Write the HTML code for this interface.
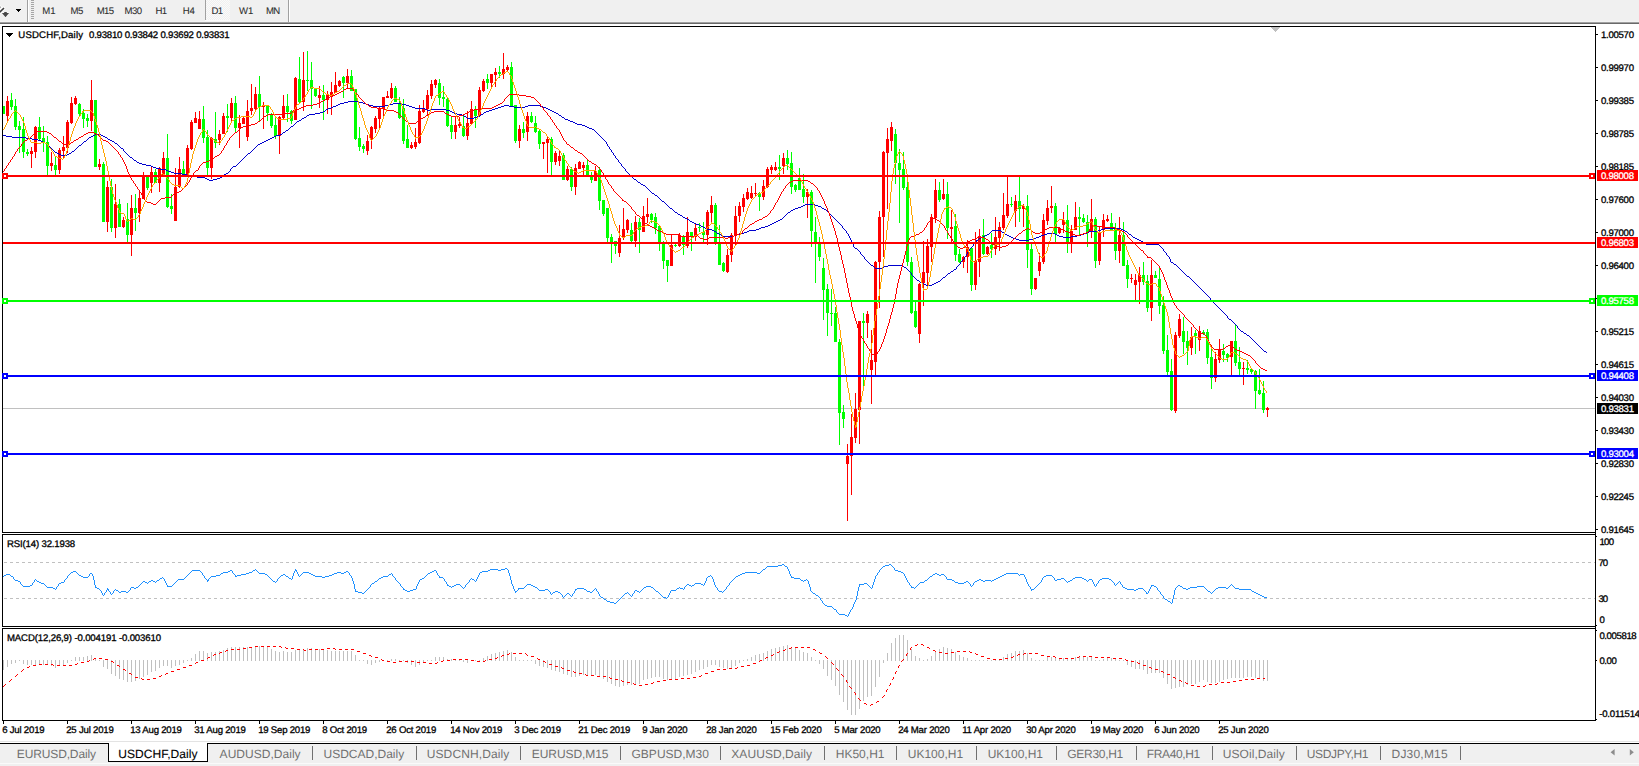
<!DOCTYPE html>
<html lang="en"><head><meta charset="utf-8"><title>USDCHF,Daily</title>
<style>
html,body{margin:0;padding:0;background:#fff;overflow:hidden}
body{width:1639px;height:766px;font-family:"Liberation Sans", sans-serif}
svg{display:block;position:absolute;left:0;top:0;font-family:"Liberation Sans", sans-serif;shape-rendering:crispEdges}
svg text{white-space:pre;stroke:currentColor;stroke-width:0.3px;text-rendering:geometricPrecision}
svg .aa{shape-rendering:geometricPrecision}
</style></head>
<body>
<svg width="1639" height="766" viewBox="0 0 1639 766">
<rect x="0" y="0" width="1639" height="24" fill="#f0f0f0"/>
<rect x="0" y="21" width="1640" height="1" fill="#f3f3f3"/>
<rect x="0" y="22" width="1640" height="1" fill="#a0a0a0"/>
<rect x="0" y="23" width="1640" height="1" fill="#696969"/>
<rect x="0" y="24" width="1639" height="2" fill="#ffffff"/>
<g class="aa"><path d="M-1 13 L3.6 8.3" stroke="#fff" stroke-width="3.2" fill="none" stroke-linecap="round"/><path d="M-1 5.5 L1.6 7.2 L-1 8 Z" fill="#fff" stroke="#fff" stroke-width="1.5"/><path d="M1.2 12.6 L9.8 12.6 L5.5 18 Z" fill="#fff"/><path d="M-1 12.9 L3.5 8.5" stroke="#3c3c3c" stroke-width="1.7" fill="none" stroke-linecap="round"/><path d="M-1 6 L1.4 7.2 L-1 7.6 Z" fill="#404040"/><path d="M1.9 12.9 L9.1 12.9 L5.5 17.3 Z" fill="#484848"/><path d="M4.2 12 h2.6 v1.4 h-2.6z" fill="#484848"/></g>
<rect x="16" y="9" width="5" height="1" fill="#000"/>
<rect x="17" y="10" width="3" height="1" fill="#000"/>
<rect x="18" y="11" width="1" height="1" fill="#000"/>
<rect x="27" y="0" width="1" height="22" fill="#a0a0a0"/>
<rect x="28" y="0" width="1" height="22" fill="#ffffff"/>
<rect x="31" y="0" width="3" height="1" fill="#a6a6a6"/>
<rect x="31" y="2" width="3" height="1" fill="#a6a6a6"/>
<rect x="31" y="4" width="3" height="1" fill="#a6a6a6"/>
<rect x="31" y="6" width="3" height="1" fill="#a6a6a6"/>
<rect x="31" y="8" width="3" height="1" fill="#a6a6a6"/>
<rect x="31" y="10" width="3" height="1" fill="#a6a6a6"/>
<rect x="31" y="12" width="3" height="1" fill="#a6a6a6"/>
<rect x="31" y="14" width="3" height="1" fill="#a6a6a6"/>
<rect x="31" y="16" width="3" height="1" fill="#a6a6a6"/>
<rect x="31" y="18" width="3" height="1" fill="#a6a6a6"/>
<defs><pattern id="chk" width="2" height="2" patternUnits="userSpaceOnUse"><rect width="2" height="2" fill="#f0f0f0"/><rect width="1" height="1" fill="#fafafa"/><rect x="1" y="1" width="1" height="1" fill="#fafafa"/></pattern></defs>
<rect x="206" y="0" width="24" height="20" fill="url(#chk)"/>
<rect x="205" y="0" width="1" height="20" fill="#a0a0a0"/>
<rect x="205" y="20" width="26" height="1" fill="#fbfbfb"/>
<rect x="288" y="0" width="1" height="22" fill="#a0a0a0"/>
<rect x="289" y="0" width="1" height="22" fill="#ffffff"/>
<text x="42.3" y="14" font-size="9.6" fill="#2e2e2e" color="#2e2e2e" textLength="13.2" lengthAdjust="spacing" style="stroke-width:0.08px">M1</text>
<text x="70.5" y="14" font-size="9.6" fill="#2e2e2e" color="#2e2e2e" textLength="12.8" lengthAdjust="spacing" style="stroke-width:0.08px">M5</text>
<text x="96.8" y="14" font-size="9.6" fill="#2e2e2e" color="#2e2e2e" textLength="17.3" lengthAdjust="spacing" style="stroke-width:0.08px">M15</text>
<text x="124.5" y="14" font-size="9.6" fill="#2e2e2e" color="#2e2e2e" textLength="17.7" lengthAdjust="spacing" style="stroke-width:0.08px">M30</text>
<text x="155.6" y="14" font-size="9.6" fill="#2e2e2e" color="#2e2e2e" textLength="11.6" lengthAdjust="spacing" style="stroke-width:0.08px">H1</text>
<text x="182.7" y="14" font-size="9.6" fill="#2e2e2e" color="#2e2e2e" textLength="12.2" lengthAdjust="spacing" style="stroke-width:0.08px">H4</text>
<text x="211.6" y="14" font-size="9.6" fill="#2e2e2e" color="#2e2e2e" textLength="11.6" lengthAdjust="spacing" style="stroke-width:0.08px">D1</text>
<text x="239" y="14" font-size="9.6" fill="#2e2e2e" color="#2e2e2e" textLength="14.3" lengthAdjust="spacing" style="stroke-width:0.08px">W1</text>
<text x="265.9" y="14" font-size="9.6" fill="#2e2e2e" color="#2e2e2e" textLength="14.4" lengthAdjust="spacing" style="stroke-width:0.08px">MN</text>
<rect x="2" y="26" width="1594" height="1" fill="#000"/>
<rect x="2" y="532" width="1594" height="1" fill="#000"/>
<rect x="2" y="534" width="1594" height="1" fill="#000"/>
<rect x="2" y="626" width="1594" height="1" fill="#000"/>
<rect x="2" y="628" width="1594" height="1" fill="#000"/>
<rect x="2" y="720" width="1594" height="1" fill="#000"/>
<rect x="2" y="26" width="1" height="507" fill="#000"/>
<rect x="2" y="534" width="1" height="93" fill="#000"/>
<rect x="2" y="628" width="1" height="93" fill="#000"/>
<rect x="1595" y="26" width="1" height="695" fill="#000"/>
<rect x="1271" y="27" width="9" height="1" fill="#c0c0c0"/>
<rect x="1272" y="28" width="7" height="1" fill="#c0c0c0"/>
<rect x="1273" y="29" width="5" height="1" fill="#c0c0c0"/>
<rect x="1274" y="30" width="3" height="1" fill="#c0c0c0"/>
<rect x="1275" y="31" width="1" height="1" fill="#c0c0c0"/>
<clipPath id="cm"><rect x="3" y="27" width="1592" height="505"/></clipPath>
<g clip-path="url(#cm)">
<rect x="3" y="408" width="1592" height="1" fill="#c0c0c0"/>
<rect x="3" y="106" width="1" height="8" fill="#00ff00"/>
<rect x="2" y="106" width="3" height="8" fill="#00ff00"/>
<rect x="7" y="96" width="1" height="26" fill="#ff0000"/>
<rect x="6" y="101" width="3" height="15" fill="#ff0000"/>
<rect x="11" y="93" width="1" height="17" fill="#00ff00"/>
<rect x="10" y="100" width="3" height="7" fill="#00ff00"/>
<rect x="15" y="99" width="1" height="31" fill="#00ff00"/>
<rect x="14" y="106" width="3" height="21" fill="#00ff00"/>
<rect x="19" y="121" width="1" height="32" fill="#00ff00"/>
<rect x="18" y="126" width="3" height="4" fill="#00ff00"/>
<rect x="23" y="117" width="1" height="41" fill="#00ff00"/>
<rect x="22" y="129" width="3" height="23" fill="#00ff00"/>
<rect x="27" y="149" width="1" height="7" fill="#00ff00"/>
<rect x="26" y="152" width="3" height="2" fill="#00ff00"/>
<rect x="31" y="147" width="1" height="21" fill="#ff0000"/>
<rect x="30" y="151" width="3" height="3" fill="#ff0000"/>
<rect x="35" y="126" width="1" height="32" fill="#ff0000"/>
<rect x="34" y="127" width="3" height="25" fill="#ff0000"/>
<rect x="39" y="117" width="1" height="24" fill="#00ff00"/>
<rect x="38" y="127" width="3" height="12" fill="#00ff00"/>
<rect x="43" y="126" width="1" height="26" fill="#00ff00"/>
<rect x="42" y="138" width="3" height="4" fill="#00ff00"/>
<rect x="47" y="136" width="1" height="40" fill="#00ff00"/>
<rect x="46" y="142" width="3" height="24" fill="#00ff00"/>
<rect x="51" y="152" width="1" height="19" fill="#ff0000"/>
<rect x="50" y="163" width="3" height="3" fill="#ff0000"/>
<rect x="55" y="156" width="1" height="19" fill="#00ff00"/>
<rect x="54" y="165" width="3" height="5" fill="#00ff00"/>
<rect x="59" y="148" width="1" height="26" fill="#ff0000"/>
<rect x="58" y="150" width="3" height="20" fill="#ff0000"/>
<rect x="63" y="136" width="1" height="22" fill="#ff0000"/>
<rect x="62" y="147" width="3" height="4" fill="#ff0000"/>
<rect x="67" y="120" width="1" height="33" fill="#ff0000"/>
<rect x="66" y="122" width="3" height="26" fill="#ff0000"/>
<rect x="71" y="97" width="1" height="27" fill="#ff0000"/>
<rect x="70" y="103" width="3" height="20" fill="#ff0000"/>
<rect x="75" y="96" width="1" height="9" fill="#ff0000"/>
<rect x="74" y="98" width="3" height="6" fill="#ff0000"/>
<rect x="79" y="103" width="1" height="14" fill="#00ff00"/>
<rect x="78" y="104" width="3" height="10" fill="#00ff00"/>
<rect x="83" y="109" width="1" height="19" fill="#00ff00"/>
<rect x="82" y="113" width="3" height="6" fill="#00ff00"/>
<rect x="87" y="114" width="1" height="13" fill="#00ff00"/>
<rect x="86" y="118" width="3" height="3" fill="#00ff00"/>
<rect x="91" y="80" width="1" height="51" fill="#ff0000"/>
<rect x="90" y="100" width="3" height="21" fill="#ff0000"/>
<rect x="95" y="100" width="1" height="67" fill="#00ff00"/>
<rect x="94" y="100" width="3" height="67" fill="#00ff00"/>
<rect x="99" y="159" width="1" height="11" fill="#ff0000"/>
<rect x="98" y="164" width="3" height="3" fill="#ff0000"/>
<rect x="103" y="162" width="1" height="60" fill="#00ff00"/>
<rect x="102" y="164" width="3" height="58" fill="#00ff00"/>
<rect x="107" y="181" width="1" height="51" fill="#ff0000"/>
<rect x="106" y="187" width="3" height="35" fill="#ff0000"/>
<rect x="111" y="179" width="1" height="53" fill="#00ff00"/>
<rect x="110" y="187" width="3" height="41" fill="#00ff00"/>
<rect x="115" y="184" width="1" height="54" fill="#ff0000"/>
<rect x="114" y="204" width="3" height="24" fill="#ff0000"/>
<rect x="119" y="199" width="1" height="28" fill="#00ff00"/>
<rect x="118" y="204" width="3" height="23" fill="#00ff00"/>
<rect x="123" y="217" width="1" height="11" fill="#ff0000"/>
<rect x="122" y="220" width="3" height="7" fill="#ff0000"/>
<rect x="127" y="203" width="1" height="39" fill="#00ff00"/>
<rect x="126" y="219" width="3" height="16" fill="#00ff00"/>
<rect x="131" y="195" width="1" height="61" fill="#ff0000"/>
<rect x="130" y="208" width="3" height="27" fill="#ff0000"/>
<rect x="135" y="194" width="1" height="37" fill="#00ff00"/>
<rect x="134" y="208" width="3" height="5" fill="#00ff00"/>
<rect x="139" y="191" width="1" height="31" fill="#ff0000"/>
<rect x="138" y="198" width="3" height="15" fill="#ff0000"/>
<rect x="143" y="172" width="1" height="27" fill="#ff0000"/>
<rect x="142" y="176" width="3" height="23" fill="#ff0000"/>
<rect x="147" y="175" width="1" height="15" fill="#00ff00"/>
<rect x="146" y="176" width="3" height="12" fill="#00ff00"/>
<rect x="151" y="166" width="1" height="27" fill="#ff0000"/>
<rect x="150" y="172" width="3" height="11" fill="#ff0000"/>
<rect x="155" y="169" width="1" height="14" fill="#00ff00"/>
<rect x="154" y="172" width="3" height="11" fill="#00ff00"/>
<rect x="159" y="167" width="1" height="25" fill="#ff0000"/>
<rect x="158" y="168" width="3" height="15" fill="#ff0000"/>
<rect x="163" y="152" width="1" height="24" fill="#ff0000"/>
<rect x="162" y="158" width="3" height="17" fill="#ff0000"/>
<rect x="167" y="134" width="1" height="74" fill="#00ff00"/>
<rect x="166" y="158" width="3" height="49" fill="#00ff00"/>
<rect x="171" y="194" width="1" height="20" fill="#00ff00"/>
<rect x="170" y="206" width="3" height="3" fill="#00ff00"/>
<rect x="175" y="168" width="1" height="53" fill="#ff0000"/>
<rect x="174" y="187" width="3" height="34" fill="#ff0000"/>
<rect x="179" y="157" width="1" height="31" fill="#ff0000"/>
<rect x="178" y="169" width="3" height="18" fill="#ff0000"/>
<rect x="183" y="161" width="1" height="15" fill="#00ff00"/>
<rect x="182" y="169" width="3" height="6" fill="#00ff00"/>
<rect x="187" y="145" width="1" height="31" fill="#ff0000"/>
<rect x="186" y="148" width="3" height="27" fill="#ff0000"/>
<rect x="191" y="120" width="1" height="30" fill="#ff0000"/>
<rect x="190" y="122" width="3" height="27" fill="#ff0000"/>
<rect x="195" y="112" width="1" height="11" fill="#ff0000"/>
<rect x="194" y="118" width="3" height="5" fill="#ff0000"/>
<rect x="199" y="111" width="1" height="18" fill="#ff0000"/>
<rect x="198" y="119" width="3" height="10" fill="#ff0000"/>
<rect x="203" y="106" width="1" height="37" fill="#00ff00"/>
<rect x="202" y="119" width="3" height="19" fill="#00ff00"/>
<rect x="207" y="130" width="1" height="45" fill="#00ff00"/>
<rect x="206" y="137" width="3" height="31" fill="#00ff00"/>
<rect x="211" y="137" width="1" height="42" fill="#ff0000"/>
<rect x="210" y="138" width="3" height="30" fill="#ff0000"/>
<rect x="215" y="112" width="1" height="36" fill="#00ff00"/>
<rect x="214" y="139" width="3" height="4" fill="#00ff00"/>
<rect x="219" y="130" width="1" height="15" fill="#ff0000"/>
<rect x="218" y="134" width="3" height="6" fill="#ff0000"/>
<rect x="223" y="113" width="1" height="21" fill="#ff0000"/>
<rect x="222" y="116" width="3" height="18" fill="#ff0000"/>
<rect x="227" y="104" width="1" height="28" fill="#00ff00"/>
<rect x="226" y="116" width="3" height="2" fill="#00ff00"/>
<rect x="231" y="98" width="1" height="23" fill="#ff0000"/>
<rect x="230" y="103" width="3" height="15" fill="#ff0000"/>
<rect x="235" y="96" width="1" height="36" fill="#00ff00"/>
<rect x="234" y="103" width="3" height="25" fill="#00ff00"/>
<rect x="239" y="115" width="1" height="33" fill="#ff0000"/>
<rect x="238" y="123" width="3" height="5" fill="#ff0000"/>
<rect x="243" y="116" width="1" height="8" fill="#ff0000"/>
<rect x="242" y="118" width="3" height="6" fill="#ff0000"/>
<rect x="247" y="100" width="1" height="41" fill="#ff0000"/>
<rect x="246" y="111" width="3" height="26" fill="#ff0000"/>
<rect x="251" y="84" width="1" height="31" fill="#ff0000"/>
<rect x="250" y="108" width="3" height="3" fill="#ff0000"/>
<rect x="255" y="87" width="1" height="23" fill="#ff0000"/>
<rect x="254" y="94" width="3" height="15" fill="#ff0000"/>
<rect x="259" y="76" width="1" height="45" fill="#00ff00"/>
<rect x="258" y="94" width="3" height="13" fill="#00ff00"/>
<rect x="263" y="102" width="1" height="27" fill="#ff0000"/>
<rect x="262" y="105" width="3" height="2" fill="#ff0000"/>
<rect x="267" y="105" width="1" height="16" fill="#00ff00"/>
<rect x="266" y="105" width="3" height="8" fill="#00ff00"/>
<rect x="271" y="113" width="1" height="15" fill="#00ff00"/>
<rect x="270" y="114" width="3" height="12" fill="#00ff00"/>
<rect x="275" y="118" width="1" height="21" fill="#00ff00"/>
<rect x="274" y="125" width="3" height="11" fill="#00ff00"/>
<rect x="279" y="116" width="1" height="38" fill="#ff0000"/>
<rect x="278" y="117" width="3" height="19" fill="#ff0000"/>
<rect x="283" y="95" width="1" height="24" fill="#ff0000"/>
<rect x="282" y="106" width="3" height="12" fill="#ff0000"/>
<rect x="287" y="94" width="1" height="28" fill="#00ff00"/>
<rect x="286" y="106" width="3" height="6" fill="#00ff00"/>
<rect x="291" y="110" width="1" height="14" fill="#00ff00"/>
<rect x="290" y="111" width="3" height="10" fill="#00ff00"/>
<rect x="295" y="77" width="1" height="43" fill="#ff0000"/>
<rect x="294" y="78" width="3" height="42" fill="#ff0000"/>
<rect x="299" y="57" width="1" height="46" fill="#00ff00"/>
<rect x="298" y="79" width="3" height="23" fill="#00ff00"/>
<rect x="303" y="52" width="1" height="59" fill="#ff0000"/>
<rect x="302" y="80" width="3" height="22" fill="#ff0000"/>
<rect x="307" y="51" width="1" height="40" fill="#00ff00"/>
<rect x="306" y="80" width="3" height="1" fill="#00ff00"/>
<rect x="311" y="62" width="1" height="47" fill="#00ff00"/>
<rect x="310" y="80" width="3" height="9" fill="#00ff00"/>
<rect x="315" y="88" width="1" height="9" fill="#00ff00"/>
<rect x="314" y="89" width="3" height="7" fill="#00ff00"/>
<rect x="319" y="86" width="1" height="22" fill="#ff0000"/>
<rect x="318" y="95" width="3" height="3" fill="#ff0000"/>
<rect x="323" y="85" width="1" height="35" fill="#00ff00"/>
<rect x="322" y="95" width="3" height="5" fill="#00ff00"/>
<rect x="327" y="91" width="1" height="23" fill="#ff0000"/>
<rect x="326" y="95" width="3" height="5" fill="#ff0000"/>
<rect x="331" y="82" width="1" height="33" fill="#ff0000"/>
<rect x="330" y="92" width="3" height="4" fill="#ff0000"/>
<rect x="335" y="72" width="1" height="21" fill="#ff0000"/>
<rect x="334" y="85" width="3" height="8" fill="#ff0000"/>
<rect x="339" y="80" width="1" height="7" fill="#ff0000"/>
<rect x="338" y="81" width="3" height="5" fill="#ff0000"/>
<rect x="343" y="76" width="1" height="22" fill="#00ff00"/>
<rect x="342" y="77" width="3" height="6" fill="#00ff00"/>
<rect x="347" y="69" width="1" height="19" fill="#ff0000"/>
<rect x="346" y="76" width="3" height="7" fill="#ff0000"/>
<rect x="351" y="70" width="1" height="21" fill="#00ff00"/>
<rect x="350" y="76" width="3" height="15" fill="#00ff00"/>
<rect x="355" y="89" width="1" height="51" fill="#00ff00"/>
<rect x="354" y="89" width="3" height="50" fill="#00ff00"/>
<rect x="359" y="127" width="1" height="24" fill="#00ff00"/>
<rect x="358" y="138" width="3" height="9" fill="#00ff00"/>
<rect x="363" y="144" width="1" height="9" fill="#00ff00"/>
<rect x="362" y="146" width="3" height="3" fill="#00ff00"/>
<rect x="367" y="135" width="1" height="20" fill="#ff0000"/>
<rect x="366" y="141" width="3" height="10" fill="#ff0000"/>
<rect x="371" y="126" width="1" height="23" fill="#ff0000"/>
<rect x="370" y="127" width="3" height="13" fill="#ff0000"/>
<rect x="375" y="116" width="1" height="17" fill="#ff0000"/>
<rect x="374" y="118" width="3" height="11" fill="#ff0000"/>
<rect x="379" y="107" width="1" height="22" fill="#ff0000"/>
<rect x="378" y="109" width="3" height="10" fill="#ff0000"/>
<rect x="383" y="97" width="1" height="19" fill="#ff0000"/>
<rect x="382" y="97" width="3" height="12" fill="#ff0000"/>
<rect x="387" y="91" width="1" height="7" fill="#ff0000"/>
<rect x="386" y="96" width="3" height="2" fill="#ff0000"/>
<rect x="391" y="83" width="1" height="16" fill="#ff0000"/>
<rect x="390" y="88" width="3" height="10" fill="#ff0000"/>
<rect x="395" y="86" width="1" height="16" fill="#00ff00"/>
<rect x="394" y="88" width="3" height="14" fill="#00ff00"/>
<rect x="399" y="97" width="1" height="22" fill="#00ff00"/>
<rect x="398" y="103" width="3" height="15" fill="#00ff00"/>
<rect x="403" y="99" width="1" height="45" fill="#00ff00"/>
<rect x="402" y="108" width="3" height="33" fill="#00ff00"/>
<rect x="407" y="125" width="1" height="23" fill="#00ff00"/>
<rect x="406" y="139" width="3" height="9" fill="#00ff00"/>
<rect x="411" y="142" width="1" height="7" fill="#ff0000"/>
<rect x="410" y="145" width="3" height="3" fill="#ff0000"/>
<rect x="415" y="128" width="1" height="21" fill="#ff0000"/>
<rect x="414" y="142" width="3" height="5" fill="#ff0000"/>
<rect x="419" y="105" width="1" height="39" fill="#ff0000"/>
<rect x="418" y="111" width="3" height="32" fill="#ff0000"/>
<rect x="423" y="100" width="1" height="13" fill="#ff0000"/>
<rect x="422" y="109" width="3" height="3" fill="#ff0000"/>
<rect x="427" y="90" width="1" height="26" fill="#ff0000"/>
<rect x="426" y="95" width="3" height="14" fill="#ff0000"/>
<rect x="431" y="80" width="1" height="19" fill="#ff0000"/>
<rect x="430" y="84" width="3" height="12" fill="#ff0000"/>
<rect x="435" y="79" width="1" height="9" fill="#ff0000"/>
<rect x="434" y="80" width="3" height="5" fill="#ff0000"/>
<rect x="439" y="79" width="1" height="26" fill="#00ff00"/>
<rect x="438" y="83" width="3" height="15" fill="#00ff00"/>
<rect x="443" y="86" width="1" height="21" fill="#00ff00"/>
<rect x="442" y="97" width="3" height="2" fill="#00ff00"/>
<rect x="447" y="98" width="1" height="29" fill="#00ff00"/>
<rect x="446" y="99" width="3" height="27" fill="#00ff00"/>
<rect x="451" y="117" width="1" height="22" fill="#00ff00"/>
<rect x="450" y="125" width="3" height="7" fill="#00ff00"/>
<rect x="455" y="116" width="1" height="23" fill="#ff0000"/>
<rect x="454" y="125" width="3" height="7" fill="#ff0000"/>
<rect x="459" y="117" width="1" height="11" fill="#ff0000"/>
<rect x="458" y="124" width="3" height="2" fill="#ff0000"/>
<rect x="463" y="115" width="1" height="22" fill="#00ff00"/>
<rect x="462" y="126" width="3" height="10" fill="#00ff00"/>
<rect x="467" y="111" width="1" height="29" fill="#ff0000"/>
<rect x="466" y="123" width="3" height="13" fill="#ff0000"/>
<rect x="471" y="101" width="1" height="23" fill="#ff0000"/>
<rect x="470" y="109" width="3" height="15" fill="#ff0000"/>
<rect x="475" y="106" width="1" height="22" fill="#00ff00"/>
<rect x="474" y="109" width="3" height="7" fill="#00ff00"/>
<rect x="479" y="87" width="1" height="29" fill="#ff0000"/>
<rect x="478" y="90" width="3" height="26" fill="#ff0000"/>
<rect x="483" y="79" width="1" height="13" fill="#ff0000"/>
<rect x="482" y="81" width="3" height="10" fill="#ff0000"/>
<rect x="487" y="74" width="1" height="15" fill="#00ff00"/>
<rect x="486" y="79" width="3" height="4" fill="#00ff00"/>
<rect x="491" y="74" width="1" height="13" fill="#ff0000"/>
<rect x="490" y="74" width="3" height="9" fill="#ff0000"/>
<rect x="495" y="68" width="1" height="19" fill="#ff0000"/>
<rect x="494" y="72" width="3" height="3" fill="#ff0000"/>
<rect x="499" y="66" width="1" height="12" fill="#00ff00"/>
<rect x="498" y="72" width="3" height="2" fill="#00ff00"/>
<rect x="503" y="53" width="1" height="26" fill="#ff0000"/>
<rect x="502" y="69" width="3" height="5" fill="#ff0000"/>
<rect x="507" y="65" width="1" height="6" fill="#ff0000"/>
<rect x="506" y="67" width="3" height="3" fill="#ff0000"/>
<rect x="511" y="62" width="1" height="44" fill="#00ff00"/>
<rect x="510" y="67" width="3" height="39" fill="#00ff00"/>
<rect x="515" y="105" width="1" height="38" fill="#00ff00"/>
<rect x="514" y="105" width="3" height="36" fill="#00ff00"/>
<rect x="519" y="125" width="1" height="23" fill="#ff0000"/>
<rect x="518" y="129" width="3" height="12" fill="#ff0000"/>
<rect x="523" y="122" width="1" height="16" fill="#00ff00"/>
<rect x="522" y="129" width="3" height="4" fill="#00ff00"/>
<rect x="527" y="112" width="1" height="29" fill="#ff0000"/>
<rect x="526" y="116" width="3" height="16" fill="#ff0000"/>
<rect x="531" y="112" width="1" height="11" fill="#00ff00"/>
<rect x="530" y="116" width="3" height="6" fill="#00ff00"/>
<rect x="535" y="116" width="1" height="17" fill="#00ff00"/>
<rect x="534" y="123" width="3" height="9" fill="#00ff00"/>
<rect x="539" y="130" width="1" height="19" fill="#00ff00"/>
<rect x="538" y="131" width="3" height="13" fill="#00ff00"/>
<rect x="543" y="142" width="1" height="17" fill="#ff0000"/>
<rect x="542" y="142" width="3" height="2" fill="#ff0000"/>
<rect x="547" y="137" width="1" height="36" fill="#ff0000"/>
<rect x="546" y="139" width="3" height="4" fill="#ff0000"/>
<rect x="551" y="137" width="1" height="38" fill="#00ff00"/>
<rect x="550" y="139" width="3" height="23" fill="#00ff00"/>
<rect x="555" y="151" width="1" height="14" fill="#ff0000"/>
<rect x="554" y="153" width="3" height="9" fill="#ff0000"/>
<rect x="559" y="151" width="1" height="15" fill="#ff0000"/>
<rect x="558" y="156" width="3" height="5" fill="#ff0000"/>
<rect x="563" y="153" width="1" height="27" fill="#00ff00"/>
<rect x="562" y="155" width="3" height="25" fill="#00ff00"/>
<rect x="567" y="166" width="1" height="15" fill="#ff0000"/>
<rect x="566" y="169" width="3" height="11" fill="#ff0000"/>
<rect x="571" y="167" width="1" height="24" fill="#00ff00"/>
<rect x="570" y="169" width="3" height="18" fill="#00ff00"/>
<rect x="575" y="164" width="1" height="31" fill="#ff0000"/>
<rect x="574" y="168" width="3" height="19" fill="#ff0000"/>
<rect x="579" y="161" width="1" height="8" fill="#ff0000"/>
<rect x="578" y="162" width="3" height="7" fill="#ff0000"/>
<rect x="583" y="162" width="1" height="13" fill="#ff0000"/>
<rect x="582" y="165" width="3" height="3" fill="#ff0000"/>
<rect x="587" y="160" width="1" height="17" fill="#00ff00"/>
<rect x="586" y="165" width="3" height="10" fill="#00ff00"/>
<rect x="591" y="172" width="1" height="11" fill="#00ff00"/>
<rect x="590" y="177" width="3" height="3" fill="#00ff00"/>
<rect x="595" y="166" width="1" height="15" fill="#ff0000"/>
<rect x="594" y="171" width="3" height="10" fill="#ff0000"/>
<rect x="599" y="167" width="1" height="43" fill="#00ff00"/>
<rect x="598" y="170" width="3" height="31" fill="#00ff00"/>
<rect x="603" y="200" width="1" height="16" fill="#00ff00"/>
<rect x="602" y="200" width="3" height="14" fill="#00ff00"/>
<rect x="607" y="208" width="1" height="34" fill="#00ff00"/>
<rect x="606" y="208" width="3" height="30" fill="#00ff00"/>
<rect x="611" y="234" width="1" height="29" fill="#00ff00"/>
<rect x="610" y="237" width="3" height="5" fill="#00ff00"/>
<rect x="615" y="241" width="1" height="13" fill="#00ff00"/>
<rect x="614" y="241" width="3" height="5" fill="#00ff00"/>
<rect x="619" y="225" width="1" height="32" fill="#ff0000"/>
<rect x="618" y="238" width="3" height="15" fill="#ff0000"/>
<rect x="623" y="208" width="1" height="32" fill="#ff0000"/>
<rect x="622" y="229" width="3" height="8" fill="#ff0000"/>
<rect x="627" y="219" width="1" height="14" fill="#ff0000"/>
<rect x="626" y="220" width="3" height="10" fill="#ff0000"/>
<rect x="631" y="223" width="1" height="19" fill="#00ff00"/>
<rect x="630" y="230" width="3" height="11" fill="#00ff00"/>
<rect x="635" y="216" width="1" height="31" fill="#ff0000"/>
<rect x="634" y="222" width="3" height="19" fill="#ff0000"/>
<rect x="639" y="218" width="1" height="35" fill="#00ff00"/>
<rect x="638" y="222" width="3" height="8" fill="#00ff00"/>
<rect x="643" y="206" width="1" height="26" fill="#ff0000"/>
<rect x="642" y="216" width="3" height="16" fill="#ff0000"/>
<rect x="647" y="198" width="1" height="25" fill="#ff0000"/>
<rect x="646" y="214" width="3" height="3" fill="#ff0000"/>
<rect x="651" y="213" width="1" height="10" fill="#00ff00"/>
<rect x="650" y="214" width="3" height="6" fill="#00ff00"/>
<rect x="655" y="213" width="1" height="21" fill="#00ff00"/>
<rect x="654" y="217" width="3" height="11" fill="#00ff00"/>
<rect x="659" y="225" width="1" height="26" fill="#00ff00"/>
<rect x="658" y="226" width="3" height="16" fill="#00ff00"/>
<rect x="663" y="241" width="1" height="28" fill="#00ff00"/>
<rect x="662" y="244" width="3" height="17" fill="#00ff00"/>
<rect x="667" y="260" width="1" height="22" fill="#00ff00"/>
<rect x="666" y="260" width="3" height="6" fill="#00ff00"/>
<rect x="671" y="235" width="1" height="31" fill="#ff0000"/>
<rect x="670" y="245" width="3" height="21" fill="#ff0000"/>
<rect x="675" y="244" width="1" height="3" fill="#00ff00"/>
<rect x="674" y="245" width="3" height="1" fill="#00ff00"/>
<rect x="679" y="233" width="1" height="14" fill="#ff0000"/>
<rect x="678" y="235" width="3" height="11" fill="#ff0000"/>
<rect x="683" y="235" width="1" height="20" fill="#00ff00"/>
<rect x="682" y="237" width="3" height="8" fill="#00ff00"/>
<rect x="687" y="217" width="1" height="31" fill="#ff0000"/>
<rect x="686" y="232" width="3" height="14" fill="#ff0000"/>
<rect x="691" y="232" width="1" height="19" fill="#00ff00"/>
<rect x="690" y="232" width="3" height="5" fill="#00ff00"/>
<rect x="695" y="223" width="1" height="18" fill="#ff0000"/>
<rect x="694" y="228" width="3" height="9" fill="#ff0000"/>
<rect x="699" y="223" width="1" height="9" fill="#00ff00"/>
<rect x="698" y="227" width="3" height="1" fill="#00ff00"/>
<rect x="703" y="222" width="1" height="20" fill="#00ff00"/>
<rect x="702" y="232" width="3" height="3" fill="#00ff00"/>
<rect x="707" y="210" width="1" height="35" fill="#ff0000"/>
<rect x="706" y="212" width="3" height="23" fill="#ff0000"/>
<rect x="711" y="196" width="1" height="26" fill="#ff0000"/>
<rect x="710" y="205" width="3" height="8" fill="#ff0000"/>
<rect x="715" y="203" width="1" height="42" fill="#00ff00"/>
<rect x="714" y="205" width="3" height="37" fill="#00ff00"/>
<rect x="719" y="225" width="1" height="40" fill="#00ff00"/>
<rect x="718" y="242" width="3" height="23" fill="#00ff00"/>
<rect x="723" y="262" width="1" height="10" fill="#00ff00"/>
<rect x="722" y="263" width="3" height="8" fill="#00ff00"/>
<rect x="727" y="249" width="1" height="24" fill="#ff0000"/>
<rect x="726" y="255" width="3" height="17" fill="#ff0000"/>
<rect x="731" y="233" width="1" height="29" fill="#ff0000"/>
<rect x="730" y="235" width="3" height="20" fill="#ff0000"/>
<rect x="735" y="206" width="1" height="40" fill="#ff0000"/>
<rect x="734" y="216" width="3" height="19" fill="#ff0000"/>
<rect x="739" y="202" width="1" height="20" fill="#ff0000"/>
<rect x="738" y="206" width="3" height="10" fill="#ff0000"/>
<rect x="743" y="194" width="1" height="18" fill="#ff0000"/>
<rect x="742" y="198" width="3" height="9" fill="#ff0000"/>
<rect x="747" y="188" width="1" height="12" fill="#ff0000"/>
<rect x="746" y="192" width="3" height="7" fill="#ff0000"/>
<rect x="751" y="186" width="1" height="13" fill="#ff0000"/>
<rect x="750" y="193" width="3" height="5" fill="#ff0000"/>
<rect x="755" y="183" width="1" height="13" fill="#ff0000"/>
<rect x="754" y="193" width="3" height="1" fill="#ff0000"/>
<rect x="759" y="192" width="1" height="19" fill="#00ff00"/>
<rect x="758" y="193" width="3" height="4" fill="#00ff00"/>
<rect x="763" y="180" width="1" height="20" fill="#ff0000"/>
<rect x="762" y="186" width="3" height="11" fill="#ff0000"/>
<rect x="767" y="167" width="1" height="21" fill="#ff0000"/>
<rect x="766" y="169" width="3" height="18" fill="#ff0000"/>
<rect x="771" y="165" width="1" height="9" fill="#ff0000"/>
<rect x="770" y="167" width="3" height="3" fill="#ff0000"/>
<rect x="775" y="162" width="1" height="9" fill="#ff0000"/>
<rect x="774" y="167" width="3" height="3" fill="#ff0000"/>
<rect x="779" y="155" width="1" height="25" fill="#00ff00"/>
<rect x="778" y="167" width="3" height="2" fill="#00ff00"/>
<rect x="783" y="153" width="1" height="21" fill="#ff0000"/>
<rect x="782" y="158" width="3" height="8" fill="#ff0000"/>
<rect x="787" y="150" width="1" height="20" fill="#00ff00"/>
<rect x="786" y="158" width="3" height="6" fill="#00ff00"/>
<rect x="791" y="152" width="1" height="42" fill="#00ff00"/>
<rect x="790" y="163" width="3" height="24" fill="#00ff00"/>
<rect x="795" y="184" width="1" height="8" fill="#00ff00"/>
<rect x="794" y="185" width="3" height="5" fill="#00ff00"/>
<rect x="799" y="168" width="1" height="22" fill="#00ff00"/>
<rect x="798" y="178" width="3" height="12" fill="#00ff00"/>
<rect x="803" y="174" width="1" height="29" fill="#00ff00"/>
<rect x="802" y="189" width="3" height="8" fill="#00ff00"/>
<rect x="807" y="189" width="1" height="29" fill="#ff0000"/>
<rect x="806" y="192" width="3" height="5" fill="#ff0000"/>
<rect x="811" y="190" width="1" height="57" fill="#00ff00"/>
<rect x="810" y="192" width="3" height="39" fill="#00ff00"/>
<rect x="815" y="217" width="1" height="66" fill="#00ff00"/>
<rect x="814" y="232" width="3" height="10" fill="#00ff00"/>
<rect x="819" y="237" width="1" height="24" fill="#00ff00"/>
<rect x="818" y="243" width="3" height="14" fill="#00ff00"/>
<rect x="823" y="258" width="1" height="62" fill="#00ff00"/>
<rect x="822" y="268" width="3" height="22" fill="#00ff00"/>
<rect x="827" y="284" width="1" height="52" fill="#00ff00"/>
<rect x="826" y="289" width="3" height="24" fill="#00ff00"/>
<rect x="831" y="289" width="1" height="37" fill="#00ff00"/>
<rect x="830" y="313" width="3" height="1" fill="#00ff00"/>
<rect x="835" y="307" width="1" height="35" fill="#00ff00"/>
<rect x="834" y="313" width="3" height="29" fill="#00ff00"/>
<rect x="839" y="339" width="1" height="106" fill="#00ff00"/>
<rect x="838" y="342" width="3" height="71" fill="#00ff00"/>
<rect x="843" y="405" width="1" height="23" fill="#00ff00"/>
<rect x="842" y="412" width="3" height="7" fill="#00ff00"/>
<rect x="847" y="444" width="1" height="77" fill="#ff0000"/>
<rect x="846" y="456" width="3" height="8" fill="#ff0000"/>
<rect x="851" y="414" width="1" height="81" fill="#ff0000"/>
<rect x="850" y="437" width="3" height="19" fill="#ff0000"/>
<rect x="855" y="393" width="1" height="50" fill="#ff0000"/>
<rect x="854" y="409" width="3" height="29" fill="#ff0000"/>
<rect x="859" y="321" width="1" height="123" fill="#ff0000"/>
<rect x="858" y="321" width="3" height="89" fill="#ff0000"/>
<rect x="863" y="313" width="1" height="73" fill="#00ff00"/>
<rect x="862" y="321" width="3" height="2" fill="#00ff00"/>
<rect x="867" y="311" width="1" height="27" fill="#ff0000"/>
<rect x="866" y="314" width="3" height="9" fill="#ff0000"/>
<rect x="871" y="330" width="1" height="74" fill="#ff0000"/>
<rect x="870" y="360" width="3" height="10" fill="#ff0000"/>
<rect x="875" y="261" width="1" height="114" fill="#ff0000"/>
<rect x="874" y="262" width="3" height="100" fill="#ff0000"/>
<rect x="879" y="211" width="1" height="97" fill="#ff0000"/>
<rect x="878" y="217" width="3" height="45" fill="#ff0000"/>
<rect x="883" y="151" width="1" height="106" fill="#ff0000"/>
<rect x="882" y="152" width="3" height="65" fill="#ff0000"/>
<rect x="887" y="128" width="1" height="81" fill="#ff0000"/>
<rect x="886" y="139" width="3" height="14" fill="#ff0000"/>
<rect x="891" y="122" width="1" height="29" fill="#ff0000"/>
<rect x="890" y="127" width="3" height="14" fill="#ff0000"/>
<rect x="895" y="129" width="1" height="55" fill="#00ff00"/>
<rect x="894" y="134" width="3" height="29" fill="#00ff00"/>
<rect x="899" y="149" width="1" height="74" fill="#00ff00"/>
<rect x="898" y="163" width="3" height="7" fill="#00ff00"/>
<rect x="903" y="152" width="1" height="38" fill="#00ff00"/>
<rect x="902" y="169" width="3" height="19" fill="#00ff00"/>
<rect x="907" y="176" width="1" height="90" fill="#00ff00"/>
<rect x="906" y="187" width="3" height="75" fill="#00ff00"/>
<rect x="911" y="257" width="1" height="57" fill="#00ff00"/>
<rect x="910" y="262" width="3" height="51" fill="#00ff00"/>
<rect x="915" y="301" width="1" height="27" fill="#00ff00"/>
<rect x="914" y="311" width="3" height="16" fill="#00ff00"/>
<rect x="919" y="283" width="1" height="60" fill="#ff0000"/>
<rect x="918" y="284" width="3" height="50" fill="#ff0000"/>
<rect x="923" y="241" width="1" height="65" fill="#ff0000"/>
<rect x="922" y="272" width="3" height="11" fill="#ff0000"/>
<rect x="927" y="239" width="1" height="47" fill="#ff0000"/>
<rect x="926" y="246" width="3" height="27" fill="#ff0000"/>
<rect x="931" y="214" width="1" height="48" fill="#ff0000"/>
<rect x="930" y="217" width="3" height="30" fill="#ff0000"/>
<rect x="935" y="179" width="1" height="44" fill="#ff0000"/>
<rect x="934" y="190" width="3" height="28" fill="#ff0000"/>
<rect x="939" y="182" width="1" height="20" fill="#00ff00"/>
<rect x="938" y="190" width="3" height="10" fill="#00ff00"/>
<rect x="943" y="179" width="1" height="21" fill="#ff0000"/>
<rect x="942" y="194" width="3" height="5" fill="#ff0000"/>
<rect x="947" y="182" width="1" height="57" fill="#00ff00"/>
<rect x="946" y="194" width="3" height="34" fill="#00ff00"/>
<rect x="951" y="210" width="1" height="32" fill="#ff0000"/>
<rect x="950" y="227" width="3" height="2" fill="#ff0000"/>
<rect x="955" y="214" width="1" height="47" fill="#00ff00"/>
<rect x="954" y="226" width="3" height="29" fill="#00ff00"/>
<rect x="959" y="249" width="1" height="14" fill="#00ff00"/>
<rect x="958" y="254" width="3" height="8" fill="#00ff00"/>
<rect x="963" y="256" width="1" height="12" fill="#ff0000"/>
<rect x="962" y="257" width="3" height="5" fill="#ff0000"/>
<rect x="967" y="240" width="1" height="33" fill="#ff0000"/>
<rect x="966" y="247" width="3" height="10" fill="#ff0000"/>
<rect x="971" y="247" width="1" height="44" fill="#00ff00"/>
<rect x="970" y="248" width="3" height="37" fill="#00ff00"/>
<rect x="975" y="232" width="1" height="58" fill="#ff0000"/>
<rect x="974" y="261" width="3" height="24" fill="#ff0000"/>
<rect x="979" y="229" width="1" height="48" fill="#ff0000"/>
<rect x="978" y="236" width="3" height="26" fill="#ff0000"/>
<rect x="983" y="219" width="1" height="36" fill="#00ff00"/>
<rect x="982" y="235" width="3" height="19" fill="#00ff00"/>
<rect x="987" y="246" width="1" height="9" fill="#ff0000"/>
<rect x="986" y="247" width="3" height="7" fill="#ff0000"/>
<rect x="991" y="233" width="1" height="25" fill="#00ff00"/>
<rect x="990" y="245" width="3" height="4" fill="#00ff00"/>
<rect x="995" y="217" width="1" height="38" fill="#ff0000"/>
<rect x="994" y="237" width="3" height="12" fill="#ff0000"/>
<rect x="999" y="222" width="1" height="29" fill="#ff0000"/>
<rect x="998" y="227" width="3" height="11" fill="#ff0000"/>
<rect x="1003" y="193" width="1" height="37" fill="#ff0000"/>
<rect x="1002" y="215" width="3" height="13" fill="#ff0000"/>
<rect x="1007" y="177" width="1" height="41" fill="#ff0000"/>
<rect x="1006" y="204" width="3" height="12" fill="#ff0000"/>
<rect x="1011" y="197" width="1" height="10" fill="#00ff00"/>
<rect x="1010" y="204" width="3" height="1" fill="#00ff00"/>
<rect x="1015" y="195" width="1" height="32" fill="#ff0000"/>
<rect x="1014" y="201" width="3" height="10" fill="#ff0000"/>
<rect x="1019" y="177" width="1" height="45" fill="#00ff00"/>
<rect x="1018" y="201" width="3" height="8" fill="#00ff00"/>
<rect x="1023" y="204" width="1" height="23" fill="#ff0000"/>
<rect x="1022" y="206" width="3" height="3" fill="#ff0000"/>
<rect x="1027" y="195" width="1" height="73" fill="#00ff00"/>
<rect x="1026" y="206" width="3" height="44" fill="#00ff00"/>
<rect x="1031" y="244" width="1" height="51" fill="#00ff00"/>
<rect x="1030" y="249" width="3" height="40" fill="#00ff00"/>
<rect x="1035" y="278" width="1" height="12" fill="#ff0000"/>
<rect x="1034" y="278" width="3" height="11" fill="#ff0000"/>
<rect x="1039" y="253" width="1" height="23" fill="#ff0000"/>
<rect x="1038" y="262" width="3" height="9" fill="#ff0000"/>
<rect x="1043" y="214" width="1" height="50" fill="#ff0000"/>
<rect x="1042" y="220" width="3" height="42" fill="#ff0000"/>
<rect x="1047" y="200" width="1" height="25" fill="#ff0000"/>
<rect x="1046" y="208" width="3" height="13" fill="#ff0000"/>
<rect x="1051" y="186" width="1" height="27" fill="#ff0000"/>
<rect x="1050" y="206" width="3" height="2" fill="#ff0000"/>
<rect x="1055" y="203" width="1" height="39" fill="#00ff00"/>
<rect x="1054" y="206" width="3" height="28" fill="#00ff00"/>
<rect x="1059" y="227" width="1" height="7" fill="#ff0000"/>
<rect x="1058" y="228" width="3" height="5" fill="#ff0000"/>
<rect x="1063" y="212" width="1" height="21" fill="#ff0000"/>
<rect x="1062" y="220" width="3" height="5" fill="#ff0000"/>
<rect x="1067" y="205" width="1" height="48" fill="#00ff00"/>
<rect x="1066" y="220" width="3" height="22" fill="#00ff00"/>
<rect x="1071" y="225" width="1" height="28" fill="#ff0000"/>
<rect x="1070" y="231" width="3" height="11" fill="#ff0000"/>
<rect x="1075" y="202" width="1" height="28" fill="#ff0000"/>
<rect x="1074" y="217" width="3" height="13" fill="#ff0000"/>
<rect x="1079" y="207" width="1" height="29" fill="#00ff00"/>
<rect x="1078" y="217" width="3" height="2" fill="#00ff00"/>
<rect x="1083" y="214" width="1" height="9" fill="#00ff00"/>
<rect x="1082" y="218" width="3" height="4" fill="#00ff00"/>
<rect x="1087" y="215" width="1" height="32" fill="#00ff00"/>
<rect x="1086" y="222" width="3" height="10" fill="#00ff00"/>
<rect x="1091" y="199" width="1" height="39" fill="#ff0000"/>
<rect x="1090" y="219" width="3" height="13" fill="#ff0000"/>
<rect x="1095" y="217" width="1" height="51" fill="#00ff00"/>
<rect x="1094" y="219" width="3" height="42" fill="#00ff00"/>
<rect x="1099" y="226" width="1" height="39" fill="#ff0000"/>
<rect x="1098" y="232" width="3" height="29" fill="#ff0000"/>
<rect x="1103" y="214" width="1" height="23" fill="#ff0000"/>
<rect x="1102" y="220" width="3" height="10" fill="#ff0000"/>
<rect x="1107" y="215" width="1" height="7" fill="#ff0000"/>
<rect x="1106" y="219" width="3" height="2" fill="#ff0000"/>
<rect x="1111" y="213" width="1" height="18" fill="#00ff00"/>
<rect x="1110" y="223" width="3" height="7" fill="#00ff00"/>
<rect x="1115" y="223" width="1" height="37" fill="#00ff00"/>
<rect x="1114" y="228" width="3" height="23" fill="#00ff00"/>
<rect x="1119" y="217" width="1" height="46" fill="#ff0000"/>
<rect x="1118" y="235" width="3" height="16" fill="#ff0000"/>
<rect x="1123" y="222" width="1" height="44" fill="#00ff00"/>
<rect x="1122" y="235" width="3" height="31" fill="#00ff00"/>
<rect x="1127" y="260" width="1" height="28" fill="#00ff00"/>
<rect x="1126" y="265" width="3" height="14" fill="#00ff00"/>
<rect x="1131" y="274" width="1" height="9" fill="#ff0000"/>
<rect x="1130" y="278" width="3" height="1" fill="#ff0000"/>
<rect x="1135" y="274" width="1" height="26" fill="#ff0000"/>
<rect x="1134" y="280" width="3" height="5" fill="#ff0000"/>
<rect x="1139" y="267" width="1" height="37" fill="#ff0000"/>
<rect x="1138" y="275" width="3" height="7" fill="#ff0000"/>
<rect x="1143" y="262" width="1" height="23" fill="#00ff00"/>
<rect x="1142" y="275" width="3" height="7" fill="#00ff00"/>
<rect x="1147" y="275" width="1" height="37" fill="#00ff00"/>
<rect x="1146" y="281" width="3" height="27" fill="#00ff00"/>
<rect x="1151" y="260" width="1" height="61" fill="#ff0000"/>
<rect x="1150" y="275" width="3" height="33" fill="#ff0000"/>
<rect x="1155" y="271" width="1" height="7" fill="#00ff00"/>
<rect x="1154" y="275" width="3" height="3" fill="#00ff00"/>
<rect x="1159" y="266" width="1" height="48" fill="#00ff00"/>
<rect x="1158" y="279" width="3" height="27" fill="#00ff00"/>
<rect x="1163" y="296" width="1" height="58" fill="#00ff00"/>
<rect x="1162" y="305" width="3" height="46" fill="#00ff00"/>
<rect x="1167" y="335" width="1" height="40" fill="#00ff00"/>
<rect x="1166" y="350" width="3" height="22" fill="#00ff00"/>
<rect x="1171" y="359" width="1" height="52" fill="#00ff00"/>
<rect x="1170" y="371" width="3" height="39" fill="#00ff00"/>
<rect x="1175" y="332" width="1" height="81" fill="#ff0000"/>
<rect x="1174" y="335" width="3" height="76" fill="#ff0000"/>
<rect x="1179" y="314" width="1" height="24" fill="#ff0000"/>
<rect x="1178" y="319" width="3" height="17" fill="#ff0000"/>
<rect x="1183" y="317" width="1" height="37" fill="#00ff00"/>
<rect x="1182" y="331" width="3" height="11" fill="#00ff00"/>
<rect x="1187" y="331" width="1" height="34" fill="#00ff00"/>
<rect x="1186" y="341" width="3" height="7" fill="#00ff00"/>
<rect x="1191" y="327" width="1" height="28" fill="#ff0000"/>
<rect x="1190" y="337" width="3" height="11" fill="#ff0000"/>
<rect x="1195" y="330" width="1" height="24" fill="#00ff00"/>
<rect x="1194" y="333" width="3" height="3" fill="#00ff00"/>
<rect x="1199" y="326" width="1" height="25" fill="#ff0000"/>
<rect x="1198" y="331" width="3" height="9" fill="#ff0000"/>
<rect x="1203" y="330" width="1" height="5" fill="#00ff00"/>
<rect x="1202" y="332" width="3" height="2" fill="#00ff00"/>
<rect x="1207" y="329" width="1" height="35" fill="#00ff00"/>
<rect x="1206" y="332" width="3" height="26" fill="#00ff00"/>
<rect x="1211" y="348" width="1" height="41" fill="#00ff00"/>
<rect x="1210" y="357" width="3" height="21" fill="#00ff00"/>
<rect x="1215" y="352" width="1" height="30" fill="#ff0000"/>
<rect x="1214" y="359" width="3" height="19" fill="#ff0000"/>
<rect x="1219" y="339" width="1" height="24" fill="#ff0000"/>
<rect x="1218" y="350" width="3" height="10" fill="#ff0000"/>
<rect x="1223" y="344" width="1" height="18" fill="#00ff00"/>
<rect x="1222" y="351" width="3" height="4" fill="#00ff00"/>
<rect x="1227" y="353" width="1" height="9" fill="#00ff00"/>
<rect x="1226" y="354" width="3" height="4" fill="#00ff00"/>
<rect x="1231" y="341" width="1" height="34" fill="#ff0000"/>
<rect x="1230" y="341" width="3" height="16" fill="#ff0000"/>
<rect x="1235" y="325" width="1" height="41" fill="#00ff00"/>
<rect x="1234" y="341" width="3" height="22" fill="#00ff00"/>
<rect x="1239" y="347" width="1" height="28" fill="#00ff00"/>
<rect x="1238" y="362" width="3" height="7" fill="#00ff00"/>
<rect x="1243" y="362" width="1" height="23" fill="#ff0000"/>
<rect x="1242" y="368" width="3" height="1" fill="#ff0000"/>
<rect x="1247" y="360" width="1" height="14" fill="#00ff00"/>
<rect x="1246" y="368" width="3" height="2" fill="#00ff00"/>
<rect x="1251" y="368" width="1" height="6" fill="#00ff00"/>
<rect x="1250" y="369" width="3" height="3" fill="#00ff00"/>
<rect x="1255" y="370" width="1" height="39" fill="#00ff00"/>
<rect x="1254" y="371" width="3" height="20" fill="#00ff00"/>
<rect x="1259" y="369" width="1" height="26" fill="#00ff00"/>
<rect x="1258" y="390" width="3" height="4" fill="#00ff00"/>
<rect x="1263" y="381" width="1" height="32" fill="#00ff00"/>
<rect x="1262" y="393" width="3" height="17" fill="#00ff00"/>
<rect x="1267" y="407" width="1" height="10" fill="#ff0000"/>
<rect x="1266" y="408" width="3" height="2" fill="#ff0000"/>
<path d="M2 135h4v1h-4zM6 136h6v1h-6zM12 137h14v1h-14zM26 138h6v1h-6zM32 139h6v1h-6zM38 140h3v1h-3zM41 141h2v1h-2zM43 142h2v1h-2zM45 143h2v1h-2zM47 144h1v1h-1zM48 145h1v1h-1zM49 146h1v1h-1zM50 147h1v1h-1zM51 148h1v1h-1zM52 149h1v1h-1zM53 150h1v1h-1zM54 151h1v1h-1zM55 152h2v1h-2zM57 153h2v1h-2zM59 154h2v1h-2zM61 155h6v1h-6zM67 154h2v1h-2zM69 153h2v1h-2zM71 152h1v1h-1zM72 151h2v1h-2zM74 150h1v1h-1zM75 149h1v1h-1zM76 148h1v1h-1zM77 147h1v1h-1zM78 146h1v1h-1zM79 145h2v1h-2zM81 144h1v1h-1zM82 143h1v1h-1zM83 142h1v1h-1zM84 141h2v1h-2zM86 140h1v1h-1zM87 139h1v1h-1zM88 138h1v1h-1zM89 137h2v1h-2zM91 136h2v1h-2zM93 135h2v1h-2zM95 134h6v1h-6zM101 135h2v1h-2zM103 136h2v1h-2zM105 137h2v1h-2zM107 138h1v1h-1zM108 139h2v1h-2zM110 140h2v1h-2zM112 141h2v1h-2zM114 142h1v1h-1zM115 143h2v1h-2zM117 144h1v1h-1zM118 145h1v1h-1zM119 146h1v1h-1zM120 147h1v1h-1zM121 148h2v1h-2zM123 149h1v2h-1zM124 151h1v1h-1zM125 152h1v1h-1zM126 153h1v1h-1zM127 154h1v1h-1zM128 155h1v1h-1zM129 156h1v1h-1zM130 157h2v1h-2zM132 158h1v1h-1zM133 159h1v1h-1zM134 160h2v1h-2zM136 161h1v1h-1zM137 162h2v1h-2zM139 163h3v1h-3zM142 164h4v1h-4zM146 165h5v1h-5zM151 166h2v1h-2zM153 167h3v1h-3zM156 168h4v1h-4zM160 169h6v1h-6zM166 170h2v1h-2zM168 171h3v1h-3zM171 172h3v1h-3zM174 173h8v1h-8zM182 174h5v1h-5zM187 175h5v1h-5zM192 176h5v1h-5zM197 177h8v1h-8zM205 178h2v1h-2zM207 179h2v1h-2zM209 180h4v1h-4zM213 179h4v1h-4zM217 178h3v1h-3zM220 177h2v1h-2zM222 176h1v1h-1zM223 175h1v1h-1zM224 174h2v1h-2zM226 173h2v1h-2zM228 172h1v1h-1zM229 171h1v1h-1zM230 169h1v2h-1zM231 168h1v1h-1zM232 167h1v1h-1zM233 166h3v1h-3zM236 165h1v1h-1zM237 164h1v1h-1zM238 163h1v1h-1zM239 162h1v1h-1zM240 161h1v1h-1zM241 160h1v1h-1zM242 159h1v1h-1zM243 158h1v1h-1zM244 157h1v1h-1zM245 156h1v1h-1zM246 155h1v1h-1zM247 154h1v1h-1zM248 153h2v1h-2zM250 152h1v1h-1zM251 151h1v1h-1zM252 150h1v1h-1zM253 149h1v1h-1zM254 148h1v1h-1zM255 147h1v1h-1zM256 146h1v1h-1zM257 145h1v1h-1zM258 144h2v1h-2zM260 143h2v1h-2zM262 142h2v1h-2zM264 141h2v1h-2zM266 140h2v1h-2zM268 139h2v1h-2zM270 138h2v1h-2zM272 137h2v1h-2zM274 136h2v1h-2zM276 135h4v1h-4zM280 134h2v1h-2zM282 133h1v1h-1zM283 132h2v1h-2zM285 131h1v1h-1zM286 130h2v1h-2zM288 129h1v1h-1zM289 128h1v1h-1zM290 127h1v1h-1zM291 126h2v1h-2zM293 125h1v1h-1zM294 124h1v1h-1zM295 123h1v1h-1zM296 122h1v1h-1zM297 121h2v1h-2zM299 120h2v1h-2zM301 119h1v1h-1zM302 118h2v1h-2zM304 117h2v1h-2zM306 116h1v1h-1zM307 115h2v1h-2zM309 114h6v1h-6zM315 113h5v1h-5zM320 112h3v1h-3zM323 111h2v1h-2zM325 110h1v1h-1zM326 109h2v1h-2zM328 108h3v1h-3zM331 107h2v1h-2zM333 106h3v1h-3zM336 105h2v1h-2zM338 104h2v1h-2zM340 103h4v1h-4zM344 102h4v1h-4zM348 101h11v1h-11zM359 102h4v1h-4zM363 103h3v1h-3zM366 104h3v1h-3zM369 105h4v1h-4zM373 106h12v1h-12zM385 105h4v1h-4zM389 104h4v1h-4zM393 103h9v1h-9zM402 104h4v1h-4zM406 105h3v1h-3zM409 106h3v1h-3zM412 107h3v1h-3zM415 108h10v1h-10zM425 109h2v1h-2zM427 110h3v1h-3zM430 109h16v1h-16zM446 110h4v1h-4zM450 111h2v1h-2zM452 112h2v1h-2zM454 113h3v1h-3zM457 114h5v1h-5zM462 115h2v1h-2zM464 116h2v1h-2zM466 117h1v1h-1zM467 118h7v1h-7zM474 117h3v1h-3zM477 116h3v1h-3zM480 115h1v1h-1zM481 114h2v1h-2zM483 113h1v1h-1zM484 112h2v1h-2zM486 111h3v1h-3zM489 110h3v1h-3zM492 109h3v1h-3zM495 108h3v1h-3zM498 107h3v1h-3zM501 106h3v1h-3zM504 105h5v1h-5zM509 106h5v1h-5zM514 107h11v1h-11zM525 106h3v1h-3zM528 105h12v1h-12zM540 106h3v1h-3zM543 107h3v1h-3zM546 108h2v1h-2zM548 109h2v1h-2zM550 110h2v1h-2zM552 111h2v1h-2zM554 112h2v1h-2zM556 113h2v1h-2zM558 114h1v1h-1zM559 115h2v1h-2zM561 116h1v1h-1zM562 117h2v1h-2zM564 118h1v1h-1zM565 119h3v1h-3zM568 120h2v1h-2zM570 121h3v1h-3zM573 122h2v1h-2zM575 123h2v1h-2zM577 124h5v1h-5zM582 125h3v1h-3zM585 126h2v1h-2zM587 127h2v1h-2zM589 128h3v1h-3zM592 129h2v1h-2zM594 130h1v1h-1zM595 131h1v1h-1zM596 132h1v1h-1zM597 133h1v1h-1zM598 134h1v1h-1zM599 135h1v1h-1zM600 136h1v1h-1zM601 137h1v1h-1zM602 138h1v1h-1zM603 139h1v1h-1zM604 140h1v1h-1zM605 141h1v1h-1zM606 142h1v2h-1zM607 144h1v2h-1zM608 146h1v1h-1zM609 147h1v2h-1zM610 149h1v1h-1zM611 150h1v2h-1zM612 152h1v1h-1zM613 153h1v2h-1zM614 155h1v1h-1zM615 156h1v2h-1zM616 158h1v1h-1zM617 159h1v1h-1zM618 160h1v2h-1zM619 162h1v1h-1zM620 163h1v1h-1zM621 164h1v2h-1zM622 166h1v1h-1zM623 167h1v1h-1zM624 168h1v1h-1zM625 169h1v2h-1zM626 171h1v1h-1zM627 172h1v1h-1zM628 173h1v1h-1zM629 174h1v1h-1zM630 175h1v1h-1zM631 176h1v1h-1zM632 177h1v1h-1zM633 178h1v1h-1zM634 179h2v1h-2zM636 180h1v1h-1zM637 181h1v1h-1zM638 182h2v1h-2zM640 183h1v1h-1zM641 184h2v1h-2zM643 185h2v1h-2zM645 186h1v1h-1zM646 187h1v1h-1zM647 188h1v1h-1zM648 189h1v1h-1zM649 190h1v1h-1zM650 191h1v1h-1zM651 192h1v1h-1zM652 193h2v1h-2zM654 194h1v1h-1zM655 195h2v1h-2zM657 196h1v1h-1zM658 197h1v1h-1zM659 198h1v1h-1zM660 199h1v1h-1zM661 200h1v1h-1zM662 201h2v1h-2zM664 202h1v1h-1zM665 203h1v1h-1zM666 204h1v1h-1zM667 205h1v1h-1zM668 206h1v1h-1zM669 207h1v1h-1zM670 208h2v1h-2zM672 209h1v1h-1zM673 210h1v1h-1zM674 211h1v1h-1zM675 212h2v1h-2zM677 213h1v1h-1zM678 214h2v1h-2zM680 215h2v1h-2zM682 216h1v1h-1zM683 217h2v1h-2zM685 218h2v1h-2zM687 219h2v1h-2zM689 220h1v1h-1zM690 221h2v1h-2zM692 222h2v1h-2zM694 223h2v1h-2zM696 224h3v1h-3zM699 225h2v1h-2zM701 226h2v1h-2zM703 227h2v1h-2zM705 228h2v1h-2zM707 229h5v1h-5zM712 230h2v1h-2zM714 231h2v1h-2zM716 232h1v1h-1zM717 233h2v1h-2zM719 234h2v1h-2zM721 235h2v1h-2zM723 236h11v1h-11zM734 235h3v1h-3zM737 234h3v1h-3zM740 233h4v1h-4zM744 232h3v1h-3zM747 231h2v1h-2zM749 230h7v1h-7zM756 229h3v1h-3zM759 228h2v1h-2zM761 227h4v1h-4zM765 226h3v1h-3zM768 225h2v1h-2zM770 224h2v1h-2zM772 223h2v1h-2zM774 222h2v1h-2zM776 221h2v1h-2zM778 220h2v1h-2zM780 219h2v1h-2zM782 218h1v1h-1zM783 217h1v1h-1zM784 216h1v1h-1zM785 215h1v1h-1zM786 214h1v1h-1zM787 213h1v1h-1zM788 212h2v1h-2zM790 211h1v1h-1zM791 210h2v1h-2zM793 209h2v1h-2zM795 208h3v1h-3zM798 207h3v1h-3zM801 206h2v1h-2zM803 205h2v1h-2zM805 204h10v1h-10zM815 205h3v1h-3zM818 206h3v1h-3zM821 207h1v1h-1zM822 208h2v1h-2zM824 209h2v1h-2zM826 210h1v1h-1zM827 211h1v1h-1zM828 212h1v1h-1zM829 213h1v1h-1zM830 214h1v1h-1zM831 215h1v1h-1zM832 216h1v1h-1zM833 217h1v1h-1zM834 218h1v1h-1zM835 219h1v1h-1zM836 220h1v1h-1zM837 221h1v1h-1zM838 222h1v1h-1zM839 223h1v1h-1zM840 224h1v1h-1zM841 225h1v1h-1zM842 226h1v2h-1zM843 228h1v1h-1zM844 229h1v1h-1zM845 230h1v1h-1zM846 231h1v2h-1zM847 233h1v1h-1zM848 234h1v2h-1zM849 236h1v2h-1zM850 238h1v2h-1zM851 240h1v2h-1zM852 242h1v2h-1zM853 244h1v3h-1zM854 247h1v1h-1zM855 248h2v1h-2zM857 249h1v1h-1zM858 250h1v1h-1zM859 251h1v1h-1zM860 252h1v2h-1zM861 254h1v1h-1zM862 255h1v1h-1zM863 256h1v1h-1zM864 257h1v2h-1zM865 259h1v1h-1zM866 260h1v1h-1zM867 261h1v1h-1zM868 262h1v1h-1zM869 263h1v1h-1zM870 264h1v1h-1zM871 265h2v1h-2zM873 266h1v1h-1zM874 267h1v1h-1zM875 268h7v1h-7zM882 267h2v1h-2zM884 266h4v1h-4zM888 265h14v1h-14zM902 266h2v1h-2zM904 267h2v1h-2zM906 268h1v1h-1zM907 269h1v1h-1zM908 270h1v1h-1zM909 271h1v1h-1zM910 272h1v1h-1zM911 273h1v2h-1zM912 275h1v1h-1zM913 276h1v1h-1zM914 277h1v1h-1zM915 278h1v1h-1zM916 279h1v1h-1zM917 280h2v1h-2zM919 281h1v1h-1zM920 282h2v1h-2zM922 283h2v1h-2zM924 284h2v1h-2zM926 285h6v1h-6zM932 284h2v1h-2zM934 283h2v1h-2zM936 282h2v1h-2zM938 281h2v1h-2zM940 280h1v1h-1zM941 279h1v1h-1zM942 278h1v1h-1zM943 277h2v1h-2zM945 276h1v1h-1zM946 275h1v1h-1zM947 274h1v1h-1zM948 273h2v1h-2zM950 272h1v1h-1zM951 271h2v1h-2zM953 270h1v1h-1zM954 269h2v1h-2zM956 267h1v2h-1zM957 266h1v1h-1zM958 265h1v1h-1zM959 264h1v1h-1zM960 262h1v2h-1zM961 261h1v1h-1zM962 260h1v1h-1zM963 259h1v1h-1zM964 257h1v2h-1zM965 256h1v1h-1zM966 254h1v2h-1zM967 252h1v2h-1zM968 251h1v1h-1zM969 249h1v2h-1zM970 248h1v1h-1zM971 247h1v1h-1zM972 246h1v1h-1zM973 244h1v2h-1zM974 243h1v1h-1zM975 242h1v1h-1zM976 240h1v2h-1zM977 240h1v1h-1zM978 239h1v1h-1zM979 238h2v1h-2zM981 237h2v1h-2zM983 236h2v1h-2zM985 235h2v1h-2zM987 234h2v1h-2zM989 233h1v1h-1zM990 232h1v1h-1zM991 231h1v1h-1zM992 230h9v1h-9zM1001 231h1v1h-1zM1002 232h2v1h-2zM1004 233h1v1h-1zM1005 234h2v1h-2zM1007 235h2v1h-2zM1009 236h2v1h-2zM1011 237h2v1h-2zM1013 238h3v1h-3zM1016 239h3v1h-3zM1019 240h10v1h-10zM1029 239h4v1h-4zM1033 238h3v1h-3zM1036 237h3v1h-3zM1039 236h2v1h-2zM1041 235h3v1h-3zM1044 234h3v1h-3zM1047 233h8v1h-8zM1055 234h2v1h-2zM1057 235h2v1h-2zM1059 236h4v1h-4zM1063 237h8v1h-8zM1071 236h6v1h-6zM1077 235h4v1h-4zM1081 234h3v1h-3zM1084 233h3v1h-3zM1087 232h2v1h-2zM1089 231h9v1h-9zM1098 230h3v1h-3zM1101 229h3v1h-3zM1104 228h17v1h-17zM1121 229h2v1h-2zM1123 230h2v1h-2zM1125 231h2v1h-2zM1127 232h1v1h-1zM1128 233h1v1h-1zM1129 234h2v1h-2zM1131 235h1v1h-1zM1132 236h1v1h-1zM1133 237h2v1h-2zM1135 238h2v1h-2zM1137 239h2v1h-2zM1139 240h2v1h-2zM1141 241h2v1h-2zM1143 242h1v1h-1zM1144 243h2v1h-2zM1146 244h13v1h-13zM1159 245h1v1h-1zM1160 246h1v1h-1zM1161 247h1v1h-1zM1162 248h1v1h-1zM1163 249h1v2h-1zM1164 251h1v1h-1zM1165 252h1v1h-1zM1166 253h1v2h-1zM1167 255h1v1h-1zM1168 256h1v1h-1zM1169 257h1v2h-1zM1170 259h1v3h-1zM1171 262h2v1h-2zM1173 263h1v1h-1zM1174 264h2v1h-2zM1176 265h1v1h-1zM1177 266h1v1h-1zM1178 267h1v1h-1zM1179 268h1v1h-1zM1180 269h1v1h-1zM1181 270h1v1h-1zM1182 271h1v1h-1zM1183 272h1v1h-1zM1184 273h1v1h-1zM1185 274h1v1h-1zM1186 275h1v1h-1zM1187 276h2v1h-2zM1189 277h1v1h-1zM1190 278h1v1h-1zM1191 279h1v1h-1zM1192 280h1v1h-1zM1193 281h1v1h-1zM1194 282h1v1h-1zM1195 283h1v1h-1zM1196 284h1v1h-1zM1197 285h1v1h-1zM1198 286h1v1h-1zM1199 287h1v1h-1zM1200 288h1v1h-1zM1201 289h1v1h-1zM1202 290h1v1h-1zM1203 291h1v1h-1zM1204 292h1v1h-1zM1205 293h1v1h-1zM1206 294h1v1h-1zM1207 295h1v1h-1zM1208 296h1v1h-1zM1209 297h1v1h-1zM1210 298h1v2h-1zM1211 300h1v1h-1zM1212 301h1v1h-1zM1213 302h1v1h-1zM1214 303h1v1h-1zM1215 304h1v1h-1zM1216 305h1v1h-1zM1217 306h1v1h-1zM1218 307h1v1h-1zM1219 308h1v1h-1zM1220 309h1v1h-1zM1221 310h1v1h-1zM1222 311h1v1h-1zM1223 312h1v1h-1zM1224 313h1v1h-1zM1225 314h1v1h-1zM1226 315h1v1h-1zM1227 316h1v2h-1zM1228 318h1v1h-1zM1229 319h2v1h-2zM1231 320h1v1h-1zM1232 321h1v1h-1zM1233 322h1v1h-1zM1234 323h1v1h-1zM1235 324h1v1h-1zM1236 325h1v1h-1zM1237 326h1v2h-1zM1238 328h1v1h-1zM1239 329h1v1h-1zM1240 330h1v1h-1zM1241 331h2v1h-2zM1243 332h1v1h-1zM1244 333h2v1h-2zM1246 334h1v1h-1zM1247 335h2v1h-2zM1249 336h1v1h-1zM1250 337h1v1h-1zM1251 338h1v1h-1zM1252 339h1v1h-1zM1253 340h1v1h-1zM1254 341h1v1h-1zM1255 342h1v1h-1zM1256 343h1v1h-1zM1257 344h1v1h-1zM1258 345h1v1h-1zM1259 346h1v1h-1zM1260 347h1v1h-1zM1261 348h1v1h-1zM1262 349h1v1h-1zM1263 350h1v1h-1zM1264 351h2v1h-2zM1266 352h1v1h-1z" fill="#0000cd"/>
<path d="M2 172h1v1h-1zM3 171h1v1h-1zM4 169h1v2h-1zM5 168h1v1h-1zM6 166h1v2h-1zM7 165h1v1h-1zM8 163h1v2h-1zM9 162h1v1h-1zM10 160h1v2h-1zM11 159h1v1h-1zM12 157h1v2h-1zM13 156h1v1h-1zM14 154h1v2h-1zM15 152h1v2h-1zM16 151h1v1h-1zM17 149h1v2h-1zM18 148h1v1h-1zM19 147h1v1h-1zM20 146h1v1h-1zM21 144h1v2h-1zM22 143h1v1h-1zM23 142h1v1h-1zM24 141h1v1h-1zM25 140h2v1h-2zM27 139h1v1h-1zM28 138h2v1h-2zM30 137h1v1h-1zM31 136h1v1h-1zM32 135h1v1h-1zM33 134h1v1h-1zM34 133h1v1h-1zM35 132h1v1h-1zM36 131h11v1h-11zM47 132h2v1h-2zM49 133h2v1h-2zM51 134h1v1h-1zM52 135h1v1h-1zM53 136h1v1h-1zM54 137h2v1h-2zM56 138h1v1h-1zM57 139h1v1h-1zM58 140h1v1h-1zM59 141h2v1h-2zM61 142h1v1h-1zM62 143h2v1h-2zM64 144h6v1h-6zM70 143h1v1h-1zM71 142h2v1h-2zM73 141h1v1h-1zM74 140h2v1h-2zM76 139h2v1h-2zM78 138h1v1h-1zM79 137h2v1h-2zM81 136h2v1h-2zM83 135h1v1h-1zM84 134h2v1h-2zM86 133h2v1h-2zM88 132h6v1h-6zM94 133h2v1h-2zM96 134h2v1h-2zM98 135h1v1h-1zM99 136h1v1h-1zM100 137h1v1h-1zM101 138h1v1h-1zM102 139h1v1h-1zM103 140h3v1h-3zM106 141h2v1h-2zM108 142h1v1h-1zM109 143h1v1h-1zM110 144h1v1h-1zM111 145h1v1h-1zM112 146h1v1h-1zM113 147h1v1h-1zM114 148h1v1h-1zM115 149h1v1h-1zM116 150h1v1h-1zM117 151h1v1h-1zM118 152h1v2h-1zM119 154h1v1h-1zM120 155h1v2h-1zM121 157h1v1h-1zM122 158h1v2h-1zM123 160h1v2h-1zM124 162h1v2h-1zM125 164h1v2h-1zM126 166h1v3h-1zM127 169h1v3h-1zM128 172h1v2h-1zM129 174h1v2h-1zM130 176h1v2h-1zM131 178h1v2h-1zM132 180h1v1h-1zM133 181h1v2h-1zM134 183h1v1h-1zM135 184h1v2h-1zM136 186h1v1h-1zM137 187h1v2h-1zM138 189h1v1h-1zM139 190h1v2h-1zM140 192h1v1h-1zM141 193h1v2h-1zM142 195h1v2h-1zM143 197h1v1h-1zM144 198h1v2h-1zM145 200h1v1h-1zM146 201h1v1h-1zM147 202h4v1h-4zM151 203h2v1h-2zM153 204h3v1h-3zM156 203h1v1h-1zM157 202h1v1h-1zM158 201h1v1h-1zM159 200h1v1h-1zM160 199h1v1h-1zM161 198h4v1h-4zM165 197h6v1h-6zM171 196h1v1h-1zM172 195h1v1h-1zM173 194h2v1h-2zM175 193h1v1h-1zM176 192h3v1h-3zM179 191h2v1h-2zM181 190h1v1h-1zM182 189h1v1h-1zM183 188h1v1h-1zM184 187h1v1h-1zM185 186h1v1h-1zM186 185h1v1h-1zM187 183h1v2h-1zM188 182h1v1h-1zM189 180h1v2h-1zM190 178h1v2h-1zM191 176h1v2h-1zM192 175h1v1h-1zM193 173h1v2h-1zM194 172h1v1h-1zM195 171h1v1h-1zM196 170h2v1h-2zM198 168h1v2h-1zM199 166h1v2h-1zM200 165h1v1h-1zM201 164h1v1h-1zM202 163h1v1h-1zM203 162h3v1h-3zM206 161h3v1h-3zM209 160h2v1h-2zM211 159h1v1h-1zM212 158h2v1h-2zM214 157h1v1h-1zM215 156h2v1h-2zM217 155h2v1h-2zM219 154h1v1h-1zM220 153h1v1h-1zM221 151h1v2h-1zM222 150h1v1h-1zM223 148h1v2h-1zM224 146h1v2h-1zM225 145h1v1h-1zM226 143h1v2h-1zM227 141h1v2h-1zM228 140h1v1h-1zM229 138h1v2h-1zM230 137h1v1h-1zM231 136h1v1h-1zM232 135h1v1h-1zM233 134h1v1h-1zM234 133h1v1h-1zM235 132h2v1h-2zM237 131h1v1h-1zM238 130h1v1h-1zM239 129h1v1h-1zM240 128h1v1h-1zM241 127h2v1h-2zM243 126h3v1h-3zM246 125h5v1h-5zM251 124h4v1h-4zM255 123h2v1h-2zM257 122h1v1h-1zM258 121h2v1h-2zM260 120h1v1h-1zM261 119h1v1h-1zM262 118h1v1h-1zM263 117h1v1h-1zM264 116h2v1h-2zM266 115h2v1h-2zM268 114h17v1h-17zM285 113h6v1h-6zM291 112h1v1h-1zM292 111h1v1h-1zM293 110h2v1h-2zM295 109h4v1h-4zM299 108h2v1h-2zM301 107h3v1h-3zM304 106h2v1h-2zM306 105h7v1h-7zM313 104h4v1h-4zM317 103h2v1h-2zM319 102h2v1h-2zM321 101h2v1h-2zM323 100h2v1h-2zM325 99h2v1h-2zM327 98h1v1h-1zM328 97h2v1h-2zM330 96h3v1h-3zM333 95h2v1h-2zM335 94h2v1h-2zM337 93h2v1h-2zM339 92h2v1h-2zM341 91h2v1h-2zM343 90h1v1h-1zM344 89h2v1h-2zM346 88h7v1h-7zM353 89h1v2h-1zM354 91h1v1h-1zM355 92h1v1h-1zM356 93h1v1h-1zM357 94h1v1h-1zM358 95h1v2h-1zM359 97h1v1h-1zM360 98h1v1h-1zM361 99h1v1h-1zM362 100h1v1h-1zM363 101h1v1h-1zM364 102h1v1h-1zM365 103h1v1h-1zM366 104h2v1h-2zM368 105h1v1h-1zM369 106h2v1h-2zM371 107h6v1h-6zM377 108h6v1h-6zM383 109h3v1h-3zM386 110h8v1h-8zM394 111h2v1h-2zM396 112h2v1h-2zM398 113h1v1h-1zM399 114h1v1h-1zM400 115h1v1h-1zM401 116h1v1h-1zM402 117h1v1h-1zM403 118h1v1h-1zM404 119h1v1h-1zM405 120h1v1h-1zM406 121h2v1h-2zM408 122h1v1h-1zM409 123h7v1h-7zM416 122h1v1h-1zM417 121h2v1h-2zM419 120h1v1h-1zM420 119h1v1h-1zM421 118h2v1h-2zM423 117h2v1h-2zM425 116h1v1h-1zM426 115h2v1h-2zM428 114h1v1h-1zM429 113h2v1h-2zM431 112h3v1h-3zM434 111h10v1h-10zM444 112h1v1h-1zM445 113h2v1h-2zM447 114h2v1h-2zM449 115h2v1h-2zM451 116h8v1h-8zM459 115h4v1h-4zM463 114h2v1h-2zM465 113h2v1h-2zM467 112h2v1h-2zM469 111h2v1h-2zM471 110h3v1h-3zM474 109h5v1h-5zM479 108h13v1h-13zM492 107h2v1h-2zM494 106h2v1h-2zM496 105h2v1h-2zM498 104h2v1h-2zM500 103h2v1h-2zM502 102h1v1h-1zM503 101h1v1h-1zM504 99h1v2h-1zM505 98h1v1h-1zM506 97h1v1h-1zM507 96h1v1h-1zM508 95h1v1h-1zM509 94h10v1h-10zM519 95h7v1h-7zM526 96h5v1h-5zM531 97h3v1h-3zM534 98h1v1h-1zM535 99h1v1h-1zM536 100h1v1h-1zM537 101h1v1h-1zM538 102h1v1h-1zM539 103h1v1h-1zM540 104h1v2h-1zM541 106h1v1h-1zM542 107h1v1h-1zM543 108h1v2h-1zM544 110h1v1h-1zM545 111h1v1h-1zM546 112h1v1h-1zM547 113h1v2h-1zM548 115h1v1h-1zM549 116h1v1h-1zM550 117h1v2h-1zM551 119h1v1h-1zM552 120h1v2h-1zM553 122h1v1h-1zM554 123h1v2h-1zM555 125h1v1h-1zM556 126h1v2h-1zM557 128h1v1h-1zM558 129h1v1h-1zM559 130h1v2h-1zM560 132h1v2h-1zM561 134h1v2h-1zM562 136h1v2h-1zM563 138h1v2h-1zM564 140h1v1h-1zM565 141h1v1h-1zM566 142h1v2h-1zM567 144h2v1h-2zM569 145h1v1h-1zM570 146h1v1h-1zM571 147h2v1h-2zM573 148h1v1h-1zM574 149h1v1h-1zM575 150h2v1h-2zM577 151h1v1h-1zM578 152h2v1h-2zM580 153h2v1h-2zM582 154h1v1h-1zM583 155h1v1h-1zM584 156h1v1h-1zM585 157h1v1h-1zM586 158h1v1h-1zM587 159h1v1h-1zM588 160h1v1h-1zM589 161h2v1h-2zM591 162h1v1h-1zM592 163h2v1h-2zM594 164h2v1h-2zM596 165h1v1h-1zM597 166h1v1h-1zM598 167h1v1h-1zM599 168h1v1h-1zM600 169h1v1h-1zM601 170h1v2h-1zM602 172h1v1h-1zM603 173h1v2h-1zM604 175h1v2h-1zM605 177h1v2h-1zM606 179h1v1h-1zM607 180h1v2h-1zM608 182h1v2h-1zM609 184h1v1h-1zM610 185h1v1h-1zM611 186h1v2h-1zM612 188h1v1h-1zM613 189h1v2h-1zM614 191h1v1h-1zM615 192h1v1h-1zM616 193h1v1h-1zM617 194h1v1h-1zM618 195h1v1h-1zM619 196h1v1h-1zM620 197h1v1h-1zM621 198h1v1h-1zM622 199h1v2h-1zM623 200h1v1h-1zM624 201h2v1h-2zM626 202h1v1h-1zM627 203h1v1h-1zM628 204h1v1h-1zM629 205h1v1h-1zM630 206h1v1h-1zM631 207h1v2h-1zM632 209h1v1h-1zM633 210h1v1h-1zM634 211h1v1h-1zM635 212h1v2h-1zM636 214h1v1h-1zM637 215h2v1h-2zM639 216h1v1h-1zM640 217h1v1h-1zM641 218h1v1h-1zM642 219h1v1h-1zM643 220h1v1h-1zM644 221h1v2h-1zM645 223h2v1h-2zM647 224h1v1h-1zM648 225h2v1h-2zM650 226h2v1h-2zM652 227h2v1h-2zM654 228h2v1h-2zM656 229h1v1h-1zM657 230h2v1h-2zM659 231h3v1h-3zM662 232h2v1h-2zM664 233h2v1h-2zM666 234h13v1h-13zM679 235h2v1h-2zM681 236h13v1h-13zM694 235h4v1h-4zM698 236h1v1h-1zM699 237h1v1h-1zM700 238h3v1h-3zM703 239h4v1h-4zM707 238h2v1h-2zM709 237h16v1h-16zM725 238h3v1h-3zM728 237h4v1h-4zM732 236h2v1h-2zM734 235h3v1h-3zM737 234h2v1h-2zM739 233h3v1h-3zM742 231h1v2h-1zM743 230h1v1h-1zM744 229h1v1h-1zM745 228h2v1h-2zM747 227h1v1h-1zM748 226h1v1h-1zM749 225h1v1h-1zM750 224h2v1h-2zM752 223h2v1h-2zM754 222h1v1h-1zM755 221h2v1h-2zM757 220h2v1h-2zM759 219h3v1h-3zM762 218h1v1h-1zM763 217h2v1h-2zM765 216h2v1h-2zM767 215h1v1h-1zM768 214h1v1h-1zM769 213h1v1h-1zM770 211h1v2h-1zM771 210h1v1h-1zM772 209h1v1h-1zM773 207h1v2h-1zM774 205h1v2h-1zM775 203h1v2h-1zM776 202h1v1h-1zM777 200h1v2h-1zM778 198h1v2h-1zM779 196h1v2h-1zM780 194h1v2h-1zM781 192h1v2h-1zM782 191h1v1h-1zM783 189h1v2h-1zM784 188h1v1h-1zM785 186h1v2h-1zM786 185h1v1h-1zM787 184h1v1h-1zM788 183h1v1h-1zM789 182h2v1h-2zM791 181h2v1h-2zM793 180h15v1h-15zM808 181h2v1h-2zM810 182h1v1h-1zM811 183h2v1h-2zM813 184h1v1h-1zM814 185h1v1h-1zM815 186h1v1h-1zM816 187h1v1h-1zM817 188h1v2h-1zM818 190h1v1h-1zM819 191h1v2h-1zM820 193h1v2h-1zM821 195h1v2h-1zM822 197h1v2h-1zM823 199h1v2h-1zM824 201h1v3h-1zM825 204h1v2h-1zM826 206h1v2h-1zM827 208h1v3h-1zM828 211h1v2h-1zM829 213h1v3h-1zM830 216h1v3h-1zM831 219h1v3h-1zM832 222h1v3h-1zM833 225h1v3h-1zM834 228h1v3h-1zM835 231h1v4h-1zM836 235h1v3h-1zM837 238h1v4h-1zM838 242h1v5h-1zM839 247h1v4h-1zM840 251h1v4h-1zM841 255h1v5h-1zM842 260h1v4h-1zM843 264h1v4h-1zM844 268h1v5h-1zM845 273h1v5h-1zM846 278h1v5h-1zM847 283h1v5h-1zM848 288h1v5h-1zM849 293h1v4h-1zM850 297h1v5h-1zM851 302h1v5h-1zM852 307h1v4h-1zM853 311h1v3h-1zM854 314h1v4h-1zM855 318h1v3h-1zM856 321h1v3h-1zM857 324h1v4h-1zM858 328h1v2h-1zM859 330h1v3h-1zM860 333h1v3h-1zM861 336h1v2h-1zM862 338h1v1h-1zM863 339h1v2h-1zM864 341h1v2h-1zM865 343h1v1h-1zM866 344h1v2h-1zM867 346h1v2h-1zM868 348h1v1h-1zM869 349h1v2h-1zM870 351h1v1h-1zM871 352h1v2h-1zM872 354h5v1h-5zM877 352h1v2h-1zM878 351h1v1h-1zM879 349h1v2h-1zM880 347h1v2h-1zM881 344h1v3h-1zM882 342h1v2h-1zM883 339h1v3h-1zM884 336h1v3h-1zM885 333h1v3h-1zM886 329h1v4h-1zM887 326h1v3h-1zM888 323h1v3h-1zM889 319h1v4h-1zM890 315h1v4h-1zM891 312h1v3h-1zM892 308h1v4h-1zM893 304h1v4h-1zM894 299h1v5h-1zM895 294h1v5h-1zM896 288h1v6h-1zM897 283h1v5h-1zM898 279h1v4h-1zM899 275h1v4h-1zM900 271h1v4h-1zM901 267h1v4h-1zM902 263h1v4h-1zM903 259h1v4h-1zM904 255h1v4h-1zM905 251h1v4h-1zM906 246h1v5h-1zM907 242h1v4h-1zM908 240h1v2h-1zM909 238h1v2h-1zM910 237h1v1h-1zM911 236h3v1h-3zM914 235h2v1h-2zM916 234h3v1h-3zM919 233h1v1h-1zM920 232h2v1h-2zM922 231h1v1h-1zM923 230h1v1h-1zM924 228h1v2h-1zM925 227h1v1h-1zM926 225h1v2h-1zM927 223h1v2h-1zM928 222h1v1h-1zM929 221h1v1h-1zM930 219h1v2h-1zM931 219h2v1h-2zM933 218h2v1h-2zM935 219h2v1h-2zM937 220h2v1h-2zM939 221h1v1h-1zM940 222h1v1h-1zM941 223h1v1h-1zM942 224h1v1h-1zM943 225h1v1h-1zM944 226h1v2h-1zM945 228h1v2h-1zM946 230h1v1h-1zM947 231h1v2h-1zM948 233h1v2h-1zM949 235h1v1h-1zM950 236h1v2h-1zM951 238h1v1h-1zM952 239h1v2h-1zM953 241h1v1h-1zM954 242h1v1h-1zM955 243h1v2h-1zM956 245h1v1h-1zM957 246h1v1h-1zM958 247h2v1h-2zM960 248h3v1h-3zM963 247h2v1h-2zM965 246h1v1h-1zM966 244h1v2h-1zM967 242h1v2h-1zM968 241h2v1h-2zM970 240h2v1h-2zM972 239h3v1h-3zM975 238h2v1h-2zM977 237h2v1h-2zM979 236h1v1h-1zM980 237h4v1h-4zM984 238h2v1h-2zM986 239h2v1h-2zM988 240h1v1h-1zM989 241h1v1h-1zM990 242h1v1h-1zM991 243h1v1h-1zM992 244h4v1h-4zM996 245h1v1h-1zM997 246h2v1h-2zM999 247h3v1h-3zM1002 246h4v1h-4zM1006 245h2v1h-2zM1008 244h1v1h-1zM1009 243h1v1h-1zM1010 242h1v1h-1zM1011 241h1v1h-1zM1012 240h1v1h-1zM1013 239h1v1h-1zM1014 238h1v1h-1zM1015 237h1v1h-1zM1016 236h1v1h-1zM1017 235h1v1h-1zM1018 234h1v1h-1zM1019 233h2v1h-2zM1021 232h1v1h-1zM1022 231h1v1h-1zM1023 230h2v1h-2zM1025 229h2v1h-2zM1027 228h2v1h-2zM1029 229h2v1h-2zM1031 230h1v1h-1zM1032 231h1v1h-1zM1033 232h2v1h-2zM1035 233h5v1h-5zM1040 232h2v1h-2zM1042 231h1v1h-1zM1043 230h2v1h-2zM1045 229h2v1h-2zM1047 228h2v1h-2zM1049 227h10v1h-10zM1059 228h2v1h-2zM1061 229h2v1h-2zM1063 230h2v1h-2zM1065 231h3v1h-3zM1068 232h2v1h-2zM1070 233h2v1h-2zM1072 234h3v1h-3zM1075 235h5v1h-5zM1080 234h3v1h-3zM1083 233h3v1h-3zM1086 232h2v1h-2zM1088 231h1v1h-1zM1089 229h1v2h-1zM1090 228h1v1h-1zM1091 227h2v1h-2zM1093 226h1v1h-1zM1094 225h3v1h-3zM1097 226h5v1h-5zM1102 227h13v1h-13zM1115 228h2v1h-2zM1117 229h3v1h-3zM1120 230h2v1h-2zM1122 231h2v1h-2zM1124 232h1v1h-1zM1125 233h1v1h-1zM1126 234h1v1h-1zM1127 235h1v2h-1zM1128 237h1v1h-1zM1129 238h1v1h-1zM1130 239h1v1h-1zM1131 240h1v1h-1zM1132 241h1v1h-1zM1133 242h1v1h-1zM1134 243h1v1h-1zM1135 244h1v1h-1zM1136 245h1v1h-1zM1137 246h1v1h-1zM1138 247h1v1h-1zM1139 248h1v1h-1zM1140 249h1v1h-1zM1141 250h2v1h-2zM1143 251h1v2h-1zM1144 253h1v1h-1zM1145 254h1v1h-1zM1146 255h1v1h-1zM1147 256h1v2h-1zM1148 257h3v1h-3zM1151 258h1v1h-1zM1152 259h1v1h-1zM1153 260h1v1h-1zM1154 261h1v1h-1zM1155 262h1v1h-1zM1156 263h1v1h-1zM1157 264h1v1h-1zM1158 265h1v1h-1zM1159 266h1v2h-1zM1160 268h1v2h-1zM1161 270h1v2h-1zM1162 272h1v2h-1zM1163 274h1v3h-1zM1164 277h1v3h-1zM1165 280h1v2h-1zM1166 282h1v3h-1zM1167 285h1v3h-1zM1168 288h1v2h-1zM1169 290h1v3h-1zM1170 293h1v3h-1zM1171 296h1v2h-1zM1172 298h1v3h-1zM1173 301h1v2h-1zM1174 303h1v2h-1zM1175 305h1v1h-1zM1176 306h1v2h-1zM1177 308h1v1h-1zM1178 309h1v1h-1zM1179 310h1v1h-1zM1180 311h1v1h-1zM1181 312h1v1h-1zM1182 313h1v1h-1zM1183 314h1v1h-1zM1184 315h1v2h-1zM1185 317h1v1h-1zM1186 318h1v1h-1zM1187 319h1v1h-1zM1188 320h1v1h-1zM1189 321h1v1h-1zM1190 322h1v1h-1zM1191 323h1v1h-1zM1192 324h1v1h-1zM1193 325h1v2h-1zM1194 327h1v1h-1zM1195 328h1v1h-1zM1196 329h1v1h-1zM1197 330h1v1h-1zM1198 331h1v1h-1zM1199 332h1v1h-1zM1200 333h4v1h-4zM1204 334h1v1h-1zM1205 335h1v1h-1zM1206 336h1v2h-1zM1207 338h1v2h-1zM1208 340h1v2h-1zM1209 342h1v2h-1zM1210 344h1v1h-1zM1211 345h1v2h-1zM1212 347h1v1h-1zM1213 348h1v1h-1zM1214 349h9v1h-9zM1223 348h2v1h-2zM1225 347h1v1h-1zM1226 346h2v1h-2zM1228 345h4v1h-4zM1232 346h1v1h-1zM1233 347h1v1h-1zM1234 348h1v1h-1zM1235 349h2v1h-2zM1237 350h3v1h-3zM1240 351h2v1h-2zM1242 352h2v1h-2zM1244 353h2v1h-2zM1246 354h2v1h-2zM1248 355h2v1h-2zM1250 356h1v1h-1zM1251 357h1v1h-1zM1252 358h1v1h-1zM1253 359h1v1h-1zM1254 360h1v1h-1zM1255 361h1v2h-1zM1256 363h1v1h-1zM1257 364h1v1h-1zM1258 365h1v1h-1zM1259 366h1v1h-1zM1260 367h1v1h-1zM1261 368h2v1h-2zM1263 369h2v1h-2zM1265 370h2v1h-2z" fill="#ff0000"/>
<path d="M2 130h1v1h-1zM3 129h1v1h-1zM4 127h1v2h-1zM5 125h1v2h-1zM6 123h1v2h-1zM7 121h1v2h-1zM8 119h1v2h-1zM9 118h1v1h-1zM10 116h1v2h-1zM11 114h1v2h-1zM12 113h1v1h-1zM13 112h1v1h-1zM14 111h1v1h-1zM15 110h1v1h-1zM16 111h1v1h-1zM17 112h1v1h-1zM18 113h1v1h-1zM19 114h1v1h-1zM20 115h1v2h-1zM21 117h1v2h-1zM22 119h1v2h-1zM23 121h1v2h-1zM24 123h1v3h-1zM25 126h1v4h-1zM26 130h1v3h-1zM27 133h1v3h-1zM28 136h1v2h-1zM29 138h1v2h-1zM30 140h1v2h-1zM31 142h6v1h-6zM37 143h4v1h-4zM41 142h4v1h-4zM45 143h2v1h-2zM47 144h1v1h-1zM48 145h1v2h-1zM49 147h1v1h-1zM50 148h1v1h-1zM51 149h1v2h-1zM52 151h1v1h-1zM53 152h1v2h-1zM54 154h1v2h-1zM55 156h2v1h-2zM57 157h2v1h-2zM59 158h3v1h-3zM62 159h1v1h-1zM63 158h1v1h-1zM64 156h1v2h-1zM65 154h1v2h-1zM66 151h1v3h-1zM67 147h1v4h-1zM68 144h1v3h-1zM69 141h1v3h-1zM70 137h1v4h-1zM71 134h1v3h-1zM72 131h1v3h-1zM73 128h1v3h-1zM74 126h1v2h-1zM75 123h1v3h-1zM76 121h1v2h-1zM77 119h1v2h-1zM78 117h1v2h-1zM79 116h1v1h-1zM80 114h1v2h-1zM81 113h1v1h-1zM82 111h1v2h-1zM83 111h1v1h-1zM84 110h7v1h-7zM91 111h1v1h-1zM92 112h1v1h-1zM93 113h1v3h-1zM94 116h1v3h-1zM95 119h1v3h-1zM96 122h1v3h-1zM97 125h1v3h-1zM98 128h1v4h-1zM99 132h1v4h-1zM100 136h1v5h-1zM101 141h1v4h-1zM102 145h1v4h-1zM103 149h1v4h-1zM104 153h1v4h-1zM105 157h1v4h-1zM106 161h1v5h-1zM107 166h1v5h-1zM108 171h1v4h-1zM109 175h1v6h-1zM110 181h1v5h-1zM111 186h1v4h-1zM112 190h1v4h-1zM113 194h1v3h-1zM114 197h1v3h-1zM115 200h1v2h-1zM116 202h1v3h-1zM117 205h1v3h-1zM118 208h1v2h-1zM119 210h1v3h-1zM120 212h1v1h-1zM121 213h3v1h-3zM124 214h1v2h-1zM125 216h1v3h-1zM126 219h1v2h-1zM127 221h1v1h-1zM128 220h2v1h-2zM130 219h1v1h-1zM131 218h2v1h-2zM133 219h3v1h-3zM136 218h1v1h-1zM137 217h1v1h-1zM138 215h1v2h-1zM139 214h1v1h-1zM140 211h1v3h-1zM141 209h1v2h-1zM142 207h1v2h-1zM143 204h1v3h-1zM144 202h1v2h-1zM145 200h1v2h-1zM146 197h1v3h-1zM147 195h1v2h-1zM148 193h1v2h-1zM149 191h1v2h-1zM150 189h1v2h-1zM151 187h1v2h-1zM152 185h1v2h-1zM153 184h1v1h-1zM154 183h1v1h-1zM155 182h1v1h-1zM156 180h1v2h-1zM157 179h1v1h-1zM158 178h1v1h-1zM159 177h1v1h-1zM160 175h1v2h-1zM161 174h1v1h-1zM162 173h1v1h-1zM163 174h2v1h-2zM165 175h1v2h-1zM166 177h1v1h-1zM167 178h1v1h-1zM168 179h1v1h-1zM169 180h1v2h-1zM170 182h1v1h-1zM171 183h1v1h-1zM172 184h2v1h-2zM174 185h6v1h-6zM180 186h1v1h-1zM181 187h1v1h-1zM182 188h2v1h-2zM184 186h1v2h-1zM185 184h1v2h-1zM186 182h1v2h-1zM187 178h1v4h-1zM188 173h1v5h-1zM189 168h1v5h-1zM190 163h1v5h-1zM191 159h1v4h-1zM192 154h1v5h-1zM193 151h1v3h-1zM194 148h1v3h-1zM195 145h1v3h-1zM196 142h1v3h-1zM197 139h1v3h-1zM198 137h1v2h-1zM199 135h1v2h-1zM200 133h1v2h-1zM201 132h1v1h-1zM202 130h1v2h-1zM203 129h1v1h-1zM204 130h1v1h-1zM205 131h1v1h-1zM206 132h1v2h-1zM207 134h1v1h-1zM208 135h1v1h-1zM209 136h1v1h-1zM210 137h1v1h-1zM211 138h1v1h-1zM212 139h2v1h-2zM214 140h1v1h-1zM215 141h2v1h-2zM217 142h2v1h-2zM219 143h1v1h-1zM220 141h1v2h-1zM221 140h1v1h-1zM222 138h1v2h-1zM223 137h1v1h-1zM224 135h1v2h-1zM225 133h1v2h-1zM226 131h1v2h-1zM227 129h1v2h-1zM228 127h1v2h-1zM229 125h1v2h-1zM230 123h1v2h-1zM231 121h1v2h-1zM232 120h2v1h-2zM234 119h1v1h-1zM235 118h2v1h-2zM237 117h4v1h-4zM241 116h9v1h-9zM250 117h2v1h-2zM252 116h1v1h-1zM253 114h1v2h-1zM254 112h1v2h-1zM255 110h1v2h-1zM256 109h1v1h-1zM257 108h1v1h-1zM258 107h2v1h-2zM260 106h2v1h-2zM262 105h7v1h-7zM269 106h1v1h-1zM270 107h1v2h-1zM271 109h1v1h-1zM272 110h1v2h-1zM273 112h1v2h-1zM274 114h1v2h-1zM275 116h1v2h-1zM276 117h1v1h-1zM277 118h2v1h-2zM279 119h8v1h-8zM287 118h4v1h-4zM291 116h1v2h-1zM292 113h1v3h-1zM293 111h1v2h-1zM294 109h1v2h-1zM295 107h1v2h-1zM296 105h1v2h-1zM297 104h2v1h-2zM299 103h1v1h-1zM300 102h1v1h-1zM301 101h1v1h-1zM302 100h1v1h-1zM303 98h1v2h-1zM304 97h1v1h-1zM305 95h1v2h-1zM306 94h1v1h-1zM307 92h1v2h-1zM308 90h1v2h-1zM309 89h1v1h-1zM310 88h1v1h-1zM311 87h3v1h-3zM314 88h6v1h-6zM320 89h1v1h-1zM321 90h1v1h-1zM322 91h1v1h-1zM323 92h2v1h-2zM325 93h1v1h-1zM326 94h3v1h-3zM329 95h3v1h-3zM332 94h2v1h-2zM334 93h1v1h-1zM335 92h2v1h-2zM337 91h2v1h-2zM339 90h1v1h-1zM340 89h1v1h-1zM341 88h1v1h-1zM342 87h1v1h-1zM343 86h1v1h-1zM344 85h2v1h-2zM346 84h1v1h-1zM347 83h4v1h-4zM351 84h1v1h-1zM352 85h1v2h-1zM353 87h1v2h-1zM354 89h1v3h-1zM355 92h1v3h-1zM356 95h1v3h-1zM357 98h1v3h-1zM358 101h1v4h-1zM359 105h1v3h-1zM360 108h1v3h-1zM361 111h1v4h-1zM362 115h1v3h-1zM363 118h1v3h-1zM364 121h1v4h-1zM365 125h1v3h-1zM366 128h1v2h-1zM367 130h1v2h-1zM368 132h1v2h-1zM369 134h1v4h-1zM370 138h1v2h-1zM371 140h1v1h-1zM372 139h1v1h-1zM373 138h1v1h-1zM374 137h1v1h-1zM375 136h1v1h-1zM376 134h1v2h-1zM377 132h1v2h-1zM378 130h1v2h-1zM379 128h1v2h-1zM380 125h1v3h-1zM381 122h1v3h-1zM382 119h1v3h-1zM383 116h1v3h-1zM384 114h1v2h-1zM385 112h1v2h-1zM386 109h1v3h-1zM387 107h1v2h-1zM388 105h1v2h-1zM389 104h1v1h-1zM390 103h1v1h-1zM391 101h1v2h-1zM392 100h1v1h-1zM393 99h1v1h-1zM394 98h3v1h-3zM397 99h2v1h-2zM399 100h1v1h-1zM400 101h1v2h-1zM401 103h1v3h-1zM402 106h1v3h-1zM403 109h1v2h-1zM404 111h1v3h-1zM405 114h1v3h-1zM406 117h1v3h-1zM407 120h1v2h-1zM408 122h1v3h-1zM409 125h1v2h-1zM410 127h1v3h-1zM411 130h1v2h-1zM412 132h1v2h-1zM413 134h1v1h-1zM414 135h1v2h-1zM415 137h1v2h-1zM416 137h3v1h-3zM419 136h1v1h-1zM420 135h1v1h-1zM421 133h1v2h-1zM422 131h1v2h-1zM423 129h1v2h-1zM424 126h1v3h-1zM425 124h1v2h-1zM426 121h1v3h-1zM427 118h1v3h-1zM428 115h1v3h-1zM429 112h1v3h-1zM430 109h1v3h-1zM431 106h1v3h-1zM432 103h1v3h-1zM433 101h1v2h-1zM434 98h1v3h-1zM435 96h1v2h-1zM436 95h2v1h-2zM438 94h1v1h-1zM439 93h1v1h-1zM440 92h2v1h-2zM442 91h2v1h-2zM444 92h1v2h-1zM445 94h1v1h-1zM446 95h1v2h-1zM447 97h1v1h-1zM448 98h1v2h-1zM449 100h1v2h-1zM450 102h1v2h-1zM451 104h1v2h-1zM452 106h1v3h-1zM453 109h1v2h-1zM454 111h1v2h-1zM455 113h1v2h-1zM456 115h1v2h-1zM457 117h1v2h-1zM458 119h1v2h-1zM459 121h1v1h-1zM460 122h1v2h-1zM461 124h1v2h-1zM462 126h1v2h-1zM463 127h1v1h-1zM464 128h3v1h-3zM467 127h1v1h-1zM468 126h2v1h-2zM470 125h1v1h-1zM471 124h1v1h-1zM472 123h1v1h-1zM473 122h1v1h-1zM474 121h1v1h-1zM475 120h1v1h-1zM476 119h1v1h-1zM477 117h1v2h-1zM478 115h1v2h-1zM479 112h1v3h-1zM480 110h1v2h-1zM481 108h1v2h-1zM482 106h1v2h-1zM483 103h1v3h-1zM484 101h1v2h-1zM485 99h1v2h-1zM486 97h1v2h-1zM487 95h1v2h-1zM488 93h1v2h-1zM489 91h1v2h-1zM490 89h1v2h-1zM491 87h1v2h-1zM492 85h1v2h-1zM493 84h1v1h-1zM494 82h1v2h-1zM495 81h1v1h-1zM496 79h1v2h-1zM497 78h1v1h-1zM498 77h1v1h-1zM499 76h1v1h-1zM500 75h1v1h-1zM501 74h2v1h-2zM503 73h1v1h-1zM504 72h2v1h-2zM506 71h2v1h-2zM508 72h1v1h-1zM509 73h1v2h-1zM510 75h1v1h-1zM511 76h1v3h-1zM512 79h1v3h-1zM513 82h1v3h-1zM514 85h1v3h-1zM515 88h1v3h-1zM516 91h1v3h-1zM517 94h1v3h-1zM518 97h1v3h-1zM519 100h1v4h-1zM520 104h1v3h-1zM521 107h1v3h-1zM522 110h1v3h-1zM523 113h1v3h-1zM524 116h1v3h-1zM525 119h1v2h-1zM526 121h1v3h-1zM527 124h1v2h-1zM528 126h1v1h-1zM529 127h6v1h-6zM535 126h1v1h-1zM536 127h1v1h-1zM537 128h2v1h-2zM539 129h2v1h-2zM541 130h1v1h-1zM542 131h1v1h-1zM543 132h2v1h-2zM545 133h1v1h-1zM546 134h1v2h-1zM547 136h1v1h-1zM548 137h1v1h-1zM549 138h1v2h-1zM550 140h1v2h-1zM551 142h1v2h-1zM552 144h1v1h-1zM553 145h1v1h-1zM554 146h1v2h-1zM555 147h1v1h-1zM556 148h2v1h-2zM558 149h1v1h-1zM559 150h1v1h-1zM560 151h1v2h-1zM561 153h1v2h-1zM562 155h1v1h-1zM563 156h1v2h-1zM564 158h1v2h-1zM565 160h1v1h-1zM566 161h1v2h-1zM567 163h1v1h-1zM568 164h1v2h-1zM569 166h1v1h-1zM570 167h1v1h-1zM571 168h1v1h-1zM572 169h1v1h-1zM573 170h1v1h-1zM574 171h2v1h-2zM576 172h2v1h-2zM578 173h1v1h-1zM579 172h2v1h-2zM581 171h2v1h-2zM583 170h13v1h-13zM596 171h1v2h-1zM597 173h1v2h-1zM598 175h1v2h-1zM599 177h1v1h-1zM600 178h1v2h-1zM601 180h1v3h-1zM602 183h1v3h-1zM603 186h1v3h-1zM604 189h1v3h-1zM605 192h1v3h-1zM606 195h1v3h-1zM607 198h1v3h-1zM608 201h1v3h-1zM609 204h1v4h-1zM610 208h1v3h-1zM611 211h1v3h-1zM612 214h1v4h-1zM613 218h1v3h-1zM614 221h1v3h-1zM615 224h1v2h-1zM616 226h1v2h-1zM617 228h1v3h-1zM618 231h1v2h-1zM619 233h1v3h-1zM620 235h1v1h-1zM621 236h1v1h-1zM622 237h3v1h-3zM625 236h1v1h-1zM626 235h6v1h-6zM632 234h1v1h-1zM633 232h1v2h-1zM634 231h1v1h-1zM635 230h1v1h-1zM636 229h1v1h-1zM637 228h2v1h-2zM639 227h2v1h-2zM641 226h4v1h-4zM645 225h3v1h-3zM648 224h1v1h-1zM649 222h1v2h-1zM650 221h1v1h-1zM651 220h1v1h-1zM652 221h3v1h-3zM655 222h2v1h-2zM657 223h1v1h-1zM658 224h1v1h-1zM659 225h1v1h-1zM660 226h1v2h-1zM661 228h1v2h-1zM662 230h1v2h-1zM663 232h1v2h-1zM664 234h1v3h-1zM665 237h1v3h-1zM666 240h1v2h-1zM667 242h1v2h-1zM668 244h1v1h-1zM669 245h1v2h-1zM670 247h1v1h-1zM671 248h1v1h-1zM672 249h1v1h-1zM673 250h1v1h-1zM674 251h1v1h-1zM675 252h1v1h-1zM676 251h2v1h-2zM678 250h2v1h-2zM680 249h1v1h-1zM681 248h1v1h-1zM682 247h2v1h-2zM684 246h1v1h-1zM685 244h1v2h-1zM686 243h1v1h-1zM687 242h1v1h-1zM688 241h1v1h-1zM689 240h1v1h-1zM690 239h1v1h-1zM691 238h1v1h-1zM692 237h2v1h-2zM694 236h1v1h-1zM695 235h2v1h-2zM697 234h2v1h-2zM699 233h2v1h-2zM701 232h3v1h-3zM704 231h1v1h-1zM705 230h1v1h-1zM706 228h1v2h-1zM707 227h1v1h-1zM708 226h1v1h-1zM709 225h1v1h-1zM710 224h1v1h-1zM711 222h1v2h-1zM712 223h2v1h-2zM714 224h1v1h-1zM715 225h1v1h-1zM716 226h1v1h-1zM717 227h1v2h-1zM718 229h1v1h-1zM719 230h1v2h-1zM720 232h1v1h-1zM721 233h1v2h-1zM722 235h1v2h-1zM723 237h1v2h-1zM724 239h1v2h-1zM725 241h1v3h-1zM726 244h1v2h-1zM727 246h1v2h-1zM728 248h1v1h-1zM729 249h1v1h-1zM730 250h1v1h-1zM731 251h1v1h-1zM732 249h1v2h-1zM733 248h1v1h-1zM734 246h1v2h-1zM735 245h1v1h-1zM736 243h1v2h-1zM737 240h1v3h-1zM738 238h1v2h-1zM739 235h1v3h-1zM740 231h1v4h-1zM741 228h1v3h-1zM742 224h1v4h-1zM743 221h1v3h-1zM744 217h1v4h-1zM745 214h1v3h-1zM746 211h1v3h-1zM747 208h1v3h-1zM748 206h1v2h-1zM749 204h1v2h-1zM750 202h1v2h-1zM751 200h1v2h-1zM752 199h1v1h-1zM753 198h1v1h-1zM754 197h1v1h-1zM755 196h1v1h-1zM756 195h1v1h-1zM757 194h2v1h-2zM759 193h2v1h-2zM761 192h2v1h-2zM763 191h1v1h-1zM764 189h1v2h-1zM765 188h1v1h-1zM766 187h1v1h-1zM767 186h1v1h-1zM768 185h1v1h-1zM769 184h1v1h-1zM770 182h1v2h-1zM771 181h1v1h-1zM772 180h1v1h-1zM773 179h1v1h-1zM774 178h1v1h-1zM775 177h1v1h-1zM776 175h1v2h-1zM777 174h1v1h-1zM778 173h1v1h-1zM779 171h1v2h-1zM780 170h1v1h-1zM781 169h1v1h-1zM782 168h1v1h-1zM783 167h1v1h-1zM784 166h1v1h-1zM785 165h3v1h-3zM788 166h1v1h-1zM789 167h1v1h-1zM790 168h1v1h-1zM791 169h1v1h-1zM792 170h1v1h-1zM793 171h1v1h-1zM794 172h1v1h-1zM795 173h1v1h-1zM796 174h1v1h-1zM797 175h1v1h-1zM798 176h1v1h-1zM799 177h1v1h-1zM800 178h1v2h-1zM801 180h1v2h-1zM802 182h1v2h-1zM803 184h1v2h-1zM804 186h1v2h-1zM805 188h1v1h-1zM806 189h1v2h-1zM807 191h1v1h-1zM808 192h1v2h-1zM809 194h1v2h-1zM810 196h1v2h-1zM811 198h1v2h-1zM812 200h1v2h-1zM813 202h1v3h-1zM814 205h1v3h-1zM815 208h1v3h-1zM816 211h1v4h-1zM817 215h1v4h-1zM818 219h1v3h-1zM819 222h1v4h-1zM820 226h1v4h-1zM821 230h1v4h-1zM822 234h1v5h-1zM823 239h1v5h-1zM824 244h1v5h-1zM825 249h1v5h-1zM826 254h1v5h-1zM827 259h1v5h-1zM828 264h1v6h-1zM829 270h1v5h-1zM830 275h1v4h-1zM831 279h1v5h-1zM832 284h1v5h-1zM833 289h1v5h-1zM834 294h1v5h-1zM835 299h1v6h-1zM836 305h1v7h-1zM837 312h1v6h-1zM838 318h1v6h-1zM839 324h1v6h-1zM840 330h1v8h-1zM841 338h1v7h-1zM842 345h1v7h-1zM843 352h1v6h-1zM844 358h1v8h-1zM845 366h1v8h-1zM846 374h1v8h-1zM847 382h1v6h-1zM848 388h1v5h-1zM849 393h1v7h-1zM850 400h1v6h-1zM851 406h1v6h-1zM852 412h1v5h-1zM853 417h1v4h-1zM854 421h1v4h-1zM855 425h1v3h-1zM856 422h1v5h-1zM857 417h1v5h-1zM858 412h1v5h-1zM859 407h1v5h-1zM860 402h1v5h-1zM861 396h1v6h-1zM862 391h1v5h-1zM863 386h1v5h-1zM864 380h1v6h-1zM865 375h1v5h-1zM866 369h1v6h-1zM867 363h1v6h-1zM868 357h1v6h-1zM869 353h1v4h-1zM870 349h1v4h-1zM871 343h1v6h-1zM872 335h1v8h-1zM873 328h1v7h-1zM874 321h1v7h-1zM875 315h1v6h-1zM876 309h1v6h-1zM877 303h1v6h-1zM878 296h1v7h-1zM879 289h1v7h-1zM880 282h1v7h-1zM881 275h1v7h-1zM882 267h1v8h-1zM883 259h1v8h-1zM884 250h1v9h-1zM885 240h1v10h-1zM886 230h1v10h-1zM887 221h1v9h-1zM888 212h1v9h-1zM889 203h1v9h-1zM890 192h1v11h-1zM891 181h1v11h-1zM892 174h1v7h-1zM893 168h1v6h-1zM894 164h1v4h-1zM895 160h1v4h-1zM896 156h1v4h-1zM897 154h1v2h-1zM898 152h1v2h-1zM899 151h1v1h-1zM900 152h1v1h-1zM901 153h1v1h-1zM902 154h1v2h-1zM903 156h1v4h-1zM904 160h1v4h-1zM905 164h1v5h-1zM906 169h1v5h-1zM907 174h1v8h-1zM908 182h1v8h-1zM909 190h1v8h-1zM910 198h1v8h-1zM911 206h1v9h-1zM912 215h1v8h-1zM913 223h1v9h-1zM914 232h1v8h-1zM915 240h1v8h-1zM916 248h1v7h-1zM917 255h1v6h-1zM918 261h1v6h-1zM919 267h1v6h-1zM920 273h1v5h-1zM921 278h1v5h-1zM922 283h1v5h-1zM923 288h1v3h-1zM924 289h3v1h-3zM927 286h1v3h-1zM928 282h1v4h-1zM929 277h1v5h-1zM930 271h1v6h-1zM931 265h1v6h-1zM932 259h1v6h-1zM933 254h1v5h-1zM934 248h1v6h-1zM935 243h1v5h-1zM936 238h1v5h-1zM937 233h1v5h-1zM938 228h1v5h-1zM939 224h1v4h-1zM940 219h1v5h-1zM941 214h1v5h-1zM942 212h1v2h-1zM943 210h1v2h-1zM944 208h1v2h-1zM945 208h1v1h-1zM946 207h2v1h-2zM948 206h1v1h-1zM949 207h2v1h-2zM951 208h1v1h-1zM952 209h1v3h-1zM953 212h1v2h-1zM954 214h1v3h-1zM955 217h1v4h-1zM956 221h1v3h-1zM957 224h1v4h-1zM958 228h1v3h-1zM959 231h1v3h-1zM960 234h1v4h-1zM961 238h1v3h-1zM962 241h1v2h-1zM963 243h1v2h-1zM964 245h1v2h-1zM965 247h1v1h-1zM966 248h2v1h-2zM968 249h1v3h-1zM969 252h1v4h-1zM970 256h1v4h-1zM971 260h1v1h-1zM972 261h2v1h-2zM974 262h1v1h-1zM975 261h1v1h-1zM976 260h1v1h-1zM977 259h1v1h-1zM978 258h2v1h-2zM980 257h3v1h-3zM983 256h5v1h-5zM988 255h1v1h-1zM989 253h1v2h-1zM990 251h1v2h-1zM991 250h1v1h-1zM992 248h1v2h-1zM993 247h1v1h-1zM994 245h1v2h-1zM995 244h4v1h-4zM999 243h1v1h-1zM1000 242h1v1h-1zM1001 239h1v3h-1zM1002 237h1v2h-1zM1003 234h1v3h-1zM1004 232h1v2h-1zM1005 229h1v3h-1zM1006 227h1v2h-1zM1007 225h1v2h-1zM1008 223h1v2h-1zM1009 221h1v2h-1zM1010 219h1v2h-1zM1011 217h1v2h-1zM1012 215h1v2h-1zM1013 213h1v2h-1zM1014 211h1v2h-1zM1015 210h1v1h-1zM1016 209h1v1h-1zM1017 208h1v1h-1zM1018 207h1v1h-1zM1019 206h2v1h-2zM1021 205h3v1h-3zM1024 206h1v2h-1zM1025 208h1v2h-1zM1026 210h1v2h-1zM1027 212h1v4h-1zM1028 216h1v4h-1zM1029 220h1v4h-1zM1030 224h1v6h-1zM1031 230h1v5h-1zM1032 235h1v3h-1zM1033 238h1v3h-1zM1034 241h1v3h-1zM1035 244h1v2h-1zM1036 246h1v3h-1zM1037 249h1v3h-1zM1038 252h1v2h-1zM1039 254h1v2h-1zM1040 256h1v1h-1zM1041 257h2v1h-2zM1043 256h1v1h-1zM1044 254h1v2h-1zM1045 253h1v1h-1zM1046 251h1v2h-1zM1047 247h1v4h-1zM1048 244h1v3h-1zM1049 241h1v3h-1zM1050 237h1v4h-1zM1051 234h1v3h-1zM1052 231h1v3h-1zM1053 227h1v4h-1zM1054 226h1v1h-1zM1055 224h1v2h-1zM1056 222h1v2h-1zM1057 221h1v1h-1zM1058 220h1v1h-1zM1059 219h5v1h-5zM1064 220h1v2h-1zM1065 222h1v2h-1zM1066 224h1v2h-1zM1067 226h1v1h-1zM1068 227h1v1h-1zM1069 228h1v1h-1zM1070 229h1v2h-1zM1071 230h1v1h-1zM1072 229h2v1h-2zM1074 228h1v1h-1zM1075 227h2v1h-2zM1077 226h6v1h-6zM1083 225h3v1h-3zM1086 224h1v1h-1zM1087 223h2v1h-2zM1089 222h2v1h-2zM1091 221h1v1h-1zM1092 222h1v3h-1zM1093 225h1v2h-1zM1094 227h1v2h-1zM1095 229h1v1h-1zM1096 230h1v1h-1zM1097 231h1v2h-1zM1098 232h4v1h-4zM1102 231h3v1h-3zM1105 230h10v1h-10zM1115 229h2v1h-2zM1117 230h3v1h-3zM1120 231h1v2h-1zM1121 233h1v2h-1zM1122 235h1v2h-1zM1123 237h1v3h-1zM1124 240h1v3h-1zM1125 243h1v3h-1zM1126 246h1v4h-1zM1127 250h1v2h-1zM1128 252h1v3h-1zM1129 255h1v2h-1zM1130 257h1v2h-1zM1131 259h1v2h-1zM1132 261h1v2h-1zM1133 263h1v2h-1zM1134 265h1v2h-1zM1135 267h1v2h-1zM1136 269h1v2h-1zM1137 271h1v2h-1zM1138 273h1v2h-1zM1139 275h1v1h-1zM1140 276h1v1h-1zM1141 277h1v1h-1zM1142 278h1v1h-1zM1143 279h1v1h-1zM1144 280h1v2h-1zM1145 282h1v1h-1zM1146 283h2v1h-2zM1148 284h4v1h-4zM1152 283h4v1h-4zM1156 284h1v2h-1zM1157 286h1v1h-1zM1158 287h1v1h-1zM1159 288h1v3h-1zM1160 291h1v3h-1zM1161 294h1v3h-1zM1162 297h1v3h-1zM1163 300h1v3h-1zM1164 303h1v3h-1zM1165 306h1v3h-1zM1166 309h1v3h-1zM1167 312h1v4h-1zM1168 316h1v6h-1zM1169 322h1v6h-1zM1170 328h1v6h-1zM1171 334h1v5h-1zM1172 339h1v6h-1zM1173 345h1v3h-1zM1174 348h1v3h-1zM1175 351h1v3h-1zM1176 354h1v1h-1zM1177 355h1v1h-1zM1178 356h1v1h-1zM1179 357h1v1h-1zM1180 356h2v1h-2zM1182 355h2v1h-2zM1184 354h1v1h-1zM1185 353h1v1h-1zM1186 352h1v1h-1zM1187 351h1v1h-1zM1188 346h1v5h-1zM1189 340h1v6h-1zM1190 338h1v2h-1zM1191 336h1v2h-1zM1192 336h4v1h-4zM1196 337h3v1h-3zM1199 338h2v1h-2zM1201 337h5v1h-5zM1206 338h1v1h-1zM1207 339h1v2h-1zM1208 341h1v2h-1zM1209 343h1v2h-1zM1210 345h1v2h-1zM1211 347h1v2h-1zM1212 349h1v2h-1zM1213 351h1v1h-1zM1214 352h1v1h-1zM1215 353h1v1h-1zM1216 354h1v1h-1zM1217 355h1v1h-1zM1218 356h1v1h-1zM1219 357h1v1h-1zM1220 358h2v1h-2zM1222 359h5v1h-5zM1227 358h1v1h-1zM1228 357h1v1h-1zM1229 355h1v2h-1zM1230 353h1v2h-1zM1231 352h4v1h-4zM1235 353h1v1h-1zM1236 354h2v1h-2zM1238 355h1v1h-1zM1239 356h1v1h-1zM1240 357h1v1h-1zM1241 358h2v1h-2zM1243 359h3v1h-3zM1246 360h1v1h-1zM1247 361h1v1h-1zM1248 362h1v2h-1zM1249 364h1v2h-1zM1250 366h1v2h-1zM1251 368h1v1h-1zM1252 369h1v1h-1zM1253 370h1v1h-1zM1254 371h1v1h-1zM1255 372h1v2h-1zM1256 374h1v1h-1zM1257 375h1v1h-1zM1258 376h1v2h-1zM1259 378h1v2h-1zM1260 380h1v2h-1zM1261 382h1v2h-1zM1262 384h1v2h-1zM1263 386h1v2h-1zM1264 388h1v2h-1zM1265 390h1v1h-1zM1266 391h1v2h-1z" fill="#ffa500"/>
<rect x="3" y="175" width="1592" height="2" fill="#ff0000"/>
<rect x="3" y="242" width="1592" height="2" fill="#ff0000"/>
<rect x="3" y="300" width="1592" height="2" fill="#00ff00"/>
<rect x="3" y="375" width="1592" height="2" fill="#0000ff"/>
<rect x="3" y="453" width="1592" height="2" fill="#0000ff"/>
</g>
<rect x="2" y="173" width="6" height="6" fill="#ff0000"/><rect x="4" y="175" width="2" height="2" fill="#fff"/>
<rect x="1589" y="173" width="6" height="6" fill="#ff0000"/><rect x="1591" y="175" width="2" height="2" fill="#fff"/>
<rect x="2" y="298" width="6" height="6" fill="#00ff00"/><rect x="4" y="300" width="2" height="2" fill="#fff"/>
<rect x="1589" y="298" width="6" height="6" fill="#00ff00"/><rect x="1591" y="300" width="2" height="2" fill="#fff"/>
<rect x="2" y="373" width="6" height="6" fill="#0000ff"/><rect x="4" y="375" width="2" height="2" fill="#fff"/>
<rect x="1589" y="373" width="6" height="6" fill="#0000ff"/><rect x="1591" y="375" width="2" height="2" fill="#fff"/>
<rect x="2" y="451" width="6" height="6" fill="#0000ff"/><rect x="4" y="453" width="2" height="2" fill="#fff"/>
<rect x="1589" y="451" width="6" height="6" fill="#0000ff"/><rect x="1591" y="453" width="2" height="2" fill="#fff"/>

<path d="M6 33 h7 l-3.5 4 z" fill="#000"/>
<text x="18.3" y="38" font-size="9.6" fill="#000" textLength="64.7" lengthAdjust="spacing">USDCHF,Daily</text>
<text x="89" y="38" font-size="9.6" fill="#000" textLength="140.6" lengthAdjust="spacing" xml:space="preserve">0.93810 0.93842 0.93692 0.93831</text>
<text x="7" y="547" font-size="9.6" fill="#000" textLength="68.2" lengthAdjust="spacing">RSI(14) 32.1938</text>
<path d="M4 562.5 H1595" stroke="#c0c0c0" stroke-width="1" stroke-dasharray="3 3" fill="none"/>
<path d="M4 598.5 H1595" stroke="#c0c0c0" stroke-width="1" stroke-dasharray="3 3" fill="none"/>
<path d="M3 576h1v1h-1zM4 575h2v1h-2zM6 574h4v1h-4zM10 575h1v1h-1zM11 576h2v1h-2zM13 577h1v2h-1zM14 579h1v1h-1zM15 580h3v1h-3zM18 581h2v1h-2zM20 582h1v2h-1zM21 584h1v1h-1zM22 585h1v1h-1zM23 586h7v1h-7zM30 585h2v1h-2zM32 583h1v2h-1zM33 582h1v1h-1zM34 580h1v2h-1zM35 579h1v1h-1zM36 580h1v1h-1zM37 581h2v1h-2zM39 582h2v1h-2zM41 583h3v1h-3zM44 584h1v1h-1zM45 585h1v1h-1zM46 586h1v1h-1zM47 587h6v1h-6zM53 588h2v1h-2zM55 589h1v1h-1zM56 587h1v2h-1zM57 586h1v1h-1zM58 584h1v2h-1zM59 583h2v1h-2zM61 582h3v1h-3zM64 580h1v2h-1zM65 579h1v1h-1zM66 578h1v1h-1zM67 576h1v2h-1zM68 575h1v1h-1zM69 574h1v1h-1zM70 573h1v1h-1zM71 572h2v1h-2zM73 571h3v1h-3zM76 572h1v1h-1zM77 573h1v1h-1zM78 574h1v1h-1zM79 575h2v1h-2zM81 576h2v1h-2zM83 577h5v1h-5zM88 576h1v1h-1zM89 574h1v2h-1zM90 573h2v1h-2zM92 574h1v2h-1zM93 576h1v4h-1zM94 580h1v5h-1zM95 585h1v3h-1zM96 587h1v1h-1zM97 588h2v1h-2zM99 589h1v1h-1zM100 590h1v1h-1zM101 591h1v2h-1zM102 593h1v2h-1zM103 595h1v1h-1zM104 593h1v2h-1zM105 592h1v1h-1zM106 590h1v2h-1zM107 588h1v2h-1zM108 589h1v2h-1zM109 591h1v1h-1zM110 592h1v2h-1zM111 594h1v1h-1zM112 593h1v1h-1zM113 591h1v2h-1zM114 590h1v1h-1zM115 589h1v1h-1zM116 590h2v1h-2zM118 591h1v1h-1zM119 592h2v1h-2zM121 591h5v1h-5zM126 592h2v1h-2zM128 591h1v1h-1zM129 590h1v1h-1zM130 588h1v2h-1zM131 587h3v1h-3zM134 588h2v1h-2zM136 587h2v1h-2zM138 586h1v1h-1zM139 585h1v1h-1zM140 584h1v1h-1zM141 583h1v1h-1zM142 582h1v1h-1zM143 581h2v1h-2zM145 582h2v1h-2zM147 583h1v1h-1zM148 582h1v1h-1zM149 581h2v1h-2zM151 580h2v1h-2zM153 581h2v1h-2zM155 582h1v1h-1zM156 581h1v1h-1zM157 580h2v1h-2zM159 579h1v1h-1zM160 578h2v1h-2zM162 577h1v1h-1zM163 578h1v1h-1zM164 579h1v2h-1zM165 581h1v2h-1zM166 583h1v2h-1zM167 585h1v2h-1zM168 586h4v1h-4zM172 585h1v1h-1zM173 584h1v1h-1zM174 583h1v1h-1zM175 582h1v1h-1zM176 581h1v1h-1zM177 580h1v1h-1zM178 579h6v1h-6zM184 578h1v1h-1zM185 577h1v1h-1zM186 576h1v1h-1zM187 575h1v1h-1zM188 574h1v1h-1zM189 573h1v1h-1zM190 572h1v1h-1zM191 571h1v1h-1zM192 570h8v1h-8zM200 571h1v1h-1zM201 572h1v1h-1zM202 573h1v2h-1zM203 575h1v1h-1zM204 576h1v2h-1zM205 578h1v1h-1zM206 579h1v1h-1zM207 580h1v2h-1zM208 579h1v2h-1zM209 578h1v1h-1zM210 577h1v1h-1zM211 576h5v1h-5zM216 575h4v1h-4zM220 574h1v1h-1zM221 573h2v1h-2zM223 572h5v1h-5zM228 571h2v1h-2zM230 570h2v1h-2zM232 571h1v2h-1zM233 573h1v1h-1zM234 574h1v1h-1zM235 575h1v2h-1zM236 576h1v1h-1zM237 575h4v1h-4zM241 574h5v1h-5zM246 573h3v1h-3zM249 572h3v1h-3zM252 571h1v1h-1zM253 570h2v1h-2zM255 569h1v1h-1zM256 570h1v1h-1zM257 571h1v1h-1zM258 572h1v1h-1zM259 573h6v1h-6zM265 574h2v1h-2zM267 575h1v1h-1zM268 576h1v1h-1zM269 577h1v1h-1zM270 578h1v1h-1zM271 579h1v1h-1zM272 580h1v1h-1zM273 581h2v1h-2zM275 582h1v1h-1zM276 581h1v1h-1zM277 579h1v2h-1zM278 578h1v1h-1zM279 577h1v1h-1zM280 576h1v1h-1zM281 575h2v1h-2zM283 574h2v1h-2zM285 575h1v1h-1zM286 576h2v1h-2zM288 577h1v1h-1zM289 578h2v1h-2zM291 579h1v1h-1zM292 576h1v3h-1zM293 573h1v3h-1zM294 571h1v2h-1zM295 569h1v2h-1zM296 570h1v2h-1zM297 572h1v2h-1zM298 574h1v2h-1zM299 576h1v1h-1zM300 575h1v1h-1zM301 574h1v1h-1zM302 573h1v1h-1zM303 572h6v1h-6zM309 573h2v1h-2zM311 574h2v1h-2zM313 575h2v1h-2zM315 576h7v1h-7zM322 577h3v1h-3zM325 576h4v1h-4zM329 575h3v1h-3zM332 574h2v1h-2zM334 573h3v1h-3zM337 572h4v1h-4zM341 573h3v1h-3zM344 572h2v1h-2zM346 571h2v1h-2zM348 572h1v1h-1zM349 573h1v2h-1zM350 575h1v1h-1zM351 576h1v2h-1zM352 578h1v3h-1zM353 581h1v3h-1zM354 584h1v5h-1zM355 589h1v3h-1zM356 591h2v1h-2zM358 592h4v1h-4zM362 593h2v1h-2zM364 592h1v1h-1zM365 591h1v1h-1zM366 590h1v1h-1zM367 589h1v1h-1zM368 588h1v1h-1zM369 587h1v1h-1zM370 585h1v2h-1zM371 584h1v1h-1zM372 583h2v1h-2zM374 582h1v1h-1zM375 581h2v1h-2zM377 580h1v1h-1zM378 579h1v1h-1zM379 578h2v1h-2zM381 577h2v1h-2zM383 576h5v1h-5zM388 575h1v1h-1zM389 574h2v1h-2zM391 573h1v1h-1zM392 574h1v2h-1zM393 576h1v1h-1zM394 577h1v1h-1zM395 578h1v2h-1zM396 580h1v1h-1zM397 581h1v1h-1zM398 582h1v1h-1zM399 583h1v1h-1zM400 584h1v2h-1zM401 586h1v1h-1zM402 587h1v1h-1zM403 588h1v2h-1zM404 589h1v1h-1zM405 590h2v1h-2zM407 591h3v1h-3zM410 590h3v1h-3zM413 589h3v1h-3zM416 586h1v3h-1zM417 584h1v2h-1zM418 582h1v2h-1zM419 580h1v2h-1zM420 579h2v1h-2zM422 578h2v1h-2zM424 577h1v1h-1zM425 576h1v1h-1zM426 575h1v1h-1zM427 574h1v1h-1zM428 573h2v1h-2zM430 572h2v1h-2zM432 571h2v1h-2zM434 570h2v1h-2zM436 571h1v2h-1zM437 573h1v2h-1zM438 575h1v1h-1zM439 576h1v2h-1zM440 577h3v1h-3zM443 578h1v1h-1zM444 579h1v2h-1zM445 581h1v1h-1zM446 582h1v2h-1zM447 584h1v2h-1zM448 585h1v1h-1zM449 586h2v1h-2zM451 587h1v1h-1zM452 586h2v1h-2zM454 585h2v1h-2zM456 584h4v1h-4zM460 585h1v1h-1zM461 586h1v1h-1zM462 587h1v1h-1zM463 588h1v1h-1zM464 587h1v1h-1zM465 585h1v2h-1zM466 584h1v1h-1zM467 583h1v1h-1zM468 582h1v1h-1zM469 580h1v2h-1zM470 579h1v1h-1zM471 578h1v1h-1zM472 579h2v1h-2zM474 580h1v1h-1zM475 581h1v1h-1zM476 579h1v2h-1zM477 577h1v2h-1zM478 575h1v2h-1zM479 573h1v2h-1zM480 572h2v1h-2zM482 571h6v1h-6zM488 570h2v1h-2zM490 569h8v1h-8zM498 570h3v1h-3zM501 569h4v1h-4zM505 568h2v1h-2zM507 569h1v1h-1zM508 570h1v3h-1zM509 573h1v3h-1zM510 576h1v4h-1zM511 580h1v4h-1zM512 584h1v2h-1zM513 586h1v3h-1zM514 589h1v2h-1zM515 591h1v2h-1zM516 591h1v1h-1zM517 590h1v1h-1zM518 588h1v2h-1zM519 588h5v1h-5zM524 587h1v1h-1zM525 586h1v1h-1zM526 585h1v1h-1zM527 584h4v1h-4zM531 585h2v1h-2zM533 586h2v1h-2zM535 587h2v1h-2zM537 588h1v1h-1zM538 589h1v1h-1zM539 590h6v1h-6zM545 589h3v1h-3zM548 590h1v1h-1zM549 591h1v1h-1zM550 592h1v2h-1zM551 594h1v1h-1zM552 593h1v1h-1zM553 592h2v1h-2zM555 591h3v1h-3zM558 592h2v1h-2zM560 593h1v1h-1zM561 594h1v1h-1zM562 595h1v2h-1zM563 597h1v1h-1zM564 596h1v1h-1zM565 595h1v1h-1zM566 594h1v1h-1zM567 593h2v1h-2zM569 594h1v1h-1zM570 595h1v1h-1zM571 596h1v1h-1zM572 594h1v2h-1zM573 593h1v1h-1zM574 591h1v2h-1zM575 589h1v2h-1zM576 589h1v1h-1zM577 588h7v1h-7zM584 589h2v1h-2zM586 590h1v1h-1zM587 591h3v1h-3zM590 592h2v1h-2zM592 591h1v1h-1zM593 590h1v1h-1zM594 589h1v1h-1zM595 588h1v1h-1zM596 589h1v2h-1zM597 591h1v1h-1zM598 592h1v2h-1zM599 594h1v2h-1zM600 596h1v1h-1zM601 597h2v1h-2zM603 598h1v1h-1zM604 599h2v1h-2zM606 600h1v1h-1zM607 601h3v1h-3zM610 602h4v1h-4zM614 603h2v1h-2zM616 602h1v1h-1zM617 601h1v1h-1zM618 600h1v1h-1zM619 599h1v1h-1zM620 598h1v1h-1zM621 597h1v1h-1zM622 596h1v1h-1zM623 595h1v1h-1zM624 594h1v1h-1zM625 593h2v1h-2zM627 592h1v1h-1zM628 593h1v1h-1zM629 594h1v1h-1zM630 595h1v1h-1zM631 596h1v1h-1zM632 594h1v2h-1zM633 593h1v1h-1zM634 591h1v2h-1zM635 590h2v1h-2zM637 591h2v1h-2zM639 592h1v1h-1zM640 591h1v1h-1zM641 590h1v1h-1zM642 589h1v1h-1zM643 588h1v1h-1zM644 587h2v1h-2zM646 586h5v1h-5zM651 587h2v1h-2zM653 588h1v1h-1zM654 589h1v1h-1zM655 590h1v1h-1zM656 591h2v1h-2zM658 592h1v1h-1zM659 593h1v1h-1zM660 594h1v1h-1zM661 595h1v1h-1zM662 596h1v1h-1zM663 597h3v1h-3zM666 598h1v1h-1zM667 597h1v1h-1zM668 595h1v2h-1zM669 593h1v2h-1zM670 591h1v2h-1zM671 590h5v1h-5zM676 589h1v1h-1zM677 588h2v1h-2zM679 587h1v1h-1zM680 588h3v1h-3zM683 589h1v1h-1zM684 587h1v2h-1zM685 586h1v1h-1zM686 585h1v1h-1zM687 584h2v1h-2zM689 585h2v1h-2zM691 586h1v1h-1zM692 585h2v1h-2zM694 584h1v1h-1zM695 583h6v1h-6zM701 584h2v1h-2zM703 585h1v1h-1zM704 583h1v2h-1zM705 581h1v2h-1zM706 578h1v3h-1zM707 577h1v1h-1zM708 576h2v1h-2zM710 575h1v1h-1zM711 576h1v1h-1zM712 577h1v2h-1zM713 579h1v3h-1zM714 582h1v3h-1zM715 585h1v2h-1zM716 587h1v1h-1zM717 588h1v2h-1zM718 590h1v1h-1zM719 591h3v1h-3zM722 592h1v1h-1zM723 591h1v1h-1zM724 590h1v1h-1zM725 589h1v1h-1zM726 587h1v2h-1zM727 586h1v1h-1zM728 585h1v1h-1zM729 583h1v2h-1zM730 582h1v1h-1zM731 581h1v1h-1zM732 580h1v1h-1zM733 579h1v1h-1zM734 578h1v1h-1zM735 577h1v1h-1zM736 576h2v1h-2zM738 575h2v1h-2zM740 574h2v1h-2zM742 573h3v1h-3zM745 572h12v1h-12zM757 573h3v1h-3zM760 572h1v1h-1zM761 571h1v1h-1zM762 570h1v1h-1zM763 569h2v1h-2zM765 568h1v1h-1zM766 567h1v1h-1zM767 566h11v1h-11zM778 565h4v1h-4zM782 564h2v1h-2zM784 565h1v1h-1zM785 566h2v1h-2zM787 567h1v2h-1zM788 569h1v2h-1zM789 571h1v3h-1zM790 574h1v2h-1zM791 576h1v2h-1zM792 577h2v1h-2zM794 578h6v1h-6zM800 579h1v1h-1zM801 580h2v1h-2zM803 581h1v1h-1zM804 580h2v1h-2zM806 579h1v1h-1zM807 580h1v1h-1zM808 581h1v3h-1zM809 584h1v3h-1zM810 587h1v4h-1zM811 591h1v1h-1zM812 592h1v1h-1zM813 593h2v1h-2zM815 594h1v1h-1zM816 595h2v1h-2zM818 596h1v1h-1zM819 597h1v1h-1zM820 598h1v2h-1zM821 600h1v1h-1zM822 601h1v2h-1zM823 603h1v1h-1zM824 604h1v1h-1zM825 605h2v1h-2zM827 606h5v1h-5zM832 607h1v1h-1zM833 608h1v1h-1zM834 609h2v1h-2zM836 610h1v2h-1zM837 612h1v1h-1zM838 613h1v1h-1zM839 614h6v1h-6zM845 615h2v1h-2zM847 616h1v1h-1zM848 614h1v2h-1zM849 612h1v2h-1zM850 610h1v2h-1zM851 609h1v1h-1zM852 607h1v2h-1zM853 604h1v3h-1zM854 602h1v2h-1zM855 600h1v2h-1zM856 596h1v4h-1zM857 591h1v5h-1zM858 587h1v4h-1zM859 584h1v3h-1zM860 584h4v1h-4zM864 583h3v1h-3zM867 584h1v1h-1zM868 585h1v1h-1zM869 586h1v1h-1zM870 587h1v1h-1zM871 588h1v1h-1zM872 585h1v3h-1zM873 582h1v3h-1zM874 579h1v3h-1zM875 576h1v3h-1zM876 575h1v1h-1zM877 573h1v2h-1zM878 572h1v1h-1zM879 570h1v2h-1zM880 569h1v1h-1zM881 568h1v1h-1zM882 567h1v1h-1zM883 566h2v1h-2zM885 565h4v1h-4zM889 564h2v1h-2zM891 565h1v1h-1zM892 566h1v1h-1zM893 567h1v1h-1zM894 568h1v2h-1zM895 570h3v1h-3zM898 571h3v1h-3zM901 572h2v1h-2zM903 573h1v1h-1zM904 574h1v2h-1zM905 576h1v2h-1zM906 578h1v2h-1zM907 580h1v2h-1zM908 582h1v1h-1zM909 583h1v2h-1zM910 585h1v1h-1zM911 586h1v2h-1zM912 587h2v1h-2zM914 588h1v1h-1zM915 587h1v1h-1zM916 586h1v1h-1zM917 585h1v1h-1zM918 584h1v1h-1zM919 583h1v1h-1zM920 582h4v1h-4zM924 581h1v1h-1zM925 580h2v1h-2zM927 579h1v1h-1zM928 578h1v1h-1zM929 577h1v1h-1zM930 576h2v1h-2zM932 575h1v1h-1zM933 574h2v1h-2zM935 573h2v1h-2zM937 574h2v1h-2zM939 575h2v1h-2zM941 574h3v1h-3zM944 575h1v1h-1zM945 576h1v1h-1zM946 577h1v2h-1zM947 579h5v1h-5zM952 580h2v1h-2zM954 581h1v1h-1zM955 582h3v1h-3zM958 583h6v1h-6zM964 582h2v1h-2zM966 581h2v1h-2zM968 582h1v1h-1zM969 583h1v1h-1zM970 584h1v2h-1zM971 586h1v1h-1zM972 585h1v1h-1zM973 583h1v2h-1zM974 582h1v1h-1zM975 581h2v1h-2zM977 580h2v1h-2zM979 579h2v1h-2zM981 580h2v1h-2zM983 581h2v1h-2zM985 580h6v1h-6zM991 581h1v1h-1zM992 580h2v1h-2zM994 579h2v1h-2zM996 578h2v1h-2zM998 577h2v1h-2zM1000 576h2v1h-2zM1002 575h2v1h-2zM1004 574h2v1h-2zM1006 573h12v1h-12zM1018 574h1v1h-1zM1019 575h1v1h-1zM1020 574h4v1h-4zM1024 575h1v2h-1zM1025 577h1v2h-1zM1026 579h1v3h-1zM1027 582h1v2h-1zM1028 584h1v2h-1zM1029 586h1v1h-1zM1030 587h1v2h-1zM1031 589h1v2h-1zM1032 589h2v1h-2zM1034 588h1v1h-1zM1035 587h1v1h-1zM1036 586h1v1h-1zM1037 585h1v1h-1zM1038 584h1v1h-1zM1039 583h1v1h-1zM1040 582h1v1h-1zM1041 580h1v2h-1zM1042 578h1v2h-1zM1043 577h1v1h-1zM1044 576h2v1h-2zM1046 575h6v1h-6zM1052 576h1v1h-1zM1053 577h1v1h-1zM1054 578h1v2h-1zM1055 580h2v1h-2zM1057 579h4v1h-4zM1061 578h3v1h-3zM1064 579h1v1h-1zM1065 580h1v1h-1zM1066 581h1v1h-1zM1067 582h1v1h-1zM1068 581h2v1h-2zM1070 580h2v1h-2zM1072 579h1v1h-1zM1073 578h2v1h-2zM1075 577h7v1h-7zM1082 578h2v1h-2zM1084 579h2v1h-2zM1086 580h1v1h-1zM1087 581h1v1h-1zM1088 580h1v1h-1zM1089 579h3v1h-3zM1092 580h1v2h-1zM1093 582h1v2h-1zM1094 584h1v2h-1zM1095 586h1v1h-1zM1096 584h1v2h-1zM1097 583h1v1h-1zM1098 581h1v2h-1zM1099 580h1v1h-1zM1100 579h2v1h-2zM1102 578h7v1h-7zM1109 579h2v1h-2zM1111 580h1v1h-1zM1112 581h1v1h-1zM1113 582h1v1h-1zM1114 583h1v2h-1zM1115 585h1v1h-1zM1116 584h1v1h-1zM1117 583h1v1h-1zM1118 582h1v1h-1zM1119 581h1v1h-1zM1120 582h1v2h-1zM1121 584h1v1h-1zM1122 585h1v2h-1zM1123 587h2v1h-2zM1125 588h2v1h-2zM1127 589h7v1h-7zM1134 590h2v1h-2zM1136 589h2v1h-2zM1138 588h5v1h-5zM1143 589h1v1h-1zM1144 590h1v1h-1zM1145 591h1v1h-1zM1146 592h1v2h-1zM1147 593h1v1h-1zM1148 591h1v2h-1zM1149 589h1v2h-1zM1150 587h1v2h-1zM1151 585h1v2h-1zM1152 585h2v1h-2zM1154 586h2v1h-2zM1156 587h1v1h-1zM1157 588h1v2h-1zM1158 590h1v1h-1zM1159 591h1v1h-1zM1160 592h1v2h-1zM1161 594h1v1h-1zM1162 595h1v1h-1zM1163 596h1v2h-1zM1164 598h1v1h-1zM1165 599h2v1h-2zM1167 600h1v1h-1zM1168 601h2v1h-2zM1170 602h1v1h-1zM1171 603h1v1h-1zM1172 599h1v4h-1zM1173 595h1v4h-1zM1174 590h1v5h-1zM1175 588h1v2h-1zM1176 587h1v1h-1zM1177 586h1v1h-1zM1178 585h2v1h-2zM1180 586h2v1h-2zM1182 587h1v1h-1zM1183 588h3v1h-3zM1186 589h2v1h-2zM1188 588h2v1h-2zM1190 587h7v1h-7zM1197 586h7v1h-7zM1204 587h1v1h-1zM1205 588h1v1h-1zM1206 589h1v1h-1zM1207 590h1v1h-1zM1208 591h2v1h-2zM1210 592h1v1h-1zM1211 593h1v1h-1zM1212 592h1v1h-1zM1213 591h1v1h-1zM1214 590h1v1h-1zM1215 589h1v1h-1zM1216 588h2v1h-2zM1218 587h8v1h-8zM1226 588h2v1h-2zM1228 587h1v1h-1zM1229 586h1v1h-1zM1230 585h1v1h-1zM1231 584h1v1h-1zM1232 585h1v1h-1zM1233 586h1v1h-1zM1234 587h1v1h-1zM1235 588h4v1h-4zM1239 589h12v1h-12zM1251 590h1v1h-1zM1252 591h2v1h-2zM1254 592h2v1h-2zM1256 593h2v1h-2zM1258 594h2v1h-2zM1260 595h2v1h-2zM1262 596h2v1h-2zM1264 597h3v1h-3z" fill="#1e90ff"/>
<text x="7" y="641" font-size="9.6" fill="#000" textLength="154" lengthAdjust="spacing">MACD(12,26,9) -0.004191 -0.003610</text>
<rect x="3" y="660" width="1" height="10" fill="#c0c0c0"/>
<rect x="7" y="660" width="1" height="7" fill="#c0c0c0"/>
<rect x="11" y="660" width="1" height="4" fill="#c0c0c0"/>
<rect x="15" y="660" width="1" height="3" fill="#c0c0c0"/>
<rect x="19" y="660" width="1" height="1" fill="#c0c0c0"/>
<rect x="23" y="660" width="1" height="4" fill="#c0c0c0"/>
<rect x="27" y="660" width="1" height="5" fill="#c0c0c0"/>
<rect x="31" y="660" width="1" height="5" fill="#c0c0c0"/>
<rect x="35" y="660" width="1" height="5" fill="#c0c0c0"/>
<rect x="39" y="660" width="1" height="4" fill="#c0c0c0"/>
<rect x="43" y="660" width="1" height="5" fill="#c0c0c0"/>
<rect x="47" y="660" width="1" height="5" fill="#c0c0c0"/>
<rect x="51" y="660" width="1" height="6" fill="#c0c0c0"/>
<rect x="55" y="660" width="1" height="8" fill="#c0c0c0"/>
<rect x="59" y="660" width="1" height="6" fill="#c0c0c0"/>
<rect x="63" y="660" width="1" height="5" fill="#c0c0c0"/>
<rect x="67" y="660" width="1" height="3" fill="#c0c0c0"/>
<rect x="71" y="660" width="1" height="1" fill="#c0c0c0"/>
<rect x="75" y="657" width="1" height="4" fill="#c0c0c0"/>
<rect x="79" y="657" width="1" height="4" fill="#c0c0c0"/>
<rect x="83" y="657" width="1" height="4" fill="#c0c0c0"/>
<rect x="87" y="656" width="1" height="5" fill="#c0c0c0"/>
<rect x="91" y="655" width="1" height="6" fill="#c0c0c0"/>
<rect x="95" y="658" width="1" height="3" fill="#c0c0c0"/>
<rect x="99" y="660" width="1" height="1" fill="#c0c0c0"/>
<rect x="103" y="660" width="1" height="7" fill="#c0c0c0"/>
<rect x="107" y="660" width="1" height="9" fill="#c0c0c0"/>
<rect x="111" y="660" width="1" height="14" fill="#c0c0c0"/>
<rect x="115" y="660" width="1" height="16" fill="#c0c0c0"/>
<rect x="119" y="660" width="1" height="19" fill="#c0c0c0"/>
<rect x="123" y="660" width="1" height="20" fill="#c0c0c0"/>
<rect x="127" y="660" width="1" height="22" fill="#c0c0c0"/>
<rect x="131" y="660" width="1" height="22" fill="#c0c0c0"/>
<rect x="135" y="660" width="1" height="21" fill="#c0c0c0"/>
<rect x="139" y="660" width="1" height="19" fill="#c0c0c0"/>
<rect x="143" y="660" width="1" height="17" fill="#c0c0c0"/>
<rect x="147" y="660" width="1" height="15" fill="#c0c0c0"/>
<rect x="151" y="660" width="1" height="12" fill="#c0c0c0"/>
<rect x="155" y="660" width="1" height="11" fill="#c0c0c0"/>
<rect x="159" y="660" width="1" height="8" fill="#c0c0c0"/>
<rect x="163" y="660" width="1" height="6" fill="#c0c0c0"/>
<rect x="167" y="660" width="1" height="6" fill="#c0c0c0"/>
<rect x="171" y="660" width="1" height="8" fill="#c0c0c0"/>
<rect x="175" y="660" width="1" height="6" fill="#c0c0c0"/>
<rect x="179" y="660" width="1" height="5" fill="#c0c0c0"/>
<rect x="183" y="660" width="1" height="3" fill="#c0c0c0"/>
<rect x="187" y="660" width="1" height="1" fill="#c0c0c0"/>
<rect x="191" y="658" width="1" height="3" fill="#c0c0c0"/>
<rect x="195" y="654" width="1" height="7" fill="#c0c0c0"/>
<rect x="199" y="651" width="1" height="10" fill="#c0c0c0"/>
<rect x="203" y="651" width="1" height="10" fill="#c0c0c0"/>
<rect x="207" y="653" width="1" height="8" fill="#c0c0c0"/>
<rect x="211" y="652" width="1" height="9" fill="#c0c0c0"/>
<rect x="215" y="652" width="1" height="9" fill="#c0c0c0"/>
<rect x="219" y="651" width="1" height="10" fill="#c0c0c0"/>
<rect x="223" y="650" width="1" height="11" fill="#c0c0c0"/>
<rect x="227" y="648" width="1" height="13" fill="#c0c0c0"/>
<rect x="231" y="647" width="1" height="14" fill="#c0c0c0"/>
<rect x="235" y="647" width="1" height="14" fill="#c0c0c0"/>
<rect x="239" y="647" width="1" height="14" fill="#c0c0c0"/>
<rect x="243" y="647" width="1" height="14" fill="#c0c0c0"/>
<rect x="247" y="647" width="1" height="14" fill="#c0c0c0"/>
<rect x="251" y="647" width="1" height="14" fill="#c0c0c0"/>
<rect x="255" y="646" width="1" height="15" fill="#c0c0c0"/>
<rect x="259" y="646" width="1" height="15" fill="#c0c0c0"/>
<rect x="263" y="647" width="1" height="14" fill="#c0c0c0"/>
<rect x="267" y="647" width="1" height="14" fill="#c0c0c0"/>
<rect x="271" y="649" width="1" height="12" fill="#c0c0c0"/>
<rect x="275" y="651" width="1" height="10" fill="#c0c0c0"/>
<rect x="279" y="652" width="1" height="9" fill="#c0c0c0"/>
<rect x="283" y="651" width="1" height="10" fill="#c0c0c0"/>
<rect x="287" y="652" width="1" height="9" fill="#c0c0c0"/>
<rect x="291" y="652" width="1" height="9" fill="#c0c0c0"/>
<rect x="295" y="650" width="1" height="11" fill="#c0c0c0"/>
<rect x="299" y="649" width="1" height="12" fill="#c0c0c0"/>
<rect x="303" y="649" width="1" height="12" fill="#c0c0c0"/>
<rect x="307" y="648" width="1" height="13" fill="#c0c0c0"/>
<rect x="311" y="648" width="1" height="13" fill="#c0c0c0"/>
<rect x="315" y="649" width="1" height="12" fill="#c0c0c0"/>
<rect x="319" y="649" width="1" height="12" fill="#c0c0c0"/>
<rect x="323" y="649" width="1" height="12" fill="#c0c0c0"/>
<rect x="327" y="650" width="1" height="11" fill="#c0c0c0"/>
<rect x="331" y="651" width="1" height="10" fill="#c0c0c0"/>
<rect x="335" y="651" width="1" height="10" fill="#c0c0c0"/>
<rect x="339" y="651" width="1" height="10" fill="#c0c0c0"/>
<rect x="343" y="651" width="1" height="10" fill="#c0c0c0"/>
<rect x="347" y="651" width="1" height="10" fill="#c0c0c0"/>
<rect x="351" y="651" width="1" height="10" fill="#c0c0c0"/>
<rect x="355" y="655" width="1" height="6" fill="#c0c0c0"/>
<rect x="359" y="660" width="1" height="1" fill="#c0c0c0"/>
<rect x="363" y="660" width="1" height="1" fill="#c0c0c0"/>
<rect x="367" y="660" width="1" height="4" fill="#c0c0c0"/>
<rect x="371" y="660" width="1" height="5" fill="#c0c0c0"/>
<rect x="375" y="660" width="1" height="3" fill="#c0c0c0"/>
<rect x="379" y="660" width="1" height="2" fill="#c0c0c0"/>
<rect x="383" y="660" width="1" height="1" fill="#c0c0c0"/>
<rect x="387" y="660" width="1" height="1" fill="#c0c0c0"/>
<rect x="391" y="659" width="1" height="2" fill="#c0c0c0"/>
<rect x="395" y="659" width="1" height="2" fill="#c0c0c0"/>
<rect x="399" y="660" width="1" height="1" fill="#c0c0c0"/>
<rect x="403" y="660" width="1" height="1" fill="#c0c0c0"/>
<rect x="407" y="660" width="1" height="3" fill="#c0c0c0"/>
<rect x="411" y="660" width="1" height="5" fill="#c0c0c0"/>
<rect x="415" y="660" width="1" height="7" fill="#c0c0c0"/>
<rect x="419" y="660" width="1" height="5" fill="#c0c0c0"/>
<rect x="423" y="660" width="1" height="2" fill="#c0c0c0"/>
<rect x="427" y="660" width="1" height="1" fill="#c0c0c0"/>
<rect x="431" y="660" width="1" height="1" fill="#c0c0c0"/>
<rect x="435" y="657" width="1" height="4" fill="#c0c0c0"/>
<rect x="439" y="657" width="1" height="4" fill="#c0c0c0"/>
<rect x="443" y="657" width="1" height="4" fill="#c0c0c0"/>
<rect x="447" y="659" width="1" height="2" fill="#c0c0c0"/>
<rect x="451" y="659" width="1" height="2" fill="#c0c0c0"/>
<rect x="455" y="660" width="1" height="1" fill="#c0c0c0"/>
<rect x="459" y="660" width="1" height="1" fill="#c0c0c0"/>
<rect x="463" y="660" width="1" height="2" fill="#c0c0c0"/>
<rect x="467" y="660" width="1" height="3" fill="#c0c0c0"/>
<rect x="471" y="660" width="1" height="1" fill="#c0c0c0"/>
<rect x="475" y="660" width="1" height="1" fill="#c0c0c0"/>
<rect x="479" y="660" width="1" height="1" fill="#c0c0c0"/>
<rect x="483" y="658" width="1" height="3" fill="#c0c0c0"/>
<rect x="487" y="656" width="1" height="5" fill="#c0c0c0"/>
<rect x="491" y="654" width="1" height="7" fill="#c0c0c0"/>
<rect x="495" y="653" width="1" height="8" fill="#c0c0c0"/>
<rect x="499" y="652" width="1" height="9" fill="#c0c0c0"/>
<rect x="503" y="651" width="1" height="10" fill="#c0c0c0"/>
<rect x="507" y="650" width="1" height="11" fill="#c0c0c0"/>
<rect x="511" y="652" width="1" height="9" fill="#c0c0c0"/>
<rect x="515" y="657" width="1" height="4" fill="#c0c0c0"/>
<rect x="519" y="660" width="1" height="1" fill="#c0c0c0"/>
<rect x="523" y="660" width="1" height="1" fill="#c0c0c0"/>
<rect x="527" y="660" width="1" height="1" fill="#c0c0c0"/>
<rect x="531" y="660" width="1" height="1" fill="#c0c0c0"/>
<rect x="535" y="660" width="1" height="4" fill="#c0c0c0"/>
<rect x="539" y="660" width="1" height="6" fill="#c0c0c0"/>
<rect x="543" y="660" width="1" height="7" fill="#c0c0c0"/>
<rect x="547" y="660" width="1" height="8" fill="#c0c0c0"/>
<rect x="551" y="660" width="1" height="10" fill="#c0c0c0"/>
<rect x="555" y="660" width="1" height="11" fill="#c0c0c0"/>
<rect x="559" y="660" width="1" height="12" fill="#c0c0c0"/>
<rect x="563" y="660" width="1" height="14" fill="#c0c0c0"/>
<rect x="567" y="660" width="1" height="15" fill="#c0c0c0"/>
<rect x="571" y="660" width="1" height="17" fill="#c0c0c0"/>
<rect x="575" y="660" width="1" height="17" fill="#c0c0c0"/>
<rect x="579" y="660" width="1" height="16" fill="#c0c0c0"/>
<rect x="583" y="660" width="1" height="15" fill="#c0c0c0"/>
<rect x="587" y="660" width="1" height="16" fill="#c0c0c0"/>
<rect x="591" y="660" width="1" height="16" fill="#c0c0c0"/>
<rect x="595" y="660" width="1" height="15" fill="#c0c0c0"/>
<rect x="599" y="660" width="1" height="17" fill="#c0c0c0"/>
<rect x="603" y="660" width="1" height="19" fill="#c0c0c0"/>
<rect x="607" y="660" width="1" height="22" fill="#c0c0c0"/>
<rect x="611" y="660" width="1" height="24" fill="#c0c0c0"/>
<rect x="615" y="660" width="1" height="26" fill="#c0c0c0"/>
<rect x="619" y="660" width="1" height="27" fill="#c0c0c0"/>
<rect x="623" y="660" width="1" height="26" fill="#c0c0c0"/>
<rect x="627" y="660" width="1" height="25" fill="#c0c0c0"/>
<rect x="631" y="660" width="1" height="25" fill="#c0c0c0"/>
<rect x="635" y="660" width="1" height="25" fill="#c0c0c0"/>
<rect x="639" y="660" width="1" height="24" fill="#c0c0c0"/>
<rect x="643" y="660" width="1" height="20" fill="#c0c0c0"/>
<rect x="647" y="660" width="1" height="19" fill="#c0c0c0"/>
<rect x="651" y="660" width="1" height="18" fill="#c0c0c0"/>
<rect x="655" y="660" width="1" height="17" fill="#c0c0c0"/>
<rect x="659" y="660" width="1" height="17" fill="#c0c0c0"/>
<rect x="663" y="660" width="1" height="19" fill="#c0c0c0"/>
<rect x="667" y="660" width="1" height="20" fill="#c0c0c0"/>
<rect x="671" y="660" width="1" height="20" fill="#c0c0c0"/>
<rect x="675" y="660" width="1" height="19" fill="#c0c0c0"/>
<rect x="679" y="660" width="1" height="17" fill="#c0c0c0"/>
<rect x="683" y="660" width="1" height="16" fill="#c0c0c0"/>
<rect x="687" y="660" width="1" height="15" fill="#c0c0c0"/>
<rect x="691" y="660" width="1" height="14" fill="#c0c0c0"/>
<rect x="695" y="660" width="1" height="12" fill="#c0c0c0"/>
<rect x="699" y="660" width="1" height="10" fill="#c0c0c0"/>
<rect x="703" y="660" width="1" height="9" fill="#c0c0c0"/>
<rect x="707" y="660" width="1" height="7" fill="#c0c0c0"/>
<rect x="711" y="660" width="1" height="5" fill="#c0c0c0"/>
<rect x="715" y="660" width="1" height="5" fill="#c0c0c0"/>
<rect x="719" y="660" width="1" height="7" fill="#c0c0c0"/>
<rect x="723" y="660" width="1" height="8" fill="#c0c0c0"/>
<rect x="727" y="660" width="1" height="9" fill="#c0c0c0"/>
<rect x="731" y="660" width="1" height="8" fill="#c0c0c0"/>
<rect x="735" y="660" width="1" height="6" fill="#c0c0c0"/>
<rect x="739" y="660" width="1" height="3" fill="#c0c0c0"/>
<rect x="743" y="660" width="1" height="1" fill="#c0c0c0"/>
<rect x="747" y="659" width="1" height="2" fill="#c0c0c0"/>
<rect x="751" y="657" width="1" height="4" fill="#c0c0c0"/>
<rect x="755" y="655" width="1" height="6" fill="#c0c0c0"/>
<rect x="759" y="654" width="1" height="7" fill="#c0c0c0"/>
<rect x="763" y="653" width="1" height="8" fill="#c0c0c0"/>
<rect x="767" y="651" width="1" height="10" fill="#c0c0c0"/>
<rect x="771" y="649" width="1" height="12" fill="#c0c0c0"/>
<rect x="775" y="648" width="1" height="13" fill="#c0c0c0"/>
<rect x="779" y="647" width="1" height="14" fill="#c0c0c0"/>
<rect x="783" y="646" width="1" height="15" fill="#c0c0c0"/>
<rect x="787" y="645" width="1" height="16" fill="#c0c0c0"/>
<rect x="791" y="647" width="1" height="14" fill="#c0c0c0"/>
<rect x="795" y="648" width="1" height="13" fill="#c0c0c0"/>
<rect x="799" y="650" width="1" height="11" fill="#c0c0c0"/>
<rect x="803" y="652" width="1" height="9" fill="#c0c0c0"/>
<rect x="807" y="653" width="1" height="8" fill="#c0c0c0"/>
<rect x="811" y="657" width="1" height="4" fill="#c0c0c0"/>
<rect x="815" y="660" width="1" height="1" fill="#c0c0c0"/>
<rect x="819" y="660" width="1" height="4" fill="#c0c0c0"/>
<rect x="823" y="660" width="1" height="9" fill="#c0c0c0"/>
<rect x="827" y="660" width="1" height="16" fill="#c0c0c0"/>
<rect x="831" y="660" width="1" height="20" fill="#c0c0c0"/>
<rect x="835" y="660" width="1" height="26" fill="#c0c0c0"/>
<rect x="839" y="660" width="1" height="35" fill="#c0c0c0"/>
<rect x="843" y="660" width="1" height="42" fill="#c0c0c0"/>
<rect x="847" y="660" width="1" height="50" fill="#c0c0c0"/>
<rect x="851" y="660" width="1" height="55" fill="#c0c0c0"/>
<rect x="855" y="660" width="1" height="55" fill="#c0c0c0"/>
<rect x="859" y="660" width="1" height="49" fill="#c0c0c0"/>
<rect x="863" y="660" width="1" height="41" fill="#c0c0c0"/>
<rect x="867" y="660" width="1" height="37" fill="#c0c0c0"/>
<rect x="871" y="660" width="1" height="36" fill="#c0c0c0"/>
<rect x="875" y="660" width="1" height="27" fill="#c0c0c0"/>
<rect x="879" y="660" width="1" height="17" fill="#c0c0c0"/>
<rect x="883" y="660" width="1" height="3" fill="#c0c0c0"/>
<rect x="887" y="653" width="1" height="8" fill="#c0c0c0"/>
<rect x="891" y="643" width="1" height="18" fill="#c0c0c0"/>
<rect x="895" y="638" width="1" height="23" fill="#c0c0c0"/>
<rect x="899" y="635" width="1" height="26" fill="#c0c0c0"/>
<rect x="903" y="635" width="1" height="26" fill="#c0c0c0"/>
<rect x="907" y="640" width="1" height="21" fill="#c0c0c0"/>
<rect x="911" y="649" width="1" height="12" fill="#c0c0c0"/>
<rect x="915" y="656" width="1" height="5" fill="#c0c0c0"/>
<rect x="919" y="658" width="1" height="3" fill="#c0c0c0"/>
<rect x="923" y="660" width="1" height="1" fill="#c0c0c0"/>
<rect x="927" y="659" width="1" height="2" fill="#c0c0c0"/>
<rect x="931" y="656" width="1" height="5" fill="#c0c0c0"/>
<rect x="935" y="652" width="1" height="9" fill="#c0c0c0"/>
<rect x="939" y="649" width="1" height="12" fill="#c0c0c0"/>
<rect x="943" y="647" width="1" height="14" fill="#c0c0c0"/>
<rect x="947" y="648" width="1" height="13" fill="#c0c0c0"/>
<rect x="951" y="649" width="1" height="12" fill="#c0c0c0"/>
<rect x="955" y="652" width="1" height="9" fill="#c0c0c0"/>
<rect x="959" y="655" width="1" height="6" fill="#c0c0c0"/>
<rect x="963" y="657" width="1" height="4" fill="#c0c0c0"/>
<rect x="967" y="658" width="1" height="3" fill="#c0c0c0"/>
<rect x="971" y="660" width="1" height="1" fill="#c0c0c0"/>
<rect x="975" y="660" width="1" height="1" fill="#c0c0c0"/>
<rect x="979" y="660" width="1" height="1" fill="#c0c0c0"/>
<rect x="983" y="660" width="1" height="1" fill="#c0c0c0"/>
<rect x="987" y="660" width="1" height="1" fill="#c0c0c0"/>
<rect x="991" y="660" width="1" height="1" fill="#c0c0c0"/>
<rect x="995" y="659" width="1" height="2" fill="#c0c0c0"/>
<rect x="999" y="659" width="1" height="2" fill="#c0c0c0"/>
<rect x="1003" y="657" width="1" height="4" fill="#c0c0c0"/>
<rect x="1007" y="654" width="1" height="7" fill="#c0c0c0"/>
<rect x="1011" y="653" width="1" height="8" fill="#c0c0c0"/>
<rect x="1015" y="651" width="1" height="10" fill="#c0c0c0"/>
<rect x="1019" y="651" width="1" height="10" fill="#c0c0c0"/>
<rect x="1023" y="650" width="1" height="11" fill="#c0c0c0"/>
<rect x="1027" y="653" width="1" height="8" fill="#c0c0c0"/>
<rect x="1031" y="658" width="1" height="3" fill="#c0c0c0"/>
<rect x="1035" y="660" width="1" height="1" fill="#c0c0c0"/>
<rect x="1039" y="660" width="1" height="1" fill="#c0c0c0"/>
<rect x="1043" y="660" width="1" height="1" fill="#c0c0c0"/>
<rect x="1047" y="657" width="1" height="4" fill="#c0c0c0"/>
<rect x="1051" y="657" width="1" height="4" fill="#c0c0c0"/>
<rect x="1055" y="657" width="1" height="4" fill="#c0c0c0"/>
<rect x="1059" y="658" width="1" height="3" fill="#c0c0c0"/>
<rect x="1063" y="658" width="1" height="3" fill="#c0c0c0"/>
<rect x="1067" y="658" width="1" height="3" fill="#c0c0c0"/>
<rect x="1071" y="659" width="1" height="2" fill="#c0c0c0"/>
<rect x="1075" y="657" width="1" height="4" fill="#c0c0c0"/>
<rect x="1079" y="657" width="1" height="4" fill="#c0c0c0"/>
<rect x="1083" y="657" width="1" height="4" fill="#c0c0c0"/>
<rect x="1087" y="657" width="1" height="4" fill="#c0c0c0"/>
<rect x="1091" y="657" width="1" height="4" fill="#c0c0c0"/>
<rect x="1095" y="660" width="1" height="1" fill="#c0c0c0"/>
<rect x="1099" y="660" width="1" height="1" fill="#c0c0c0"/>
<rect x="1103" y="659" width="1" height="2" fill="#c0c0c0"/>
<rect x="1107" y="658" width="1" height="3" fill="#c0c0c0"/>
<rect x="1111" y="658" width="1" height="3" fill="#c0c0c0"/>
<rect x="1115" y="659" width="1" height="2" fill="#c0c0c0"/>
<rect x="1119" y="660" width="1" height="1" fill="#c0c0c0"/>
<rect x="1123" y="660" width="1" height="1" fill="#c0c0c0"/>
<rect x="1127" y="660" width="1" height="5" fill="#c0c0c0"/>
<rect x="1131" y="660" width="1" height="7" fill="#c0c0c0"/>
<rect x="1135" y="660" width="1" height="9" fill="#c0c0c0"/>
<rect x="1139" y="660" width="1" height="9" fill="#c0c0c0"/>
<rect x="1143" y="660" width="1" height="10" fill="#c0c0c0"/>
<rect x="1147" y="660" width="1" height="14" fill="#c0c0c0"/>
<rect x="1151" y="660" width="1" height="13" fill="#c0c0c0"/>
<rect x="1155" y="660" width="1" height="13" fill="#c0c0c0"/>
<rect x="1159" y="660" width="1" height="13" fill="#c0c0c0"/>
<rect x="1163" y="660" width="1" height="18" fill="#c0c0c0"/>
<rect x="1167" y="660" width="1" height="24" fill="#c0c0c0"/>
<rect x="1171" y="660" width="1" height="29" fill="#c0c0c0"/>
<rect x="1175" y="660" width="1" height="28" fill="#c0c0c0"/>
<rect x="1179" y="660" width="1" height="27" fill="#c0c0c0"/>
<rect x="1183" y="660" width="1" height="27" fill="#c0c0c0"/>
<rect x="1187" y="660" width="1" height="25" fill="#c0c0c0"/>
<rect x="1191" y="660" width="1" height="24" fill="#c0c0c0"/>
<rect x="1195" y="660" width="1" height="24" fill="#c0c0c0"/>
<rect x="1199" y="660" width="1" height="22" fill="#c0c0c0"/>
<rect x="1203" y="660" width="1" height="20" fill="#c0c0c0"/>
<rect x="1207" y="660" width="1" height="22" fill="#c0c0c0"/>
<rect x="1211" y="660" width="1" height="23" fill="#c0c0c0"/>
<rect x="1215" y="660" width="1" height="23" fill="#c0c0c0"/>
<rect x="1219" y="660" width="1" height="22" fill="#c0c0c0"/>
<rect x="1223" y="660" width="1" height="20" fill="#c0c0c0"/>
<rect x="1227" y="660" width="1" height="19" fill="#c0c0c0"/>
<rect x="1231" y="660" width="1" height="18" fill="#c0c0c0"/>
<rect x="1235" y="660" width="1" height="18" fill="#c0c0c0"/>
<rect x="1239" y="660" width="1" height="18" fill="#c0c0c0"/>
<rect x="1243" y="660" width="1" height="18" fill="#c0c0c0"/>
<rect x="1247" y="660" width="1" height="17" fill="#c0c0c0"/>
<rect x="1251" y="660" width="1" height="17" fill="#c0c0c0"/>
<rect x="1255" y="660" width="1" height="18" fill="#c0c0c0"/>
<rect x="1259" y="660" width="1" height="19" fill="#c0c0c0"/>
<rect x="1263" y="660" width="1" height="21" fill="#c0c0c0"/>
<rect x="1267" y="660" width="1" height="21" fill="#c0c0c0"/>
<path d="M3 686h1v1h-1zM4 685h1v1h-1zM5 684h1v1h-1zM9 681h1v1h-1zM10 680h1v1h-1zM11 679h1v1h-1zM15 676h1v1h-1zM16 675h1v1h-1zM17 674h1v1h-1zM21 671h1v1h-1zM22 670h1v1h-1zM23 669h1v1h-1zM27 667h2v1h-2zM29 666h1v1h-1zM33 665h3v1h-3zM39 664h3v1h-3zM45 664h3v1h-3zM51 664h2v1h-2zM53 665h1v1h-1zM57 665h3v1h-3zM63 665h3v1h-3zM69 665h3v1h-3zM75 664h2v1h-2zM77 663h1v1h-1zM81 662h3v1h-3zM87 661h2v1h-2zM89 660h1v1h-1zM93 659h1v1h-1zM94 658h2v1h-2zM99 658h3v1h-3zM105 659h3v1h-3zM111 661h2v1h-2zM113 662h1v1h-1zM117 665h2v1h-2zM119 666h1v1h-1zM123 669h2v1h-2zM125 670h1v1h-1zM129 673h2v1h-2zM131 674h1v1h-1zM135 677h3v1h-3zM141 678h1v1h-1zM142 679h2v1h-2zM147 679h3v1h-3zM153 678h3v1h-3zM159 676h2v1h-2zM161 675h1v1h-1zM165 674h1v1h-1zM166 673h2v1h-2zM171 671h3v1h-3zM177 669h3v1h-3zM183 667h3v1h-3zM189 665h3v1h-3zM195 663h1v1h-1zM196 662h2v1h-2zM201 660h3v1h-3zM207 658h1v1h-1zM208 657h2v1h-2zM213 655h1v1h-1zM214 654h2v1h-2zM219 653h1v1h-1zM220 652h2v1h-2zM225 651h1v1h-1zM226 650h2v1h-2zM231 649h3v1h-3zM237 649h3v1h-3zM243 648h3v1h-3zM249 647h3v1h-3zM255 646h3v1h-3zM261 646h3v1h-3zM267 646h3v1h-3zM273 646h3v1h-3zM279 646h2v1h-2zM281 647h1v1h-1zM285 647h1v1h-1zM286 648h2v1h-2zM291 648h3v1h-3zM297 649h3v1h-3zM303 649h1v1h-1zM304 650h2v1h-2zM309 649h3v1h-3zM315 649h3v1h-3zM321 649h3v1h-3zM327 648h3v1h-3zM333 648h2v1h-2zM335 649h1v1h-1zM339 649h3v1h-3zM345 649h3v1h-3zM351 649h3v1h-3zM357 651h3v1h-3zM363 653h3v1h-3zM369 655h2v1h-2zM371 656h1v1h-1zM375 657h3v1h-3zM381 659h1v1h-1zM382 660h2v1h-2zM387 661h3v1h-3zM393 662h3v1h-3zM399 661h3v1h-3zM405 661h3v1h-3zM411 661h3v1h-3zM417 662h3v1h-3zM423 662h3v1h-3zM429 663h3v1h-3zM435 663h2v1h-2zM437 662h1v1h-1zM441 661h2v1h-2zM443 660h1v1h-1zM447 660h3v1h-3zM453 659h3v1h-3zM459 659h3v1h-3zM465 659h3v1h-3zM471 660h3v1h-3zM477 661h3v1h-3zM483 661h2v1h-2zM485 660h1v1h-1zM489 659h3v1h-3zM495 658h2v1h-2zM497 657h1v1h-1zM501 656h1v1h-1zM502 655h2v1h-2zM507 654h2v1h-2zM509 653h1v1h-1zM513 653h3v1h-3zM519 653h3v1h-3zM525 653h1v1h-1zM526 654h1v1h-1zM527 655h1v1h-1zM531 656h3v1h-3zM537 658h1v1h-1zM538 659h2v1h-2zM543 661h2v1h-2zM545 662h1v1h-1zM549 664h3v1h-3zM555 666h3v1h-3zM561 667h1v1h-1zM562 668h2v1h-2zM567 670h3v1h-3zM573 671h1v1h-1zM574 672h2v1h-2zM579 673h3v1h-3zM585 674h1v1h-1zM586 675h2v1h-2zM591 675h3v1h-3zM597 676h3v1h-3zM603 676h3v1h-3zM609 677h1v1h-1zM610 678h2v1h-2zM615 679h3v1h-3zM621 680h1v1h-1zM622 681h2v1h-2zM627 682h3v1h-3zM633 683h1v1h-1zM634 684h2v1h-2zM639 685h3v1h-3zM645 684h3v1h-3zM651 683h2v1h-2zM653 682h1v1h-1zM657 681h3v1h-3zM663 680h3v1h-3zM669 679h3v1h-3zM675 679h3v1h-3zM681 678h3v1h-3zM687 678h3v1h-3zM693 677h3v1h-3zM699 676h2v1h-2zM701 675h1v1h-1zM705 673h3v1h-3zM711 671h3v1h-3zM717 669h3v1h-3zM723 669h3v1h-3zM729 668h3v1h-3zM735 668h2v1h-2zM737 667h1v1h-1zM741 666h3v1h-3zM747 665h3v1h-3zM753 663h3v1h-3zM759 661h1v1h-1zM760 660h2v1h-2zM765 658h1v1h-1zM766 657h2v1h-2zM771 655h2v1h-2zM773 654h1v1h-1zM777 652h2v1h-2zM779 651h1v1h-1zM783 650h2v1h-2zM785 649h1v1h-1zM789 648h2v1h-2zM791 647h1v1h-1zM795 647h3v1h-3zM801 647h3v1h-3zM807 647h3v1h-3zM813 649h2v1h-2zM815 650h1v1h-1zM819 652h1v1h-1zM820 653h2v1h-2zM825 656h1v1h-1zM826 657h1v1h-1zM827 658h1v1h-1zM831 662h1v1h-1zM832 663h1v1h-1zM833 664h1v1h-1zM836 668h1v1h-1zM837 669h1v1h-1zM838 670h1v1h-1zM841 674h1v1h-1zM842 675h1v1h-1zM843 676h1v1h-1zM846 680h1v1h-1zM846 681h1v1h-1zM847 682h1v1h-1zM849 686h1v1h-1zM850 687h1v1h-1zM851 688h1v1h-1zM854 692h1v1h-1zM855 693h1v1h-1zM855 694h1v1h-1zM858 698h1v1h-1zM859 699h1v1h-1zM860 700h1v1h-1zM864 703h2v1h-2zM866 704h1v1h-1zM870 705h1v1h-1zM871 704h2v1h-2zM876 702h1v1h-1zM877 701h2v1h-2zM882 697h1v1h-1zM883 696h1v1h-1zM884 695h1v1h-1zM886 691h1v1h-1zM886 690h1v1h-1zM887 689h1v1h-1zM889 685h1v1h-1zM890 684h1v1h-1zM890 683h1v1h-1zM892 679h1v1h-1zM893 678h1v1h-1zM893 677h1v1h-1zM895 673h1v1h-1zM895 672h1v1h-1zM896 671h1v1h-1zM898 667h1v1h-1zM898 666h1v1h-1zM899 665h1v1h-1zM901 661h1v1h-1zM902 660h1v1h-1zM903 659h1v1h-1zM906 655h1v1h-1zM906 654h1v1h-1zM907 653h1v1h-1zM910 649h1v1h-1zM910 648h1v1h-1zM911 647h1v1h-1zM915 645h2v1h-2zM917 644h1v1h-1zM921 644h2v1h-2zM923 645h1v1h-1zM927 647h2v1h-2zM929 648h1v1h-1zM933 650h2v1h-2zM935 651h1v1h-1zM939 652h3v1h-3zM945 653h3v1h-3zM951 652h3v1h-3zM957 651h3v1h-3zM963 651h3v1h-3zM969 651h1v1h-1zM970 652h2v1h-2zM975 653h1v1h-1zM976 654h2v1h-2zM981 656h3v1h-3zM987 658h3v1h-3zM993 659h3v1h-3zM999 659h3v1h-3zM1005 658h3v1h-3zM1011 657h2v1h-2zM1013 656h1v1h-1zM1017 655h1v1h-1zM1018 654h2v1h-2zM1023 654h1v1h-1zM1024 653h2v1h-2zM1029 653h3v1h-3zM1035 653h3v1h-3zM1041 655h3v1h-3zM1047 656h3v1h-3zM1053 656h2v1h-2zM1055 657h1v1h-1zM1059 658h3v1h-3zM1065 658h3v1h-3zM1071 658h3v1h-3zM1077 657h2v1h-2zM1079 656h1v1h-1zM1083 656h3v1h-3zM1089 656h3v1h-3zM1095 657h3v1h-3zM1101 657h3v1h-3zM1107 657h3v1h-3zM1113 658h3v1h-3zM1119 658h3v1h-3zM1125 659h1v1h-1zM1126 660h2v1h-2zM1131 661h3v1h-3zM1137 662h1v1h-1zM1138 663h2v1h-2zM1143 665h3v1h-3zM1149 667h2v1h-2zM1151 668h1v1h-1zM1155 669h3v1h-3zM1161 671h2v1h-2zM1163 672h1v1h-1zM1167 674h3v1h-3zM1173 677h2v1h-2zM1175 678h1v1h-1zM1179 680h2v1h-2zM1181 681h1v1h-1zM1185 682h1v1h-1zM1186 683h2v1h-2zM1191 685h3v1h-3zM1197 686h3v1h-3zM1203 686h2v1h-2zM1205 685h1v1h-1zM1209 684h3v1h-3zM1215 684h2v1h-2zM1217 683h1v1h-1zM1221 682h3v1h-3zM1227 682h3v1h-3zM1233 681h3v1h-3zM1239 680h3v1h-3zM1245 679h3v1h-3zM1251 679h3v1h-3zM1257 678h3v1h-3zM1263 678h2v1h-2z" fill="#ff0000"/>
<rect x="1596" y="34" width="2" height="1" fill="#000"/>
<text x="1601" y="38" font-size="9.6" fill="#000" color="#000" textLength="33" lengthAdjust="spacing">1.00570</text>
<rect x="1596" y="67" width="2" height="1" fill="#000"/>
<text x="1601" y="71" font-size="9.6" fill="#000" color="#000" textLength="33" lengthAdjust="spacing">0.99970</text>
<rect x="1596" y="100" width="2" height="1" fill="#000"/>
<text x="1601" y="104" font-size="9.6" fill="#000" color="#000" textLength="33" lengthAdjust="spacing">0.99385</text>
<rect x="1596" y="133" width="2" height="1" fill="#000"/>
<text x="1601" y="137" font-size="9.6" fill="#000" color="#000" textLength="33" lengthAdjust="spacing">0.98785</text>
<rect x="1596" y="166" width="2" height="1" fill="#000"/>
<text x="1601" y="170" font-size="9.6" fill="#000" color="#000" textLength="33" lengthAdjust="spacing">0.98185</text>
<rect x="1596" y="199" width="2" height="1" fill="#000"/>
<text x="1601" y="203" font-size="9.6" fill="#000" color="#000" textLength="33" lengthAdjust="spacing">0.97600</text>
<rect x="1596" y="232" width="2" height="1" fill="#000"/>
<text x="1601" y="236" font-size="9.6" fill="#000" color="#000" textLength="33" lengthAdjust="spacing">0.97000</text>
<rect x="1596" y="265" width="2" height="1" fill="#000"/>
<text x="1601" y="269" font-size="9.6" fill="#000" color="#000" textLength="33" lengthAdjust="spacing">0.96400</text>
<rect x="1596" y="298" width="2" height="1" fill="#000"/>
<text x="1601" y="302" font-size="9.6" fill="#000" color="#000" textLength="33" lengthAdjust="spacing">0.95815</text>
<rect x="1596" y="331" width="2" height="1" fill="#000"/>
<text x="1601" y="335" font-size="9.6" fill="#000" color="#000" textLength="33" lengthAdjust="spacing">0.95215</text>
<rect x="1596" y="364" width="2" height="1" fill="#000"/>
<text x="1601" y="368" font-size="9.6" fill="#000" color="#000" textLength="33" lengthAdjust="spacing">0.94615</text>
<rect x="1596" y="397" width="2" height="1" fill="#000"/>
<text x="1601" y="401" font-size="9.6" fill="#000" color="#000" textLength="33" lengthAdjust="spacing">0.94030</text>
<rect x="1596" y="430" width="2" height="1" fill="#000"/>
<text x="1601" y="434" font-size="9.6" fill="#000" color="#000" textLength="33" lengthAdjust="spacing">0.93430</text>
<rect x="1596" y="463" width="2" height="1" fill="#000"/>
<text x="1601" y="467" font-size="9.6" fill="#000" color="#000" textLength="33" lengthAdjust="spacing">0.92830</text>
<rect x="1596" y="496" width="2" height="1" fill="#000"/>
<text x="1601" y="500" font-size="9.6" fill="#000" color="#000" textLength="33" lengthAdjust="spacing">0.92245</text>
<rect x="1596" y="529" width="2" height="1" fill="#000"/>
<text x="1601" y="533" font-size="9.6" fill="#000" color="#000" textLength="33" lengthAdjust="spacing">0.91645</text>

<rect x="1597" y="170" width="41" height="11" fill="#ff0000"/>
<text x="1601" y="179" font-size="9.6" fill="#fff" color="#fff" textLength="33" lengthAdjust="spacing">0.98008</text>
<rect x="1597" y="237" width="41" height="11" fill="#ff0000"/>
<text x="1601" y="246" font-size="9.6" fill="#fff" color="#fff" textLength="33" lengthAdjust="spacing">0.96803</text>
<rect x="1597" y="295" width="41" height="11" fill="#00ff00"/>
<text x="1601" y="304" font-size="9.6" fill="#fff" color="#fff" textLength="33" lengthAdjust="spacing">0.95758</text>
<rect x="1597" y="370" width="41" height="11" fill="#0000ff"/>
<text x="1601" y="379" font-size="9.6" fill="#fff" color="#fff" textLength="33" lengthAdjust="spacing">0.94408</text>
<rect x="1597" y="448" width="41" height="11" fill="#0000ff"/>
<text x="1601" y="457" font-size="9.6" fill="#fff" color="#fff" textLength="33" lengthAdjust="spacing">0.93004</text>
<rect x="1597" y="403" width="41" height="11" fill="#000000"/>
<text x="1601" y="412" font-size="9.6" fill="#fff" color="#fff" textLength="33" lengthAdjust="spacing">0.93831</text>

<rect x="1596" y="536" width="1" height="1" fill="#000"/>
<rect x="1596" y="625" width="1" height="1" fill="#000"/>
<rect x="1596" y="630" width="1" height="1" fill="#000"/>
<rect x="1596" y="660" width="1" height="1" fill="#000"/>
<rect x="1596" y="719" width="1" height="1" fill="#000"/>
<text x="1599.4" y="545" font-size="9.6" fill="#000" color="#000" textLength="14.6" lengthAdjust="spacing">100</text>
<text x="1598.6" y="566" font-size="9.6" fill="#000" color="#000" textLength="9.6" lengthAdjust="spacing">70</text>
<text x="1598.6" y="602" font-size="9.6" fill="#000" color="#000" textLength="9.6" lengthAdjust="spacing">30</text>
<text x="1599.4" y="623" font-size="9.6" fill="#000" color="#000">0</text>
<text x="1599.4" y="639" font-size="9.6" fill="#000" color="#000" textLength="37.3" lengthAdjust="spacing">0.005818</text>
<text x="1599.4" y="664" font-size="9.6" fill="#000" color="#000" textLength="17.4" lengthAdjust="spacing">0.00</text>
<text x="1599.2" y="717" font-size="9.6" fill="#000" color="#000" textLength="41" lengthAdjust="spacing">-0.011514</text>
<rect x="3" y="721" width="1" height="3" fill="#000"/>
<text x="2.2" y="733" font-size="9.6" fill="#000" color="#000" textLength="42.4" lengthAdjust="spacing">6 Jul 2019</text>
<rect x="67" y="721" width="1" height="3" fill="#000"/>
<text x="66.2" y="733" font-size="9.6" fill="#000" color="#000" textLength="47.6" lengthAdjust="spacing">25 Jul 2019</text>
<rect x="131" y="721" width="1" height="3" fill="#000"/>
<text x="130.2" y="733" font-size="9.6" fill="#000" color="#000" textLength="51.7" lengthAdjust="spacing">13 Aug 2019</text>
<rect x="195" y="721" width="1" height="3" fill="#000"/>
<text x="194.2" y="733" font-size="9.6" fill="#000" color="#000" textLength="51.7" lengthAdjust="spacing">31 Aug 2019</text>
<rect x="259" y="721" width="1" height="3" fill="#000"/>
<text x="258.2" y="733" font-size="9.6" fill="#000" color="#000" textLength="52.2" lengthAdjust="spacing">19 Sep 2019</text>
<rect x="323" y="721" width="1" height="3" fill="#000"/>
<text x="322.2" y="733" font-size="9.6" fill="#000" color="#000" textLength="45.0" lengthAdjust="spacing">8 Oct 2019</text>
<rect x="387" y="721" width="1" height="3" fill="#000"/>
<text x="386.2" y="733" font-size="9.6" fill="#000" color="#000" textLength="50.1" lengthAdjust="spacing">26 Oct 2019</text>
<rect x="451" y="721" width="1" height="3" fill="#000"/>
<text x="450.2" y="733" font-size="9.6" fill="#000" color="#000" textLength="52.2" lengthAdjust="spacing">14 Nov 2019</text>
<rect x="515" y="721" width="1" height="3" fill="#000"/>
<text x="514.2" y="733" font-size="9.6" fill="#000" color="#000" textLength="47.0" lengthAdjust="spacing">3 Dec 2019</text>
<rect x="579" y="721" width="1" height="3" fill="#000"/>
<text x="578.2" y="733" font-size="9.6" fill="#000" color="#000" textLength="52.2" lengthAdjust="spacing">21 Dec 2019</text>
<rect x="643" y="721" width="1" height="3" fill="#000"/>
<text x="642.2" y="733" font-size="9.6" fill="#000" color="#000" textLength="45.5" lengthAdjust="spacing">9 Jan 2020</text>
<rect x="707" y="721" width="1" height="3" fill="#000"/>
<text x="706.2" y="733" font-size="9.6" fill="#000" color="#000" textLength="50.6" lengthAdjust="spacing">28 Jan 2020</text>
<rect x="771" y="721" width="1" height="3" fill="#000"/>
<text x="770.2" y="733" font-size="9.6" fill="#000" color="#000" textLength="51.6" lengthAdjust="spacing">15 Feb 2020</text>
<rect x="835" y="721" width="1" height="3" fill="#000"/>
<text x="834.2" y="733" font-size="9.6" fill="#000" color="#000" textLength="46.5" lengthAdjust="spacing">5 Mar 2020</text>
<rect x="899" y="721" width="1" height="3" fill="#000"/>
<text x="898.2" y="733" font-size="9.6" fill="#000" color="#000" textLength="51.6" lengthAdjust="spacing">24 Mar 2020</text>
<rect x="963" y="721" width="1" height="3" fill="#000"/>
<text x="962.2" y="733" font-size="9.6" fill="#000" color="#000" textLength="48.9" lengthAdjust="spacing">11 Apr 2020</text>
<rect x="1027" y="721" width="1" height="3" fill="#000"/>
<text x="1026.2" y="733" font-size="9.6" fill="#000" color="#000" textLength="49.6" lengthAdjust="spacing">30 Apr 2020</text>
<rect x="1091" y="721" width="1" height="3" fill="#000"/>
<text x="1090.2" y="733" font-size="9.6" fill="#000" color="#000" textLength="53.2" lengthAdjust="spacing">19 May 2020</text>
<rect x="1155" y="721" width="1" height="3" fill="#000"/>
<text x="1154.2" y="733" font-size="9.6" fill="#000" color="#000" textLength="45.5" lengthAdjust="spacing">6 Jun 2020</text>
<rect x="1219" y="721" width="1" height="3" fill="#000"/>
<text x="1218.2" y="733" font-size="9.6" fill="#000" color="#000" textLength="50.6" lengthAdjust="spacing">25 Jun 2020</text>
<rect x="0" y="741" width="1640" height="1" fill="#e3e3e3"/>
<rect x="0" y="743" width="1639" height="20" fill="#f0f0f0"/>
<rect x="0" y="763" width="1640" height="1" fill="#fafafa"/>
<rect x="0" y="764" width="1639" height="2" fill="#f0f0f0"/>
<rect x="0" y="743" width="1640" height="1" fill="#000"/>
<rect x="109" y="743" width="98" height="18" fill="#fff"/>
<rect x="108" y="743" width="1" height="19" fill="#000"/>
<rect x="207" y="743" width="1" height="19" fill="#000"/>
<rect x="108" y="761" width="100" height="1" fill="#000"/>
<text x="16.8" y="758" font-size="12" fill="#707070" color="#707070" textLength="79.2" lengthAdjust="spacing" style="stroke:none">EURUSD,Daily</text>
<text x="118.3" y="758" font-size="12" fill="#000" color="#000" textLength="79.1" lengthAdjust="spacing" style="stroke-width:0.12px">USDCHF,Daily</text>
<text x="219.6" y="758" font-size="12" fill="#707070" color="#707070" textLength="81" lengthAdjust="spacing" style="stroke:none">AUDUSD,Daily</text>
<text x="323.5" y="758" font-size="12" fill="#707070" color="#707070" textLength="80.7" lengthAdjust="spacing" style="stroke:none">USDCAD,Daily</text>
<text x="426.7" y="758" font-size="12" fill="#707070" color="#707070" textLength="82.6" lengthAdjust="spacing" style="stroke:none">USDCNH,Daily</text>
<text x="531.8" y="758" font-size="12" fill="#707070" color="#707070" textLength="76.7" lengthAdjust="spacing" style="stroke:none">EURUSD,M15</text>
<text x="631.5" y="758" font-size="12" fill="#707070" color="#707070" textLength="77.5" lengthAdjust="spacing" style="stroke:none">GBPUSD,M30</text>
<text x="731.3" y="758" font-size="12" fill="#707070" color="#707070" textLength="80.7" lengthAdjust="spacing" style="stroke:none">XAUUSD,Daily</text>
<text x="835.7" y="758" font-size="12" fill="#707070" color="#707070" textLength="48.8" lengthAdjust="spacing" style="stroke:none">HK50,H1</text>
<text x="907.7" y="758" font-size="12" fill="#707070" color="#707070" textLength="55.5" lengthAdjust="spacing" style="stroke:none">UK100,H1</text>
<text x="987.7" y="758" font-size="12" fill="#707070" color="#707070" textLength="55.3" lengthAdjust="spacing" style="stroke:none">UK100,H1</text>
<text x="1067.3" y="758" font-size="12" fill="#707070" color="#707070" textLength="56" lengthAdjust="spacing" style="stroke:none">GER30,H1</text>
<text x="1146.7" y="758" font-size="12" fill="#707070" color="#707070" textLength="53.6" lengthAdjust="spacing" style="stroke:none">FRA40,H1</text>
<text x="1222.8" y="758" font-size="12" fill="#707070" color="#707070" textLength="62" lengthAdjust="spacing" style="stroke:none">USOil,Daily</text>
<text x="1306.7" y="758" font-size="12" fill="#707070" color="#707070" textLength="61.8" lengthAdjust="spacing" style="stroke:none">USDJPY,H1</text>
<text x="1391.5" y="758" font-size="12" fill="#707070" color="#707070" textLength="56.2" lengthAdjust="spacing" style="stroke:none">DJ30,M15</text>
<rect x="312" y="746" width="1" height="14" fill="#707070"/>
<rect x="416" y="746" width="1" height="14" fill="#707070"/>
<rect x="520" y="746" width="1" height="14" fill="#707070"/>
<rect x="620" y="746" width="1" height="14" fill="#707070"/>
<rect x="720" y="746" width="1" height="14" fill="#707070"/>
<rect x="824" y="746" width="1" height="14" fill="#707070"/>
<rect x="896" y="746" width="1" height="14" fill="#707070"/>
<rect x="976" y="746" width="1" height="14" fill="#707070"/>
<rect x="1056" y="746" width="1" height="14" fill="#707070"/>
<rect x="1136" y="746" width="1" height="14" fill="#707070"/>
<rect x="1212" y="746" width="1" height="14" fill="#707070"/>
<rect x="1296" y="746" width="1" height="14" fill="#707070"/>
<rect x="1380" y="746" width="1" height="14" fill="#707070"/>
<rect x="1460" y="746" width="1" height="14" fill="#707070"/>
<g class="aa"><path d="M1614.6 749 L1614.6 755.4 L1610.6 752.2 Z" fill="#8c8c8c"/><path d="M1629.8 749 L1629.8 755.4 L1633.8 752.2 Z" fill="#8c8c8c"/></g>
</svg>
</body></html>
